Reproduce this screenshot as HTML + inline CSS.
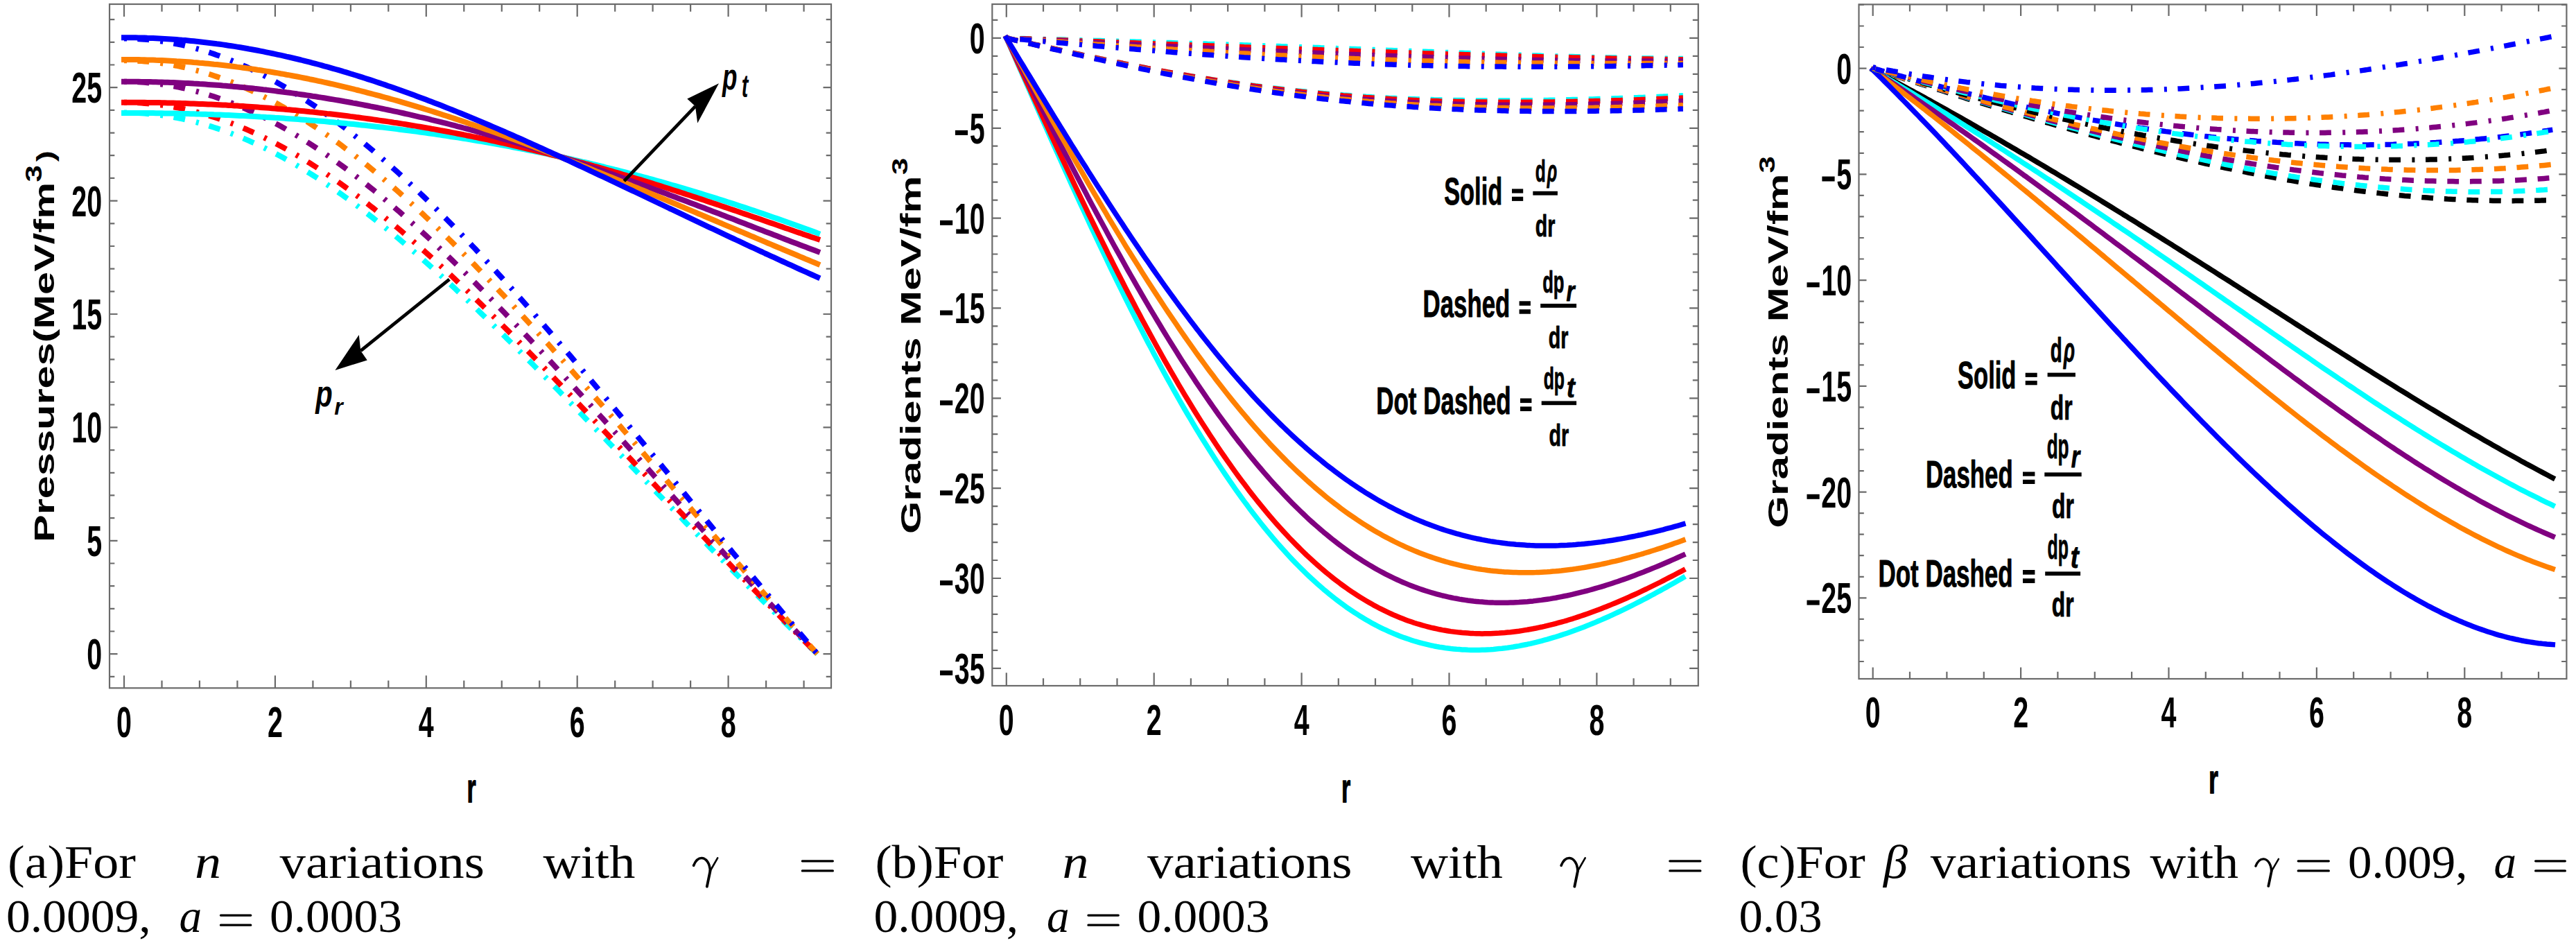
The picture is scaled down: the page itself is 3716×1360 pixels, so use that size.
<!DOCTYPE html>
<html><head><meta charset="utf-8"><style>
html,body{margin:0;padding:0;background:#fff;overflow:hidden}
svg{display:block}
</style></head><body>
<svg width="3716" height="1360" viewBox="0 0 3716 1360">
<rect width="3716" height="1360" fill="#fff"/>
<rect x="158.0" y="6.0" width="1041.0" height="986.3" fill="none" stroke="#6b6b6b" stroke-width="2.2"/>
<path d="M179.0,992.3V974.3M179.0,6.0V24.0M396.9,992.3V974.3M396.9,6.0V24.0M614.8,992.3V974.3M614.8,6.0V24.0M832.7,992.3V974.3M832.7,6.0V24.0M1050.6,992.3V974.3M1050.6,6.0V24.0M233.5,992.3V981.5M233.5,6.0V16.8M287.9,992.3V981.5M287.9,6.0V16.8M342.4,992.3V981.5M342.4,6.0V16.8M451.4,992.3V981.5M451.4,6.0V16.8M505.9,992.3V981.5M505.9,6.0V16.8M560.3,992.3V981.5M560.3,6.0V16.8M669.3,992.3V981.5M669.3,6.0V16.8M723.8,992.3V981.5M723.8,6.0V16.8M778.2,992.3V981.5M778.2,6.0V16.8M887.2,992.3V981.5M887.2,6.0V16.8M941.6,992.3V981.5M941.6,6.0V16.8M996.1,992.3V981.5M996.1,6.0V16.8M1105.1,992.3V981.5M1105.1,6.0V16.8M1159.6,992.3V981.5M1159.6,6.0V16.8M158.0,943.2H169.5M1199.0,943.2H1187.5M158.0,779.8H169.5M1199.0,779.8H1187.5M158.0,616.4H169.5M1199.0,616.4H1187.5M158.0,453.0H169.5M1199.0,453.0H1187.5M158.0,289.6H169.5M1199.0,289.6H1187.5M158.0,126.2H169.5M1199.0,126.2H1187.5M158.0,975.9H165.3M1199.0,975.9H1191.7M158.0,910.5H165.3M1199.0,910.5H1191.7M158.0,877.8H165.3M1199.0,877.8H1191.7M158.0,845.2H165.3M1199.0,845.2H1191.7M158.0,812.5H165.3M1199.0,812.5H1191.7M158.0,747.1H165.3M1199.0,747.1H1191.7M158.0,714.4H165.3M1199.0,714.4H1191.7M158.0,681.8H165.3M1199.0,681.8H1191.7M158.0,649.1H165.3M1199.0,649.1H1191.7M158.0,583.7H165.3M1199.0,583.7H1191.7M158.0,551.0H165.3M1199.0,551.0H1191.7M158.0,518.4H165.3M1199.0,518.4H1191.7M158.0,485.7H165.3M1199.0,485.7H1191.7M158.0,420.3H165.3M1199.0,420.3H1191.7M158.0,387.6H165.3M1199.0,387.6H1191.7M158.0,355.0H165.3M1199.0,355.0H1191.7M158.0,322.3H165.3M1199.0,322.3H1191.7M158.0,256.9H165.3M1199.0,256.9H1191.7M158.0,224.2H165.3M1199.0,224.2H1191.7M158.0,191.6H165.3M1199.0,191.6H1191.7M158.0,158.9H165.3M1199.0,158.9H1191.7M158.0,93.5H165.3M1199.0,93.5H1191.7M158.0,60.8H165.3M1199.0,60.8H1191.7M158.0,28.2H165.3M1199.0,28.2H1191.7" stroke="#6b6b6b" stroke-width="2.2" fill="none"/>
<path d="M179.0,162.5 183.2,162.5 187.4,162.6 191.6,162.7 195.7,162.8 199.9,163.0 204.1,163.3 208.3,163.6 212.5,163.9 216.7,164.3 220.8,164.7 225.0,165.2 229.2,165.7 233.4,166.2 237.6,166.8 241.8,167.5 246.0,168.2 250.1,168.9 254.3,169.7 258.5,170.5 262.7,171.4 266.9,172.3 271.1,173.2 275.2,174.2 279.4,175.2 283.6,176.3 287.8,177.4 292.0,178.6 296.2,179.8 300.4,181.1 304.5,182.4 308.7,183.7 312.9,185.1 317.1,186.5 321.3,187.9 325.5,189.4 329.7,191.0 333.8,192.6 338.0,194.2 342.2,195.8 346.4,197.5 350.6,199.3 354.8,201.1 358.9,202.9 363.1,204.8 367.3,206.7 371.5,208.6 375.7,210.6 379.9,212.6 384.1,214.6 388.2,216.7 392.4,218.9 396.6,221.0 400.8,223.2 405.0,225.5 409.2,227.8 413.3,230.1 417.5,232.4 421.7,234.8 425.9,237.2 430.1,239.7 434.3,242.2 438.5,244.7 442.6,247.3 446.8,249.9 451.0,252.5 455.2,255.2 459.4,257.9 463.6,260.6 467.7,263.4 471.9,266.2 476.1,269.0 480.3,271.8 484.5,274.7 488.7,277.6 492.9,280.6 497.0,283.6 501.2,286.6 505.4,289.6 509.6,292.7 513.8,295.8 518.0,298.9 522.2,302.1 526.3,305.3 530.5,308.5 534.7,311.7 538.9,315.0 543.1,318.3 547.3,321.6 551.4,324.9 555.6,328.3 559.8,331.7 564.0,335.1 568.2,338.6 572.4,342.0 576.6,345.5 580.7,349.0 584.9,352.6 589.1,356.1 593.3,359.7 597.5,363.3 601.7,366.9 605.8,370.6 610.0,374.3 614.2,378.0 618.4,381.7 622.6,385.4 626.8,389.1 631.0,392.9 635.1,396.7 639.3,400.5 643.5,404.3 647.7,408.2 651.9,412.0 656.1,415.9 660.2,419.8 664.4,423.7 668.6,427.7 672.8,431.6 677.0,435.6 681.2,439.5 685.4,443.5 689.5,447.5 693.7,451.6 697.9,455.6 702.1,459.6 706.3,463.7 710.5,467.8 714.7,471.9 718.8,476.0 723.0,480.1 727.2,484.2 731.4,488.3 735.6,492.5 739.8,496.6 743.9,500.8 748.1,505.0 752.3,509.2 756.5,513.3 760.7,517.6 764.9,521.8 769.1,526.0 773.2,530.2 777.4,534.5 781.6,538.7 785.8,543.0 790.0,547.2 794.2,551.5 798.3,555.8 802.5,560.0 806.7,564.3 810.9,568.6 815.1,572.9 819.3,577.2 823.5,581.5 827.6,585.8 831.8,590.2 836.0,594.5 840.2,598.8 844.4,603.1 848.6,607.5 852.7,611.8 856.9,616.1 861.1,620.5 865.3,624.8 869.5,629.2 873.7,633.5 877.9,637.9 882.0,642.2 886.2,646.6 890.4,650.9 894.6,655.3 898.8,659.6 903.0,664.0 907.2,668.4 911.3,672.7 915.5,677.1 919.7,681.4 923.9,685.8 928.1,690.1 932.3,694.5 936.4,698.8 940.6,703.2 944.8,707.5 949.0,711.9 953.2,716.2 957.4,720.6 961.6,724.9 965.7,729.2 969.9,733.6 974.1,737.9 978.3,742.2 982.5,746.5 986.7,750.9 990.8,755.2 995.0,759.5 999.2,763.8 1003.4,768.1 1007.6,772.4 1011.8,776.7 1016.0,781.0 1020.1,785.3 1024.3,789.6 1028.5,793.8 1032.7,798.1 1036.9,802.4 1041.1,806.6 1045.2,810.9 1049.4,815.1 1053.6,819.4 1057.8,823.6 1062.0,827.8 1066.2,832.0 1070.4,836.3 1074.5,840.5 1078.7,844.7 1082.9,848.9 1087.1,853.1 1091.3,857.2 1095.5,861.4 1099.7,865.6 1103.8,869.7 1108.0,873.9 1112.2,878.0 1116.4,882.2 1120.6,886.3 1124.8,890.4 1128.9,894.5 1133.1,898.6 1137.3,902.7 1141.5,906.8 1145.7,910.9 1149.9,915.0 1154.1,919.0 1158.2,923.1 1162.4,927.1 1166.6,931.1 1170.8,935.2 1175.0,939.2 1179.2,943.2" fill="none" stroke="#00ffff" stroke-width="8" stroke-linecap="butt" stroke-linejoin="round" stroke-dasharray="4 15.4 16.8 16.3" stroke-dashoffset="0"/>
<path d="M179.0,147.8 183.2,147.8 187.4,147.9 191.6,148.0 195.7,148.1 199.9,148.3 204.1,148.6 208.3,148.9 212.5,149.2 216.7,149.6 220.8,150.0 225.0,150.5 229.2,151.0 233.4,151.5 237.6,152.1 241.8,152.8 246.0,153.5 250.1,154.2 254.3,155.0 258.5,155.8 262.7,156.6 266.9,157.5 271.1,158.5 275.2,159.5 279.4,160.5 283.6,161.6 287.8,162.7 292.0,163.9 296.2,165.1 300.4,166.3 304.5,167.6 308.7,168.9 312.9,170.3 317.1,171.7 321.3,173.2 325.5,174.7 329.7,176.2 333.8,177.8 338.0,179.4 342.2,181.1 346.4,182.8 350.6,184.5 354.8,186.3 358.9,188.1 363.1,190.0 367.3,191.9 371.5,193.8 375.7,195.8 379.9,197.8 384.1,199.9 388.2,202.0 392.4,204.1 396.6,206.3 400.8,208.5 405.0,210.7 409.2,213.0 413.3,215.3 417.5,217.7 421.7,220.1 425.9,222.5 430.1,225.0 434.3,227.5 438.5,230.0 442.6,232.6 446.8,235.2 451.0,237.8 455.2,240.5 459.4,243.2 463.6,245.9 467.7,248.7 471.9,251.5 476.1,254.3 480.3,257.2 484.5,260.1 488.7,263.0 492.9,266.0 497.0,269.0 501.2,272.0 505.4,275.1 509.6,278.2 513.8,281.3 518.0,284.4 522.2,287.6 526.3,290.8 530.5,294.0 534.7,297.3 538.9,300.5 543.1,303.9 547.3,307.2 551.4,310.6 555.6,314.0 559.8,317.4 564.0,320.8 568.2,324.3 572.4,327.8 576.6,331.3 580.7,334.8 584.9,338.4 589.1,342.0 593.3,345.6 597.5,349.2 601.7,352.9 605.8,356.6 610.0,360.3 614.2,364.0 618.4,367.8 622.6,371.5 626.8,375.3 631.0,379.1 635.1,382.9 639.3,386.8 643.5,390.7 647.7,394.5 651.9,398.4 656.1,402.4 660.2,406.3 664.4,410.3 668.6,414.2 672.8,418.2 677.0,422.2 681.2,426.3 685.4,430.3 689.5,434.4 693.7,438.4 697.9,442.5 702.1,446.6 706.3,450.7 710.5,454.9 714.7,459.0 718.8,463.2 723.0,467.3 727.2,471.5 731.4,475.7 735.6,479.9 739.8,484.2 743.9,488.4 748.1,492.6 752.3,496.9 756.5,501.1 760.7,505.4 764.9,509.7 769.1,514.0 773.2,518.3 777.4,522.6 781.6,526.9 785.8,531.3 790.0,535.6 794.2,540.0 798.3,544.3 802.5,548.7 806.7,553.0 810.9,557.4 815.1,561.8 819.3,566.2 823.5,570.6 827.6,575.0 831.8,579.4 836.0,583.8 840.2,588.2 844.4,592.6 848.6,597.1 852.7,601.5 856.9,605.9 861.1,610.4 865.3,614.8 869.5,619.3 873.7,623.7 877.9,628.2 882.0,632.6 886.2,637.1 890.4,641.5 894.6,646.0 898.8,650.5 903.0,654.9 907.2,659.4 911.3,663.8 915.5,668.3 919.7,672.8 923.9,677.2 928.1,681.7 932.3,686.2 936.4,690.6 940.6,695.1 944.8,699.6 949.0,704.0 953.2,708.5 957.4,713.0 961.6,717.4 965.7,721.9 969.9,726.3 974.1,730.8 978.3,735.2 982.5,739.7 986.7,744.1 990.8,748.6 995.0,753.0 999.2,757.5 1003.4,761.9 1007.6,766.3 1011.8,770.8 1016.0,775.2 1020.1,779.6 1024.3,784.0 1028.5,788.4 1032.7,792.8 1036.9,797.2 1041.1,801.6 1045.2,806.0 1049.4,810.4 1053.6,814.8 1057.8,819.2 1062.0,823.5 1066.2,827.9 1070.4,832.3 1074.5,836.6 1078.7,841.0 1082.9,845.3 1087.1,849.6 1091.3,854.0 1095.5,858.3 1099.7,862.6 1103.8,866.9 1108.0,871.2 1112.2,875.5 1116.4,879.8 1120.6,884.1 1124.8,888.4 1128.9,892.6 1133.1,896.9 1137.3,901.1 1141.5,905.4 1145.7,909.6 1149.9,913.8 1154.1,918.1 1158.2,922.3 1162.4,926.5 1166.6,930.7 1170.8,934.9 1175.0,939.0 1179.2,943.2" fill="none" stroke="#ff0000" stroke-width="8" stroke-linecap="butt" stroke-linejoin="round" stroke-dasharray="4 15.4 16.8 16.3" stroke-dashoffset="0"/>
<path d="M179.0,117.7 183.2,117.7 187.4,117.8 191.6,117.9 195.7,118.1 199.9,118.3 204.1,118.5 208.3,118.8 212.5,119.2 216.7,119.5 220.8,120.0 225.0,120.5 229.2,121.0 233.4,121.5 237.6,122.2 241.8,122.8 246.0,123.5 250.1,124.3 254.3,125.0 258.5,125.9 262.7,126.8 266.9,127.7 271.1,128.7 275.2,129.7 279.4,130.7 283.6,131.8 287.8,133.0 292.0,134.2 296.2,135.4 300.4,136.7 304.5,138.0 308.7,139.3 312.9,140.7 317.1,142.2 321.3,143.7 325.5,145.2 329.7,146.8 333.8,148.4 338.0,150.1 342.2,151.8 346.4,153.5 350.6,155.3 354.8,157.1 358.9,159.0 363.1,160.9 367.3,162.8 371.5,164.8 375.7,166.8 379.9,168.9 384.1,171.0 388.2,173.1 392.4,175.3 396.6,177.6 400.8,179.8 405.0,182.1 409.2,184.4 413.3,186.8 417.5,189.2 421.7,191.7 425.9,194.2 430.1,196.7 434.3,199.2 438.5,201.8 442.6,204.5 446.8,207.1 451.0,209.8 455.2,212.6 459.4,215.4 463.6,218.2 467.7,221.0 471.9,223.9 476.1,226.8 480.3,229.7 484.5,232.7 488.7,235.7 492.9,238.7 497.0,241.8 501.2,244.9 505.4,248.1 509.6,251.2 513.8,254.4 518.0,257.6 522.2,260.9 526.3,264.2 530.5,267.5 534.7,270.9 538.9,274.2 543.1,277.6 547.3,281.1 551.4,284.5 555.6,288.0 559.8,291.5 564.0,295.1 568.2,298.6 572.4,302.2 576.6,305.8 580.7,309.5 584.9,313.2 589.1,316.8 593.3,320.6 597.5,324.3 601.7,328.1 605.8,331.9 610.0,335.7 614.2,339.5 618.4,343.4 622.6,347.3 626.8,351.2 631.0,355.1 635.1,359.0 639.3,363.0 643.5,367.0 647.7,371.0 651.9,375.0 656.1,379.1 660.2,383.1 664.4,387.2 668.6,391.3 672.8,395.4 677.0,399.6 681.2,403.7 685.4,407.9 689.5,412.1 693.7,416.3 697.9,420.5 702.1,424.8 706.3,429.0 710.5,433.3 714.7,437.6 718.8,441.9 723.0,446.2 727.2,450.5 731.4,454.9 735.6,459.2 739.8,463.6 743.9,468.0 748.1,472.4 752.3,476.8 756.5,481.2 760.7,485.6 764.9,490.1 769.1,494.5 773.2,499.0 777.4,503.4 781.6,507.9 785.8,512.4 790.0,516.9 794.2,521.4 798.3,525.9 802.5,530.5 806.7,535.0 810.9,539.5 815.1,544.1 819.3,548.7 823.5,553.2 827.6,557.8 831.8,562.4 836.0,567.0 840.2,571.6 844.4,576.2 848.6,580.8 852.7,585.4 856.9,590.0 861.1,594.6 865.3,599.2 869.5,603.8 873.7,608.5 877.9,613.1 882.0,617.7 886.2,622.4 890.4,627.0 894.6,631.7 898.8,636.3 903.0,641.0 907.2,645.6 911.3,650.3 915.5,654.9 919.7,659.6 923.9,664.3 928.1,668.9 932.3,673.6 936.4,678.2 940.6,682.9 944.8,687.6 949.0,692.2 953.2,696.9 957.4,701.5 961.6,706.2 965.7,710.9 969.9,715.5 974.1,720.2 978.3,724.8 982.5,729.5 986.7,734.1 990.8,738.8 995.0,743.4 999.2,748.1 1003.4,752.7 1007.6,757.4 1011.8,762.0 1016.0,766.6 1020.1,771.3 1024.3,775.9 1028.5,780.5 1032.7,785.1 1036.9,789.7 1041.1,794.3 1045.2,799.0 1049.4,803.6 1053.6,808.2 1057.8,812.7 1062.0,817.3 1066.2,821.9 1070.4,826.5 1074.5,831.1 1078.7,835.6 1082.9,840.2 1087.1,844.7 1091.3,849.3 1095.5,853.8 1099.7,858.4 1103.8,862.9 1108.0,867.4 1112.2,871.9 1116.4,876.4 1120.6,880.9 1124.8,885.4 1128.9,889.9 1133.1,894.4 1137.3,898.9 1141.5,903.3 1145.7,907.8 1149.9,912.3 1154.1,916.7 1158.2,921.1 1162.4,925.6 1166.6,930.0 1170.8,934.4 1175.0,938.8 1179.2,943.2" fill="none" stroke="#800080" stroke-width="8" stroke-linecap="butt" stroke-linejoin="round" stroke-dasharray="4 15.4 16.8 16.3" stroke-dashoffset="0"/>
<path d="M179.0,87.3 183.2,87.3 187.4,87.4 191.6,87.5 195.7,87.7 199.9,87.9 204.1,88.1 208.3,88.4 212.5,88.8 216.7,89.2 220.8,89.6 225.0,90.1 229.2,90.6 233.4,91.2 237.6,91.8 241.8,92.5 246.0,93.2 250.1,93.9 254.3,94.7 258.5,95.6 262.7,96.5 266.9,97.4 271.1,98.4 275.2,99.4 279.4,100.5 283.6,101.6 287.8,102.7 292.0,103.9 296.2,105.2 300.4,106.5 304.5,107.8 308.7,109.2 312.9,110.6 317.1,112.0 321.3,113.5 325.5,115.1 329.7,116.7 333.8,118.3 338.0,120.0 342.2,121.7 346.4,123.5 350.6,125.3 354.8,127.1 358.9,129.0 363.1,130.9 367.3,132.9 371.5,134.9 375.7,137.0 379.9,139.1 384.1,141.2 388.2,143.4 392.4,145.6 396.6,147.8 400.8,150.1 405.0,152.4 409.2,154.8 413.3,157.2 417.5,159.7 421.7,162.1 425.9,164.7 430.1,167.2 434.3,169.8 438.5,172.4 442.6,175.1 446.8,177.8 451.0,180.6 455.2,183.3 459.4,186.2 463.6,189.0 467.7,191.9 471.9,194.8 476.1,197.8 480.3,200.8 484.5,203.8 488.7,206.8 492.9,209.9 497.0,213.1 501.2,216.2 505.4,219.4 509.6,222.6 513.8,225.9 518.0,229.2 522.2,232.5 526.3,235.8 530.5,239.2 534.7,242.6 538.9,246.1 543.1,249.5 547.3,253.0 551.4,256.6 555.6,260.1 559.8,263.7 564.0,267.3 568.2,270.9 572.4,274.6 576.6,278.3 580.7,282.0 584.9,285.8 589.1,289.6 593.3,293.4 597.5,297.2 601.7,301.0 605.8,304.9 610.0,308.8 614.2,312.8 618.4,316.7 622.6,320.7 626.8,324.7 631.0,328.7 635.1,332.7 639.3,336.8 643.5,340.9 647.7,345.0 651.9,349.1 656.1,353.3 660.2,357.5 664.4,361.7 668.6,365.9 672.8,370.1 677.0,374.4 681.2,378.6 685.4,382.9 689.5,387.2 693.7,391.6 697.9,395.9 702.1,400.3 706.3,404.7 710.5,409.1 714.7,413.5 718.8,417.9 723.0,422.4 727.2,426.8 731.4,431.3 735.6,435.8 739.8,440.3 743.9,444.8 748.1,449.4 752.3,453.9 756.5,458.5 760.7,463.0 764.9,467.6 769.1,472.2 773.2,476.8 777.4,481.5 781.6,486.1 785.8,490.8 790.0,495.4 794.2,500.1 798.3,504.8 802.5,509.5 806.7,514.2 810.9,518.9 815.1,523.6 819.3,528.3 823.5,533.1 827.6,537.8 831.8,542.6 836.0,547.3 840.2,552.1 844.4,556.9 848.6,561.7 852.7,566.5 856.9,571.3 861.1,576.1 865.3,580.9 869.5,585.7 873.7,590.5 877.9,595.4 882.0,600.2 886.2,605.0 890.4,609.9 894.6,614.7 898.8,619.6 903.0,624.4 907.2,629.3 911.3,634.2 915.5,639.0 919.7,643.9 923.9,648.8 928.1,653.6 932.3,658.5 936.4,663.4 940.6,668.3 944.8,673.2 949.0,678.0 953.2,682.9 957.4,687.8 961.6,692.7 965.7,697.6 969.9,702.5 974.1,707.4 978.3,712.2 982.5,717.1 986.7,722.0 990.8,726.9 995.0,731.8 999.2,736.7 1003.4,741.6 1007.6,746.4 1011.8,751.3 1016.0,756.2 1020.1,761.1 1024.3,765.9 1028.5,770.8 1032.7,775.7 1036.9,780.5 1041.1,785.4 1045.2,790.3 1049.4,795.1 1053.6,800.0 1057.8,804.8 1062.0,809.7 1066.2,814.5 1070.4,819.3 1074.5,824.2 1078.7,829.0 1082.9,833.8 1087.1,838.6 1091.3,843.5 1095.5,848.3 1099.7,853.1 1103.8,857.9 1108.0,862.7 1112.2,867.5 1116.4,872.2 1120.6,877.0 1124.8,881.8 1128.9,886.5 1133.1,891.3 1137.3,896.1 1141.5,900.8 1145.7,905.5 1149.9,910.3 1154.1,915.0 1158.2,919.7 1162.4,924.4 1166.6,929.1 1170.8,933.8 1175.0,938.5 1179.2,943.2" fill="none" stroke="#ff8000" stroke-width="8" stroke-linecap="butt" stroke-linejoin="round" stroke-dasharray="4 15.4 16.8 16.3" stroke-dashoffset="0"/>
<path d="M179.0,55.6 183.2,55.6 187.4,55.7 191.6,55.8 195.7,56.0 199.9,56.2 204.1,56.5 208.3,56.8 212.5,57.1 216.7,57.5 220.8,57.9 225.0,58.4 229.2,59.0 233.4,59.6 237.6,60.2 241.8,60.9 246.0,61.6 250.1,62.4 254.3,63.2 258.5,64.0 262.7,64.9 266.9,65.9 271.1,66.9 275.2,67.9 279.4,69.0 283.6,70.2 287.8,71.3 292.0,72.6 296.2,73.8 300.4,75.1 304.5,76.5 308.7,77.9 312.9,79.4 317.1,80.8 321.3,82.4 325.5,84.0 329.7,85.6 333.8,87.3 338.0,89.0 342.2,90.7 346.4,92.5 350.6,94.4 354.8,96.2 358.9,98.2 363.1,100.1 367.3,102.2 371.5,104.2 375.7,106.3 379.9,108.4 384.1,110.6 388.2,112.8 392.4,115.1 396.6,117.4 400.8,119.7 405.0,122.1 409.2,124.5 413.3,127.0 417.5,129.5 421.7,132.0 425.9,134.6 430.1,137.2 434.3,139.9 438.5,142.6 442.6,145.3 446.8,148.1 451.0,150.9 455.2,153.7 459.4,156.6 463.6,159.5 467.7,162.5 471.9,165.5 476.1,168.5 480.3,171.6 484.5,174.7 488.7,177.8 492.9,181.0 497.0,184.2 501.2,187.4 505.4,190.7 509.6,194.0 513.8,197.3 518.0,200.7 522.2,204.1 526.3,207.5 530.5,211.0 534.7,214.5 538.9,218.0 543.1,221.6 547.3,225.2 551.4,228.8 555.6,232.4 559.8,236.1 564.0,239.8 568.2,243.6 572.4,247.3 576.6,251.1 580.7,255.0 584.9,258.8 589.1,262.7 593.3,266.6 597.5,270.5 601.7,274.5 605.8,278.5 610.0,282.5 614.2,286.5 618.4,290.6 622.6,294.7 626.8,298.8 631.0,303.0 635.1,307.1 639.3,311.3 643.5,315.5 647.7,319.8 651.9,324.0 656.1,328.3 660.2,332.6 664.4,336.9 668.6,341.3 672.8,345.6 677.0,350.0 681.2,354.4 685.4,358.8 689.5,363.3 693.7,367.8 697.9,372.2 702.1,376.8 706.3,381.3 710.5,385.8 714.7,390.4 718.8,395.0 723.0,399.5 727.2,404.2 731.4,408.8 735.6,413.4 739.8,418.1 743.9,422.8 748.1,427.5 752.3,432.2 756.5,436.9 760.7,441.6 764.9,446.4 769.1,451.1 773.2,455.9 777.4,460.7 781.6,465.5 785.8,470.3 790.0,475.2 794.2,480.0 798.3,484.8 802.5,489.7 806.7,494.6 810.9,499.5 815.1,504.4 819.3,509.3 823.5,514.2 827.6,519.1 831.8,524.1 836.0,529.0 840.2,534.0 844.4,538.9 848.6,543.9 852.7,548.9 856.9,553.9 861.1,558.9 865.3,563.9 869.5,568.9 873.7,573.9 877.9,578.9 882.0,583.9 886.2,589.0 890.4,594.0 894.6,599.1 898.8,604.1 903.0,609.2 907.2,614.2 911.3,619.3 915.5,624.4 919.7,629.4 923.9,634.5 928.1,639.6 932.3,644.7 936.4,649.8 940.6,654.9 944.8,660.0 949.0,665.1 953.2,670.1 957.4,675.2 961.6,680.3 965.7,685.5 969.9,690.6 974.1,695.7 978.3,700.8 982.5,705.9 986.7,711.0 990.8,716.1 995.0,721.2 999.2,726.3 1003.4,731.4 1007.6,736.5 1011.8,741.6 1016.0,746.7 1020.1,751.8 1024.3,756.9 1028.5,762.0 1032.7,767.1 1036.9,772.2 1041.1,777.3 1045.2,782.4 1049.4,787.5 1053.6,792.6 1057.8,797.7 1062.0,802.8 1066.2,807.8 1070.4,812.9 1074.5,818.0 1078.7,823.1 1082.9,828.1 1087.1,833.2 1091.3,838.2 1095.5,843.3 1099.7,848.3 1103.8,853.4 1108.0,858.4 1112.2,863.4 1116.4,868.5 1120.6,873.5 1124.8,878.5 1128.9,883.5 1133.1,888.5 1137.3,893.5 1141.5,898.5 1145.7,903.5 1149.9,908.5 1154.1,913.5 1158.2,918.4 1162.4,923.4 1166.6,928.4 1170.8,933.3 1175.0,938.3 1179.2,943.2" fill="none" stroke="#0000ff" stroke-width="8" stroke-linecap="butt" stroke-linejoin="round" stroke-dasharray="4 15.4 16.8 16.3" stroke-dashoffset="0"/>
<path d="M179.0,162.9 183.2,162.9 187.4,162.9 191.6,162.9 195.7,162.9 199.9,162.9 204.1,163.0 208.3,163.0 212.5,163.0 216.7,163.1 220.8,163.1 225.0,163.2 229.2,163.2 233.4,163.3 237.6,163.4 241.8,163.4 246.0,163.5 250.1,163.6 254.3,163.7 258.5,163.8 262.7,163.9 266.9,164.0 271.1,164.1 275.2,164.2 279.4,164.3 283.6,164.4 287.8,164.6 292.0,164.7 296.2,164.8 300.4,165.0 304.5,165.1 308.7,165.3 312.9,165.4 317.1,165.6 321.3,165.8 325.5,166.0 329.7,166.1 333.8,166.3 338.0,166.5 342.2,166.7 346.4,166.9 350.6,167.1 354.8,167.3 358.9,167.6 363.1,167.8 367.3,168.0 371.5,168.2 375.7,168.5 379.9,168.7 384.1,169.0 388.2,169.2 392.4,169.5 396.6,169.8 400.8,170.0 405.0,170.3 409.2,170.6 413.3,170.9 417.5,171.2 421.7,171.5 425.9,171.8 430.1,172.1 434.3,172.4 438.5,172.7 442.6,173.1 446.8,173.4 451.0,173.7 455.2,174.1 459.4,174.4 463.6,174.8 467.7,175.1 471.9,175.5 476.1,175.9 480.3,176.3 484.5,176.7 488.7,177.0 492.9,177.4 497.0,177.8 501.2,178.3 505.4,178.7 509.6,179.1 513.8,179.5 518.0,180.0 522.2,180.4 526.3,180.8 530.5,181.3 534.7,181.7 538.9,182.2 543.1,182.7 547.3,183.2 551.4,183.6 555.6,184.1 559.8,184.6 564.0,185.1 568.2,185.6 572.4,186.1 576.6,186.7 580.7,187.2 584.9,187.7 589.1,188.3 593.3,188.8 597.5,189.4 601.7,189.9 605.8,190.5 610.0,191.1 614.2,191.6 618.4,192.2 622.6,192.8 626.8,193.4 631.0,194.0 635.1,194.6 639.3,195.3 643.5,195.9 647.7,196.5 651.9,197.2 656.1,197.8 660.2,198.4 664.4,199.1 668.6,199.8 672.8,200.4 677.0,201.1 681.2,201.8 685.4,202.5 689.5,203.2 693.7,203.9 697.9,204.6 702.1,205.4 706.3,206.1 710.5,206.8 714.7,207.6 718.8,208.3 723.0,209.1 727.2,209.8 731.4,210.6 735.6,211.4 739.8,212.2 743.9,213.0 748.1,213.8 752.3,214.6 756.5,215.4 760.7,216.2 764.9,217.0 769.1,217.9 773.2,218.7 777.4,219.6 781.6,220.4 785.8,221.3 790.0,222.2 794.2,223.1 798.3,224.0 802.5,224.9 806.7,225.8 810.9,226.7 815.1,227.6 819.3,228.5 823.5,229.5 827.6,230.4 831.8,231.3 836.0,232.3 840.2,233.3 844.4,234.2 848.6,235.2 852.7,236.2 856.9,237.2 861.1,238.2 865.3,239.2 869.5,240.2 873.7,241.3 877.9,242.3 882.0,243.3 886.2,244.4 890.4,245.4 894.6,246.5 898.8,247.6 903.0,248.7 907.2,249.8 911.3,250.8 915.5,251.9 919.7,253.1 923.9,254.2 928.1,255.3 932.3,256.4 936.4,257.6 940.6,258.7 944.8,259.9 949.0,261.0 953.2,262.2 957.4,263.4 961.6,264.6 965.7,265.8 969.9,267.0 974.1,268.2 978.3,269.4 982.5,270.6 986.7,271.9 990.8,273.1 995.0,274.4 999.2,275.6 1003.4,276.9 1007.6,278.1 1011.8,279.4 1016.0,280.7 1020.1,282.0 1024.3,283.3 1028.5,284.6 1032.7,285.9 1036.9,287.2 1041.1,288.6 1045.2,289.9 1049.4,291.2 1053.6,292.6 1057.8,293.9 1062.0,295.3 1066.2,296.7 1070.4,298.1 1074.5,299.4 1078.7,300.8 1082.9,302.2 1087.1,303.6 1091.3,305.0 1095.5,306.5 1099.7,307.9 1103.8,309.3 1108.0,310.8 1112.2,312.2 1116.4,313.7 1120.6,315.1 1124.8,316.6 1128.9,318.0 1133.1,319.5 1137.3,321.0 1141.5,322.5 1145.7,324.0 1149.9,325.5 1154.1,327.0 1158.2,328.5 1162.4,330.0 1166.6,331.6 1170.8,333.1 1175.0,334.6 1179.2,336.2" fill="none" stroke="#00ffff" stroke-width="8" stroke-linecap="square" stroke-linejoin="round"/>
<path d="M179.0,147.7 183.2,147.7 187.4,147.7 191.6,147.7 195.7,147.7 199.9,147.7 204.1,147.8 208.3,147.8 212.5,147.9 216.7,147.9 220.8,148.0 225.0,148.1 229.2,148.1 233.4,148.2 237.6,148.3 241.8,148.4 246.0,148.5 250.1,148.6 254.3,148.7 258.5,148.8 262.7,149.0 266.9,149.1 271.1,149.2 275.2,149.4 279.4,149.5 283.6,149.7 287.8,149.9 292.0,150.0 296.2,150.2 300.4,150.4 304.5,150.6 308.7,150.8 312.9,151.0 317.1,151.2 321.3,151.4 325.5,151.6 329.7,151.9 333.8,152.1 338.0,152.4 342.2,152.6 346.4,152.9 350.6,153.1 354.8,153.4 358.9,153.7 363.1,154.0 367.3,154.3 371.5,154.6 375.7,154.9 379.9,155.2 384.1,155.5 388.2,155.8 392.4,156.2 396.6,156.5 400.8,156.9 405.0,157.2 409.2,157.6 413.3,158.0 417.5,158.3 421.7,158.7 425.9,159.1 430.1,159.5 434.3,159.9 438.5,160.3 442.6,160.7 446.8,161.2 451.0,161.6 455.2,162.0 459.4,162.5 463.6,162.9 467.7,163.4 471.9,163.9 476.1,164.3 480.3,164.8 484.5,165.3 488.7,165.8 492.9,166.3 497.0,166.8 501.2,167.3 505.4,167.9 509.6,168.4 513.8,169.0 518.0,169.5 522.2,170.1 526.3,170.6 530.5,171.2 534.7,171.8 538.9,172.4 543.1,173.0 547.3,173.6 551.4,174.2 555.6,174.8 559.8,175.4 564.0,176.0 568.2,176.7 572.4,177.3 576.6,178.0 580.7,178.6 584.9,179.3 589.1,180.0 593.3,180.7 597.5,181.4 601.7,182.1 605.8,182.8 610.0,183.5 614.2,184.2 618.4,184.9 622.6,185.7 626.8,186.4 631.0,187.2 635.1,188.0 639.3,188.7 643.5,189.5 647.7,190.3 651.9,191.1 656.1,191.9 660.2,192.7 664.4,193.5 668.6,194.3 672.8,195.2 677.0,196.0 681.2,196.9 685.4,197.7 689.5,198.6 693.7,199.5 697.9,200.3 702.1,201.2 706.3,202.1 710.5,203.0 714.7,203.9 718.8,204.9 723.0,205.8 727.2,206.7 731.4,207.7 735.6,208.6 739.8,209.6 743.9,210.6 748.1,211.5 752.3,212.5 756.5,213.5 760.7,214.5 764.9,215.5 769.1,216.5 773.2,217.5 777.4,218.6 781.6,219.6 785.8,220.7 790.0,221.7 794.2,222.8 798.3,223.8 802.5,224.9 806.7,226.0 810.9,227.1 815.1,228.2 819.3,229.3 823.5,230.4 827.6,231.5 831.8,232.6 836.0,233.8 840.2,234.9 844.4,236.1 848.6,237.2 852.7,238.4 856.9,239.6 861.1,240.7 865.3,241.9 869.5,243.1 873.7,244.3 877.9,245.5 882.0,246.7 886.2,248.0 890.4,249.2 894.6,250.4 898.8,251.7 903.0,252.9 907.2,254.2 911.3,255.4 915.5,256.7 919.7,258.0 923.9,259.2 928.1,260.5 932.3,261.8 936.4,263.1 940.6,264.4 944.8,265.7 949.0,267.0 953.2,268.4 957.4,269.7 961.6,271.0 965.7,272.3 969.9,273.7 974.1,275.0 978.3,276.4 982.5,277.7 986.7,279.1 990.8,280.5 995.0,281.8 999.2,283.2 1003.4,284.6 1007.6,286.0 1011.8,287.4 1016.0,288.8 1020.1,290.2 1024.3,291.6 1028.5,293.0 1032.7,294.4 1036.9,295.8 1041.1,297.2 1045.2,298.6 1049.4,300.0 1053.6,301.5 1057.8,302.9 1062.0,304.3 1066.2,305.8 1070.4,307.2 1074.5,308.6 1078.7,310.1 1082.9,311.5 1087.1,313.0 1091.3,314.4 1095.5,315.8 1099.7,317.3 1103.8,318.7 1108.0,320.2 1112.2,321.6 1116.4,323.1 1120.6,324.5 1124.8,326.0 1128.9,327.4 1133.1,328.9 1137.3,330.3 1141.5,331.8 1145.7,333.2 1149.9,334.7 1154.1,336.1 1158.2,337.6 1162.4,339.0 1166.6,340.4 1170.8,341.9 1175.0,343.3 1179.2,344.7" fill="none" stroke="#ff0000" stroke-width="8" stroke-linecap="square" stroke-linejoin="round"/>
<path d="M179.0,117.7 183.2,117.7 187.4,117.7 191.6,117.7 195.7,117.8 199.9,117.8 204.1,117.9 208.3,117.9 212.5,118.0 216.7,118.1 220.8,118.2 225.0,118.3 229.2,118.4 233.4,118.5 237.6,118.7 241.8,118.8 246.0,119.0 250.1,119.1 254.3,119.3 258.5,119.5 262.7,119.7 266.9,119.9 271.1,120.1 275.2,120.3 279.4,120.6 283.6,120.8 287.8,121.1 292.0,121.3 296.2,121.6 300.4,121.9 304.5,122.2 308.7,122.5 312.9,122.8 317.1,123.1 321.3,123.5 325.5,123.8 329.7,124.2 333.8,124.5 338.0,124.9 342.2,125.3 346.4,125.7 350.6,126.1 354.8,126.5 358.9,126.9 363.1,127.3 367.3,127.8 371.5,128.2 375.7,128.7 379.9,129.2 384.1,129.6 388.2,130.1 392.4,130.6 396.6,131.1 400.8,131.7 405.0,132.2 409.2,132.7 413.3,133.3 417.5,133.8 421.7,134.4 425.9,135.0 430.1,135.6 434.3,136.2 438.5,136.8 442.6,137.4 446.8,138.0 451.0,138.7 455.2,139.3 459.4,140.0 463.6,140.6 467.7,141.3 471.9,142.0 476.1,142.7 480.3,143.4 484.5,144.1 488.7,144.8 492.9,145.5 497.0,146.3 501.2,147.0 505.4,147.8 509.6,148.6 513.8,149.3 518.0,150.1 522.2,150.9 526.3,151.7 530.5,152.5 534.7,153.4 538.9,154.2 543.1,155.0 547.3,155.9 551.4,156.7 555.6,157.6 559.8,158.5 564.0,159.4 568.2,160.3 572.4,161.2 576.6,162.1 580.7,163.0 584.9,164.0 589.1,164.9 593.3,165.8 597.5,166.8 601.7,167.8 605.8,168.8 610.0,169.7 614.2,170.7 618.4,171.7 622.6,172.8 626.8,173.8 631.0,174.8 635.1,175.8 639.3,176.9 643.5,177.9 647.7,179.0 651.9,180.1 656.1,181.2 660.2,182.3 664.4,183.3 668.6,184.5 672.8,185.6 677.0,186.7 681.2,187.8 685.4,189.0 689.5,190.1 693.7,191.3 697.9,192.4 702.1,193.6 706.3,194.8 710.5,196.0 714.7,197.2 718.8,198.4 723.0,199.6 727.2,200.8 731.4,202.0 735.6,203.2 739.8,204.5 743.9,205.7 748.1,207.0 752.3,208.3 756.5,209.5 760.7,210.8 764.9,212.1 769.1,213.4 773.2,214.7 777.4,216.0 781.6,217.3 785.8,218.6 790.0,220.0 794.2,221.3 798.3,222.6 802.5,224.0 806.7,225.3 810.9,226.7 815.1,228.1 819.3,229.5 823.5,230.8 827.6,232.2 831.8,233.6 836.0,235.0 840.2,236.4 844.4,237.8 848.6,239.3 852.7,240.7 856.9,242.1 861.1,243.6 865.3,245.0 869.5,246.4 873.7,247.9 877.9,249.4 882.0,250.8 886.2,252.3 890.4,253.8 894.6,255.3 898.8,256.7 903.0,258.2 907.2,259.7 911.3,261.2 915.5,262.7 919.7,264.3 923.9,265.8 928.1,267.3 932.3,268.8 936.4,270.3 940.6,271.9 944.8,273.4 949.0,275.0 953.2,276.5 957.4,278.1 961.6,279.6 965.7,281.2 969.9,282.7 974.1,284.3 978.3,285.9 982.5,287.4 986.7,289.0 990.8,290.6 995.0,292.2 999.2,293.7 1003.4,295.3 1007.6,296.9 1011.8,298.5 1016.0,300.1 1020.1,301.7 1024.3,303.3 1028.5,304.9 1032.7,306.5 1036.9,308.1 1041.1,309.7 1045.2,311.3 1049.4,312.9 1053.6,314.5 1057.8,316.1 1062.0,317.8 1066.2,319.4 1070.4,321.0 1074.5,322.6 1078.7,324.2 1082.9,325.8 1087.1,327.4 1091.3,329.1 1095.5,330.7 1099.7,332.3 1103.8,333.9 1108.0,335.5 1112.2,337.1 1116.4,338.7 1120.6,340.3 1124.8,341.9 1128.9,343.6 1133.1,345.2 1137.3,346.8 1141.5,348.4 1145.7,350.0 1149.9,351.6 1154.1,353.2 1158.2,354.8 1162.4,356.3 1166.6,357.9 1170.8,359.5 1175.0,361.1 1179.2,362.7" fill="none" stroke="#800080" stroke-width="8" stroke-linecap="square" stroke-linejoin="round"/>
<path d="M179.0,85.9 183.2,85.9 187.4,85.9 191.6,86.0 195.7,86.0 199.9,86.1 204.1,86.2 208.3,86.3 212.5,86.4 216.7,86.5 220.8,86.6 225.0,86.8 229.2,86.9 233.4,87.1 237.6,87.3 241.8,87.5 246.0,87.7 250.1,87.9 254.3,88.2 258.5,88.4 262.7,88.7 266.9,89.0 271.1,89.3 275.2,89.6 279.4,90.0 283.6,90.3 287.8,90.7 292.0,91.0 296.2,91.4 300.4,91.8 304.5,92.2 308.7,92.7 312.9,93.1 317.1,93.5 321.3,94.0 325.5,94.5 329.7,95.0 333.8,95.5 338.0,96.0 342.2,96.6 346.4,97.1 350.6,97.7 354.8,98.2 358.9,98.8 363.1,99.4 367.3,100.0 371.5,100.7 375.7,101.3 379.9,102.0 384.1,102.6 388.2,103.3 392.4,104.0 396.6,104.7 400.8,105.4 405.0,106.2 409.2,106.9 413.3,107.7 417.5,108.4 421.7,109.2 425.9,110.0 430.1,110.8 434.3,111.6 438.5,112.5 442.6,113.3 446.8,114.2 451.0,115.0 455.2,115.9 459.4,116.8 463.6,117.7 467.7,118.6 471.9,119.5 476.1,120.5 480.3,121.4 484.5,122.4 488.7,123.4 492.9,124.4 497.0,125.4 501.2,126.4 505.4,127.4 509.6,128.4 513.8,129.5 518.0,130.5 522.2,131.6 526.3,132.7 530.5,133.8 534.7,134.9 538.9,136.0 543.1,137.1 547.3,138.2 551.4,139.4 555.6,140.5 559.8,141.7 564.0,142.9 568.2,144.0 572.4,145.2 576.6,146.4 580.7,147.6 584.9,148.9 589.1,150.1 593.3,151.3 597.5,152.6 601.7,153.9 605.8,155.1 610.0,156.4 614.2,157.7 618.4,159.0 622.6,160.3 626.8,161.6 631.0,163.0 635.1,164.3 639.3,165.7 643.5,167.0 647.7,168.4 651.9,169.7 656.1,171.1 660.2,172.5 664.4,173.9 668.6,175.3 672.8,176.7 677.0,178.2 681.2,179.6 685.4,181.0 689.5,182.5 693.7,183.9 697.9,185.4 702.1,186.9 706.3,188.3 710.5,189.8 714.7,191.3 718.8,192.8 723.0,194.3 727.2,195.8 731.4,197.3 735.6,198.9 739.8,200.4 743.9,201.9 748.1,203.5 752.3,205.0 756.5,206.6 760.7,208.2 764.9,209.7 769.1,211.3 773.2,212.9 777.4,214.5 781.6,216.1 785.8,217.7 790.0,219.3 794.2,220.9 798.3,222.5 802.5,224.1 806.7,225.8 810.9,227.4 815.1,229.0 819.3,230.7 823.5,232.3 827.6,234.0 831.8,235.6 836.0,237.3 840.2,239.0 844.4,240.6 848.6,242.3 852.7,244.0 856.9,245.7 861.1,247.4 865.3,249.0 869.5,250.7 873.7,252.4 877.9,254.1 882.0,255.8 886.2,257.5 890.4,259.3 894.6,261.0 898.8,262.7 903.0,264.4 907.2,266.1 911.3,267.9 915.5,269.6 919.7,271.3 923.9,273.1 928.1,274.8 932.3,276.5 936.4,278.3 940.6,280.0 944.8,281.8 949.0,283.5 953.2,285.3 957.4,287.0 961.6,288.8 965.7,290.5 969.9,292.3 974.1,294.0 978.3,295.8 982.5,297.6 986.7,299.3 990.8,301.1 995.0,302.9 999.2,304.6 1003.4,306.4 1007.6,308.2 1011.8,309.9 1016.0,311.7 1020.1,313.5 1024.3,315.2 1028.5,317.0 1032.7,318.8 1036.9,320.6 1041.1,322.3 1045.2,324.1 1049.4,325.9 1053.6,327.6 1057.8,329.4 1062.0,331.2 1066.2,333.0 1070.4,334.7 1074.5,336.5 1078.7,338.3 1082.9,340.1 1087.1,341.8 1091.3,343.6 1095.5,345.4 1099.7,347.1 1103.8,348.9 1108.0,350.7 1112.2,352.4 1116.4,354.2 1120.6,356.0 1124.8,357.7 1128.9,359.5 1133.1,361.3 1137.3,363.0 1141.5,364.8 1145.7,366.5 1149.9,368.3 1154.1,370.1 1158.2,371.8 1162.4,373.6 1166.6,375.3 1170.8,377.1 1175.0,378.8 1179.2,380.6" fill="none" stroke="#ff8000" stroke-width="8" stroke-linecap="square" stroke-linejoin="round"/>
<path d="M179.0,54.2 183.2,54.2 187.4,54.2 191.6,54.3 195.7,54.3 199.9,54.4 204.1,54.5 208.3,54.6 212.5,54.8 216.7,54.9 220.8,55.1 225.0,55.3 229.2,55.5 233.4,55.7 237.6,55.9 241.8,56.2 246.0,56.5 250.1,56.8 254.3,57.1 258.5,57.4 262.7,57.8 266.9,58.1 271.1,58.5 275.2,58.9 279.4,59.3 283.6,59.7 287.8,60.2 292.0,60.7 296.2,61.2 300.4,61.7 304.5,62.2 308.7,62.7 312.9,63.3 317.1,63.8 321.3,64.4 325.5,65.0 329.7,65.7 333.8,66.3 338.0,66.9 342.2,67.6 346.4,68.3 350.6,69.0 354.8,69.7 358.9,70.5 363.1,71.2 367.3,72.0 371.5,72.8 375.7,73.6 379.9,74.4 384.1,75.3 388.2,76.1 392.4,77.0 396.6,77.9 400.8,78.8 405.0,79.7 409.2,80.6 413.3,81.6 417.5,82.5 421.7,83.5 425.9,84.5 430.1,85.5 434.3,86.5 438.5,87.6 442.6,88.6 446.8,89.7 451.0,90.8 455.2,91.9 459.4,93.0 463.6,94.1 467.7,95.3 471.9,96.4 476.1,97.6 480.3,98.8 484.5,100.0 488.7,101.2 492.9,102.4 497.0,103.7 501.2,104.9 505.4,106.2 509.6,107.5 513.8,108.8 518.0,110.1 522.2,111.4 526.3,112.7 530.5,114.1 534.7,115.4 538.9,116.8 543.1,118.2 547.3,119.6 551.4,121.0 555.6,122.4 559.8,123.9 564.0,125.3 568.2,126.8 572.4,128.2 576.6,129.7 580.7,131.2 584.9,132.7 589.1,134.2 593.3,135.8 597.5,137.3 601.7,138.9 605.8,140.4 610.0,142.0 614.2,143.6 618.4,145.2 622.6,146.8 626.8,148.4 631.0,150.0 635.1,151.6 639.3,153.3 643.5,154.9 647.7,156.6 651.9,158.3 656.1,159.9 660.2,161.6 664.4,163.3 668.6,165.0 672.8,166.8 677.0,168.5 681.2,170.2 685.4,172.0 689.5,173.7 693.7,175.5 697.9,177.2 702.1,179.0 706.3,180.8 710.5,182.6 714.7,184.4 718.8,186.2 723.0,188.0 727.2,189.8 731.4,191.6 735.6,193.5 739.8,195.3 743.9,197.1 748.1,199.0 752.3,200.8 756.5,202.7 760.7,204.6 764.9,206.4 769.1,208.3 773.2,210.2 777.4,212.1 781.6,214.0 785.8,215.9 790.0,217.8 794.2,219.7 798.3,221.6 802.5,223.5 806.7,225.5 810.9,227.4 815.1,229.3 819.3,231.2 823.5,233.2 827.6,235.1 831.8,237.1 836.0,239.0 840.2,241.0 844.4,242.9 848.6,244.9 852.7,246.9 856.9,248.8 861.1,250.8 865.3,252.8 869.5,254.7 873.7,256.7 877.9,258.7 882.0,260.7 886.2,262.6 890.4,264.6 894.6,266.6 898.8,268.6 903.0,270.6 907.2,272.6 911.3,274.5 915.5,276.5 919.7,278.5 923.9,280.5 928.1,282.5 932.3,284.5 936.4,286.5 940.6,288.5 944.8,290.5 949.0,292.5 953.2,294.5 957.4,296.5 961.6,298.5 965.7,300.5 969.9,302.4 974.1,304.4 978.3,306.4 982.5,308.4 986.7,310.4 990.8,312.4 995.0,314.4 999.2,316.4 1003.4,318.4 1007.6,320.3 1011.8,322.3 1016.0,324.3 1020.1,326.3 1024.3,328.3 1028.5,330.2 1032.7,332.2 1036.9,334.2 1041.1,336.2 1045.2,338.1 1049.4,340.1 1053.6,342.1 1057.8,344.0 1062.0,346.0 1066.2,347.9 1070.4,349.9 1074.5,351.9 1078.7,353.8 1082.9,355.8 1087.1,357.7 1091.3,359.6 1095.5,361.6 1099.7,363.5 1103.8,365.5 1108.0,367.4 1112.2,369.3 1116.4,371.2 1120.6,373.2 1124.8,375.1 1128.9,377.0 1133.1,378.9 1137.3,380.8 1141.5,382.7 1145.7,384.6 1149.9,386.6 1154.1,388.5 1158.2,390.3 1162.4,392.2 1166.6,394.1 1170.8,396.0 1175.0,397.9 1179.2,399.8" fill="none" stroke="#0000ff" stroke-width="8" stroke-linecap="square" stroke-linejoin="round"/>
<path d="M900.3,261.1 L1003,153.4" stroke="#000" stroke-width="4.8" fill="none"/>
<path d="M1037,120.3 L991.3,142.6 L1003,153.2 L1006.2,177.6 Z" fill="#000"/>
<path d="M648.3,402.9 L520.3,505.9" stroke="#000" stroke-width="4.8" fill="none"/>
<path d="M483.4,533.9 L517.8,483 L520.3,505.9 L529.7,519.4 Z" fill="#000"/>
<text transform="translate(1042.08,128.50) scale(0.6753,1)" font-family='"Liberation Sans", sans-serif' font-weight="bold" font-style="italic" font-size="52" fill="#000">p</text>
<text transform="translate(1069.80,140.40) scale(0.6228,1)" font-family='"Liberation Sans", sans-serif' font-weight="bold" font-style="italic" font-size="46" fill="#000">t</text>
<text transform="translate(455.20,586.20) scale(0.7407,1)" font-family='"Liberation Sans", sans-serif' font-weight="bold" font-style="italic" font-size="54" fill="#000">p</text>
<text transform="translate(482.20,597.50) scale(0.9398,1)" font-family='"Liberation Sans", sans-serif' font-weight="bold" font-style="italic" font-size="34" fill="#000">r</text>
<text transform="translate(168.07,1062.50) scale(0.6250,1)" font-family='"Liberation Sans", sans-serif' font-weight="bold" font-style="normal" font-size="63" fill="#000">0</text>
<text transform="translate(385.97,1062.50) scale(0.6250,1)" font-family='"Liberation Sans", sans-serif' font-weight="bold" font-style="normal" font-size="63" fill="#000">2</text>
<text transform="translate(603.87,1062.50) scale(0.6250,1)" font-family='"Liberation Sans", sans-serif' font-weight="bold" font-style="normal" font-size="63" fill="#000">4</text>
<text transform="translate(821.77,1062.50) scale(0.6250,1)" font-family='"Liberation Sans", sans-serif' font-weight="bold" font-style="normal" font-size="63" fill="#000">6</text>
<text transform="translate(1039.67,1062.50) scale(0.6250,1)" font-family='"Liberation Sans", sans-serif' font-weight="bold" font-style="normal" font-size="63" fill="#000">8</text>
<text transform="translate(125.15,965.20) scale(0.6250,1)" font-family='"Liberation Sans", sans-serif' font-weight="bold" font-style="normal" font-size="63" fill="#000">0</text>
<text transform="translate(125.15,801.80) scale(0.6250,1)" font-family='"Liberation Sans", sans-serif' font-weight="bold" font-style="normal" font-size="63" fill="#000">5</text>
<text transform="translate(103.29,638.40) scale(0.6250,1)" font-family='"Liberation Sans", sans-serif' font-weight="bold" font-style="normal" font-size="63" fill="#000">10</text>
<text transform="translate(103.29,475.00) scale(0.6250,1)" font-family='"Liberation Sans", sans-serif' font-weight="bold" font-style="normal" font-size="63" fill="#000">15</text>
<text transform="translate(103.29,311.60) scale(0.6250,1)" font-family='"Liberation Sans", sans-serif' font-weight="bold" font-style="normal" font-size="63" fill="#000">20</text>
<text transform="translate(103.29,148.20) scale(0.6250,1)" font-family='"Liberation Sans", sans-serif' font-weight="bold" font-style="normal" font-size="63" fill="#000">25</text>
<text transform="translate(673.50,1157.40) scale(0.5641,1)" font-family='"Liberation Sans", sans-serif' font-weight="bold" font-style="normal" font-size="60" fill="#000" stroke="#000" stroke-width="1.3" stroke-linejoin="round">r</text>
<text transform="translate(78.20,782.00) rotate(-90) scale(1.4654,1)" font-family='"Liberation Sans", sans-serif' font-weight="bold" font-style="normal" font-size="40.6" fill="#000">Pressures(MeV/fm</text>
<text transform="translate(60.30,262.50) rotate(-90) scale(1.3213,1)" font-family='"Liberation Sans", sans-serif' font-weight="bold" font-style="normal" font-size="33" fill="#000">3</text>
<text transform="translate(78.20,233.20) rotate(-90) scale(1.3902,1)" font-family='"Liberation Sans", sans-serif' font-weight="bold" font-style="normal" font-size="35" fill="#000">)</text>
<rect x="1431.3" y="6.0" width="1018.5" height="983.0" fill="none" stroke="#6b6b6b" stroke-width="2.2"/>
<path d="M1451.8,989.0V970.2M1451.8,6.0V24.8M1664.7,989.0V970.2M1664.7,6.0V24.8M1877.6,989.0V970.2M1877.6,6.0V24.8M2090.5,989.0V970.2M2090.5,6.0V24.8M2303.4,989.0V970.2M2303.4,6.0V24.8M1505.0,989.0V978.2M1505.0,6.0V16.8M1558.2,989.0V978.2M1558.2,6.0V16.8M1611.5,989.0V978.2M1611.5,6.0V16.8M1717.9,989.0V978.2M1717.9,6.0V16.8M1771.2,989.0V978.2M1771.2,6.0V16.8M1824.4,989.0V978.2M1824.4,6.0V16.8M1930.8,989.0V978.2M1930.8,6.0V16.8M1984.0,989.0V978.2M1984.0,6.0V16.8M2037.3,989.0V978.2M2037.3,6.0V16.8M2143.7,989.0V978.2M2143.7,6.0V16.8M2196.9,989.0V978.2M2196.9,6.0V16.8M2250.2,989.0V978.2M2250.2,6.0V16.8M2356.6,989.0V978.2M2356.6,6.0V16.8M2409.8,989.0V978.2M2409.8,6.0V16.8M1431.3,54.9H1444.0M2449.8,54.9H2437.1M1431.3,184.8H1444.0M2449.8,184.8H2437.1M1431.3,314.6H1444.0M2449.8,314.6H2437.1M1431.3,444.4H1444.0M2449.8,444.4H2437.1M1431.3,574.3H1444.0M2449.8,574.3H2437.1M1431.3,704.1H1444.0M2449.8,704.1H2437.1M1431.3,834.0H1444.0M2449.8,834.0H2437.1M1431.3,963.8H1444.0M2449.8,963.8H2437.1M1431.3,937.9H1439.3M2449.8,937.9H2441.8M1431.3,911.9H1439.3M2449.8,911.9H2441.8M1431.3,885.9H1439.3M2449.8,885.9H2441.8M1431.3,860.0H1439.3M2449.8,860.0H2441.8M1431.3,808.0H1439.3M2449.8,808.0H2441.8M1431.3,782.1H1439.3M2449.8,782.1H2441.8M1431.3,756.1H1439.3M2449.8,756.1H2441.8M1431.3,730.1H1439.3M2449.8,730.1H2441.8M1431.3,678.2H1439.3M2449.8,678.2H2441.8M1431.3,652.2H1439.3M2449.8,652.2H2441.8M1431.3,626.2H1439.3M2449.8,626.2H2441.8M1431.3,600.3H1439.3M2449.8,600.3H2441.8M1431.3,548.3H1439.3M2449.8,548.3H2441.8M1431.3,522.4H1439.3M2449.8,522.4H2441.8M1431.3,496.4H1439.3M2449.8,496.4H2441.8M1431.3,470.4H1439.3M2449.8,470.4H2441.8M1431.3,418.5H1439.3M2449.8,418.5H2441.8M1431.3,392.5H1439.3M2449.8,392.5H2441.8M1431.3,366.5H1439.3M2449.8,366.5H2441.8M1431.3,340.6H1439.3M2449.8,340.6H2441.8M1431.3,288.6H1439.3M2449.8,288.6H2441.8M1431.3,262.7H1439.3M2449.8,262.7H2441.8M1431.3,236.7H1439.3M2449.8,236.7H2441.8M1431.3,210.7H1439.3M2449.8,210.7H2441.8M1431.3,158.8H1439.3M2449.8,158.8H2441.8M1431.3,132.8H1439.3M2449.8,132.8H2441.8M1431.3,106.8H1439.3M2449.8,106.8H2441.8M1431.3,80.9H1439.3M2449.8,80.9H2441.8M1431.3,28.9H1439.3M2449.8,28.9H2441.8" stroke="#6b6b6b" stroke-width="2.2" fill="none"/>
<path d="M1451.8,54.9 1455.9,55.8 1460.0,56.7 1464.1,57.7 1468.1,58.6 1472.2,59.5 1476.3,60.4 1480.4,61.3 1484.5,62.3 1488.6,63.2 1492.6,64.1 1496.7,65.0 1500.8,65.9 1504.9,66.8 1509.0,67.8 1513.1,68.7 1517.1,69.6 1521.2,70.5 1525.3,71.4 1529.4,72.3 1533.5,73.2 1537.6,74.1 1541.7,75.0 1545.7,75.9 1549.8,76.7 1553.9,77.6 1558.0,78.5 1562.1,79.4 1566.2,80.3 1570.2,81.1 1574.3,82.0 1578.4,82.9 1582.5,83.7 1586.6,84.6 1590.7,85.5 1594.8,86.3 1598.8,87.2 1602.9,88.0 1607.0,88.8 1611.1,89.7 1615.2,90.5 1619.3,91.3 1623.3,92.2 1627.4,93.0 1631.5,93.8 1635.6,94.6 1639.7,95.4 1643.8,96.2 1647.8,97.0 1651.9,97.8 1656.0,98.6 1660.1,99.3 1664.2,100.1 1668.3,100.9 1672.4,101.6 1676.4,102.4 1680.5,103.1 1684.6,103.9 1688.7,104.6 1692.8,105.3 1696.9,106.1 1700.9,106.8 1705.0,107.5 1709.1,108.2 1713.2,108.9 1717.3,109.6 1721.4,110.3 1725.4,111.0 1729.5,111.7 1733.6,112.3 1737.7,113.0 1741.8,113.6 1745.9,114.3 1750.0,114.9 1754.0,115.6 1758.1,116.2 1762.2,116.8 1766.3,117.4 1770.4,118.0 1774.5,118.7 1778.5,119.2 1782.6,119.8 1786.7,120.4 1790.8,121.0 1794.9,121.6 1799.0,122.1 1803.0,122.7 1807.1,123.2 1811.2,123.8 1815.3,124.3 1819.4,124.8 1823.5,125.3 1827.6,125.8 1831.6,126.3 1835.7,126.8 1839.8,127.3 1843.9,127.8 1848.0,128.3 1852.1,128.8 1856.1,129.2 1860.2,129.7 1864.3,130.1 1868.4,130.6 1872.5,131.0 1876.6,131.4 1880.7,131.8 1884.7,132.3 1888.8,132.7 1892.9,133.1 1897.0,133.4 1901.1,133.8 1905.2,134.2 1909.2,134.6 1913.3,134.9 1917.4,135.3 1921.5,135.6 1925.6,136.0 1929.7,136.3 1933.7,136.6 1937.8,137.0 1941.9,137.3 1946.0,137.6 1950.1,137.9 1954.2,138.2 1958.3,138.5 1962.3,138.7 1966.4,139.0 1970.5,139.3 1974.6,139.5 1978.7,139.8 1982.8,140.0 1986.8,140.3 1990.9,140.5 1995.0,140.7 1999.1,140.9 2003.2,141.2 2007.3,141.4 2011.3,141.6 2015.4,141.8 2019.5,142.0 2023.6,142.1 2027.7,142.3 2031.8,142.5 2035.9,142.7 2039.9,142.8 2044.0,143.0 2048.1,143.1 2052.2,143.2 2056.3,143.4 2060.4,143.5 2064.4,143.6 2068.5,143.8 2072.6,143.9 2076.7,144.0 2080.8,144.1 2084.9,144.2 2089.0,144.3 2093.0,144.3 2097.1,144.4 2101.2,144.5 2105.3,144.6 2109.4,144.6 2113.5,144.7 2117.5,144.7 2121.6,144.8 2125.7,144.8 2129.8,144.9 2133.9,144.9 2138.0,144.9 2142.0,145.0 2146.1,145.0 2150.2,145.0 2154.3,145.0 2158.4,145.0 2162.5,145.0 2166.6,145.0 2170.6,145.0 2174.7,145.0 2178.8,145.0 2182.9,145.0 2187.0,144.9 2191.1,144.9 2195.1,144.9 2199.2,144.8 2203.3,144.8 2207.4,144.7 2211.5,144.7 2215.6,144.6 2219.6,144.6 2223.7,144.5 2227.8,144.5 2231.9,144.4 2236.0,144.3 2240.1,144.2 2244.2,144.2 2248.2,144.1 2252.3,144.0 2256.4,143.9 2260.5,143.8 2264.6,143.7 2268.7,143.6 2272.7,143.5 2276.8,143.4 2280.9,143.3 2285.0,143.2 2289.1,143.1 2293.2,143.0 2297.2,142.9 2301.3,142.7 2305.4,142.6 2309.5,142.5 2313.6,142.3 2317.7,142.2 2321.8,142.1 2325.8,141.9 2329.9,141.8 2334.0,141.7 2338.1,141.5 2342.2,141.4 2346.3,141.2 2350.3,141.1 2354.4,140.9 2358.5,140.7 2362.6,140.6 2366.7,140.4 2370.8,140.3 2374.9,140.1 2378.9,139.9 2383.0,139.8 2387.1,139.6 2391.2,139.4 2395.3,139.2 2399.4,139.1 2403.4,138.9 2407.5,138.7 2411.6,138.5 2415.7,138.3 2419.8,138.1 2423.9,138.0 2427.9,137.8" fill="none" stroke="#00ffff" stroke-width="7.5" stroke-linecap="butt" stroke-linejoin="round" stroke-dasharray="16.8 15.8" stroke-dashoffset="0"/>
<path d="M1451.8,54.9 1455.9,55.8 1460.0,56.7 1464.1,57.7 1468.1,58.6 1472.2,59.5 1476.3,60.4 1480.4,61.3 1484.5,62.2 1488.6,63.2 1492.6,64.1 1496.7,65.0 1500.8,65.9 1504.9,66.8 1509.0,67.7 1513.1,68.6 1517.1,69.5 1521.2,70.4 1525.3,71.3 1529.4,72.2 1533.5,73.1 1537.6,74.0 1541.7,74.9 1545.7,75.8 1549.8,76.7 1553.9,77.6 1558.0,78.5 1562.1,79.4 1566.2,80.2 1570.2,81.1 1574.3,82.0 1578.4,82.9 1582.5,83.7 1586.6,84.6 1590.7,85.4 1594.8,86.3 1598.8,87.1 1602.9,88.0 1607.0,88.8 1611.1,89.7 1615.2,90.5 1619.3,91.3 1623.3,92.2 1627.4,93.0 1631.5,93.8 1635.6,94.6 1639.7,95.4 1643.8,96.2 1647.8,97.0 1651.9,97.8 1656.0,98.6 1660.1,99.4 1664.2,100.1 1668.3,100.9 1672.4,101.7 1676.4,102.4 1680.5,103.2 1684.6,104.0 1688.7,104.7 1692.8,105.4 1696.9,106.2 1700.9,106.9 1705.0,107.6 1709.1,108.3 1713.2,109.0 1717.3,109.7 1721.4,110.4 1725.4,111.1 1729.5,111.8 1733.6,112.5 1737.7,113.2 1741.8,113.8 1745.9,114.5 1750.0,115.2 1754.0,115.8 1758.1,116.4 1762.2,117.1 1766.3,117.7 1770.4,118.3 1774.5,118.9 1778.5,119.6 1782.6,120.2 1786.7,120.8 1790.8,121.3 1794.9,121.9 1799.0,122.5 1803.0,123.1 1807.1,123.6 1811.2,124.2 1815.3,124.7 1819.4,125.3 1823.5,125.8 1827.6,126.3 1831.6,126.9 1835.7,127.4 1839.8,127.9 1843.9,128.4 1848.0,128.9 1852.1,129.4 1856.1,129.8 1860.2,130.3 1864.3,130.8 1868.4,131.2 1872.5,131.7 1876.6,132.1 1880.7,132.6 1884.7,133.0 1888.8,133.4 1892.9,133.8 1897.0,134.2 1901.1,134.6 1905.2,135.0 1909.2,135.4 1913.3,135.8 1917.4,136.2 1921.5,136.6 1925.6,136.9 1929.7,137.3 1933.7,137.6 1937.8,138.0 1941.9,138.3 1946.0,138.6 1950.1,139.0 1954.2,139.3 1958.3,139.6 1962.3,139.9 1966.4,140.2 1970.5,140.5 1974.6,140.7 1978.7,141.0 1982.8,141.3 1986.8,141.5 1990.9,141.8 1995.0,142.1 1999.1,142.3 2003.2,142.5 2007.3,142.8 2011.3,143.0 2015.4,143.2 2019.5,143.4 2023.6,143.6 2027.7,143.8 2031.8,144.0 2035.9,144.2 2039.9,144.4 2044.0,144.6 2048.1,144.7 2052.2,144.9 2056.3,145.1 2060.4,145.2 2064.4,145.4 2068.5,145.5 2072.6,145.6 2076.7,145.8 2080.8,145.9 2084.9,146.0 2089.0,146.1 2093.0,146.2 2097.1,146.3 2101.2,146.4 2105.3,146.5 2109.4,146.6 2113.5,146.7 2117.5,146.8 2121.6,146.8 2125.7,146.9 2129.8,147.0 2133.9,147.0 2138.0,147.1 2142.0,147.1 2146.1,147.1 2150.2,147.2 2154.3,147.2 2158.4,147.2 2162.5,147.3 2166.6,147.3 2170.6,147.3 2174.7,147.3 2178.8,147.3 2182.9,147.3 2187.0,147.3 2191.1,147.3 2195.1,147.3 2199.2,147.3 2203.3,147.3 2207.4,147.2 2211.5,147.2 2215.6,147.2 2219.6,147.1 2223.7,147.1 2227.8,147.0 2231.9,147.0 2236.0,146.9 2240.1,146.9 2244.2,146.8 2248.2,146.8 2252.3,146.7 2256.4,146.6 2260.5,146.6 2264.6,146.5 2268.7,146.4 2272.7,146.3 2276.8,146.2 2280.9,146.1 2285.0,146.0 2289.1,145.9 2293.2,145.8 2297.2,145.7 2301.3,145.6 2305.4,145.5 2309.5,145.4 2313.6,145.3 2317.7,145.2 2321.8,145.1 2325.8,144.9 2329.9,144.8 2334.0,144.7 2338.1,144.6 2342.2,144.4 2346.3,144.3 2350.3,144.2 2354.4,144.0 2358.5,143.9 2362.6,143.7 2366.7,143.6 2370.8,143.4 2374.9,143.3 2378.9,143.1 2383.0,143.0 2387.1,142.8 2391.2,142.6 2395.3,142.5 2399.4,142.3 2403.4,142.1 2407.5,142.0 2411.6,141.8 2415.7,141.6 2419.8,141.5 2423.9,141.3 2427.9,141.1" fill="none" stroke="#ff0000" stroke-width="7.5" stroke-linecap="butt" stroke-linejoin="round" stroke-dasharray="16.8 15.8" stroke-dashoffset="0"/>
<path d="M1451.8,54.9 1455.9,55.8 1460.0,56.8 1464.1,57.7 1468.1,58.7 1472.2,59.6 1476.3,60.5 1480.4,61.5 1484.5,62.4 1488.6,63.3 1492.6,64.3 1496.7,65.2 1500.8,66.1 1504.9,67.1 1509.0,68.0 1513.1,68.9 1517.1,69.9 1521.2,70.8 1525.3,71.7 1529.4,72.6 1533.5,73.5 1537.6,74.5 1541.7,75.4 1545.7,76.3 1549.8,77.2 1553.9,78.1 1558.0,79.0 1562.1,79.9 1566.2,80.8 1570.2,81.7 1574.3,82.6 1578.4,83.5 1582.5,84.4 1586.6,85.2 1590.7,86.1 1594.8,87.0 1598.8,87.9 1602.9,88.7 1607.0,89.6 1611.1,90.5 1615.2,91.3 1619.3,92.2 1623.3,93.0 1627.4,93.8 1631.5,94.7 1635.6,95.5 1639.7,96.3 1643.8,97.2 1647.8,98.0 1651.9,98.8 1656.0,99.6 1660.1,100.4 1664.2,101.2 1668.3,102.0 1672.4,102.8 1676.4,103.6 1680.5,104.4 1684.6,105.1 1688.7,105.9 1692.8,106.7 1696.9,107.4 1700.9,108.2 1705.0,108.9 1709.1,109.7 1713.2,110.4 1717.3,111.1 1721.4,111.8 1725.4,112.6 1729.5,113.3 1733.6,114.0 1737.7,114.7 1741.8,115.4 1745.9,116.0 1750.0,116.7 1754.0,117.4 1758.1,118.1 1762.2,118.7 1766.3,119.4 1770.4,120.0 1774.5,120.7 1778.5,121.3 1782.6,121.9 1786.7,122.5 1790.8,123.2 1794.9,123.8 1799.0,124.4 1803.0,125.0 1807.1,125.5 1811.2,126.1 1815.3,126.7 1819.4,127.3 1823.5,127.8 1827.6,128.4 1831.6,128.9 1835.7,129.5 1839.8,130.0 1843.9,130.5 1848.0,131.0 1852.1,131.5 1856.1,132.0 1860.2,132.5 1864.3,133.0 1868.4,133.5 1872.5,134.0 1876.6,134.5 1880.7,134.9 1884.7,135.4 1888.8,135.8 1892.9,136.3 1897.0,136.7 1901.1,137.1 1905.2,137.6 1909.2,138.0 1913.3,138.4 1917.4,138.8 1921.5,139.2 1925.6,139.6 1929.7,139.9 1933.7,140.3 1937.8,140.7 1941.9,141.0 1946.0,141.4 1950.1,141.7 1954.2,142.1 1958.3,142.4 1962.3,142.7 1966.4,143.1 1970.5,143.4 1974.6,143.7 1978.7,144.0 1982.8,144.3 1986.8,144.5 1990.9,144.8 1995.0,145.1 1999.1,145.4 2003.2,145.6 2007.3,145.9 2011.3,146.1 2015.4,146.4 2019.5,146.6 2023.6,146.8 2027.7,147.1 2031.8,147.3 2035.9,147.5 2039.9,147.7 2044.0,147.9 2048.1,148.1 2052.2,148.3 2056.3,148.4 2060.4,148.6 2064.4,148.8 2068.5,149.0 2072.6,149.1 2076.7,149.3 2080.8,149.4 2084.9,149.5 2089.0,149.7 2093.0,149.8 2097.1,149.9 2101.2,150.1 2105.3,150.2 2109.4,150.3 2113.5,150.4 2117.5,150.5 2121.6,150.6 2125.7,150.6 2129.8,150.7 2133.9,150.8 2138.0,150.9 2142.0,150.9 2146.1,151.0 2150.2,151.1 2154.3,151.1 2158.4,151.1 2162.5,151.2 2166.6,151.2 2170.6,151.3 2174.7,151.3 2178.8,151.3 2182.9,151.3 2187.0,151.3 2191.1,151.3 2195.1,151.3 2199.2,151.3 2203.3,151.3 2207.4,151.3 2211.5,151.3 2215.6,151.3 2219.6,151.3 2223.7,151.3 2227.8,151.2 2231.9,151.2 2236.0,151.2 2240.1,151.1 2244.2,151.1 2248.2,151.0 2252.3,151.0 2256.4,150.9 2260.5,150.9 2264.6,150.8 2268.7,150.7 2272.7,150.7 2276.8,150.6 2280.9,150.5 2285.0,150.4 2289.1,150.3 2293.2,150.3 2297.2,150.2 2301.3,150.1 2305.4,150.0 2309.5,149.9 2313.6,149.8 2317.7,149.7 2321.8,149.5 2325.8,149.4 2329.9,149.3 2334.0,149.2 2338.1,149.1 2342.2,149.0 2346.3,148.8 2350.3,148.7 2354.4,148.6 2358.5,148.4 2362.6,148.3 2366.7,148.2 2370.8,148.0 2374.9,147.9 2378.9,147.7 2383.0,147.6 2387.1,147.4 2391.2,147.3 2395.3,147.1 2399.4,147.0 2403.4,146.8 2407.5,146.6 2411.6,146.5 2415.7,146.3 2419.8,146.1 2423.9,146.0 2427.9,145.8" fill="none" stroke="#800080" stroke-width="7.5" stroke-linecap="butt" stroke-linejoin="round" stroke-dasharray="16.8 15.8" stroke-dashoffset="0"/>
<path d="M1451.8,54.9 1455.9,55.8 1460.0,56.8 1464.1,57.7 1468.1,58.7 1472.2,59.6 1476.3,60.6 1480.4,61.5 1484.5,62.5 1488.6,63.4 1492.6,64.4 1496.7,65.3 1500.8,66.2 1504.9,67.2 1509.0,68.1 1513.1,69.1 1517.1,70.0 1521.2,70.9 1525.3,71.9 1529.4,72.8 1533.5,73.7 1537.6,74.6 1541.7,75.6 1545.7,76.5 1549.8,77.4 1553.9,78.3 1558.0,79.2 1562.1,80.2 1566.2,81.1 1570.2,82.0 1574.3,82.9 1578.4,83.8 1582.5,84.7 1586.6,85.6 1590.7,86.5 1594.8,87.3 1598.8,88.2 1602.9,89.1 1607.0,90.0 1611.1,90.9 1615.2,91.7 1619.3,92.6 1623.3,93.5 1627.4,94.3 1631.5,95.2 1635.6,96.0 1639.7,96.9 1643.8,97.7 1647.8,98.5 1651.9,99.4 1656.0,100.2 1660.1,101.0 1664.2,101.8 1668.3,102.6 1672.4,103.4 1676.4,104.2 1680.5,105.0 1684.6,105.8 1688.7,106.6 1692.8,107.4 1696.9,108.2 1700.9,108.9 1705.0,109.7 1709.1,110.5 1713.2,111.2 1717.3,112.0 1721.4,112.7 1725.4,113.4 1729.5,114.2 1733.6,114.9 1737.7,115.6 1741.8,116.3 1745.9,117.0 1750.0,117.7 1754.0,118.4 1758.1,119.1 1762.2,119.8 1766.3,120.5 1770.4,121.2 1774.5,121.8 1778.5,122.5 1782.6,123.1 1786.7,123.8 1790.8,124.4 1794.9,125.1 1799.0,125.7 1803.0,126.3 1807.1,126.9 1811.2,127.5 1815.3,128.1 1819.4,128.7 1823.5,129.3 1827.6,129.9 1831.6,130.5 1835.7,131.0 1839.8,131.6 1843.9,132.2 1848.0,132.7 1852.1,133.2 1856.1,133.8 1860.2,134.3 1864.3,134.8 1868.4,135.3 1872.5,135.8 1876.6,136.3 1880.7,136.8 1884.7,137.3 1888.8,137.8 1892.9,138.3 1897.0,138.8 1901.1,139.2 1905.2,139.7 1909.2,140.1 1913.3,140.6 1917.4,141.0 1921.5,141.4 1925.6,141.8 1929.7,142.2 1933.7,142.7 1937.8,143.1 1941.9,143.4 1946.0,143.8 1950.1,144.2 1954.2,144.6 1958.3,145.0 1962.3,145.3 1966.4,145.7 1970.5,146.0 1974.6,146.4 1978.7,146.7 1982.8,147.0 1986.8,147.3 1990.9,147.7 1995.0,148.0 1999.1,148.3 2003.2,148.6 2007.3,148.9 2011.3,149.1 2015.4,149.4 2019.5,149.7 2023.6,149.9 2027.7,150.2 2031.8,150.5 2035.9,150.7 2039.9,150.9 2044.0,151.2 2048.1,151.4 2052.2,151.6 2056.3,151.8 2060.4,152.0 2064.4,152.3 2068.5,152.5 2072.6,152.6 2076.7,152.8 2080.8,153.0 2084.9,153.2 2089.0,153.4 2093.0,153.5 2097.1,153.7 2101.2,153.8 2105.3,154.0 2109.4,154.1 2113.5,154.3 2117.5,154.4 2121.6,154.5 2125.7,154.6 2129.8,154.7 2133.9,154.8 2138.0,155.0 2142.0,155.1 2146.1,155.1 2150.2,155.2 2154.3,155.3 2158.4,155.4 2162.5,155.5 2166.6,155.5 2170.6,155.6 2174.7,155.7 2178.8,155.7 2182.9,155.8 2187.0,155.8 2191.1,155.9 2195.1,155.9 2199.2,155.9 2203.3,155.9 2207.4,156.0 2211.5,156.0 2215.6,156.0 2219.6,156.0 2223.7,156.0 2227.8,156.0 2231.9,156.0 2236.0,156.0 2240.1,156.0 2244.2,156.0 2248.2,155.9 2252.3,155.9 2256.4,155.9 2260.5,155.9 2264.6,155.8 2268.7,155.8 2272.7,155.7 2276.8,155.7 2280.9,155.6 2285.0,155.6 2289.1,155.5 2293.2,155.5 2297.2,155.4 2301.3,155.3 2305.4,155.3 2309.5,155.2 2313.6,155.1 2317.7,155.0 2321.8,154.9 2325.8,154.9 2329.9,154.8 2334.0,154.7 2338.1,154.6 2342.2,154.5 2346.3,154.4 2350.3,154.3 2354.4,154.2 2358.5,154.0 2362.6,153.9 2366.7,153.8 2370.8,153.7 2374.9,153.6 2378.9,153.4 2383.0,153.3 2387.1,153.2 2391.2,153.0 2395.3,152.9 2399.4,152.8 2403.4,152.6 2407.5,152.5 2411.6,152.3 2415.7,152.2 2419.8,152.0 2423.9,151.9 2427.9,151.7" fill="none" stroke="#ff8000" stroke-width="7.5" stroke-linecap="butt" stroke-linejoin="round" stroke-dasharray="16.8 15.8" stroke-dashoffset="0"/>
<path d="M1451.8,54.9 1455.9,55.9 1460.0,56.8 1464.1,57.8 1468.1,58.8 1472.2,59.7 1476.3,60.7 1480.4,61.7 1484.5,62.6 1488.6,63.6 1492.6,64.6 1496.7,65.5 1500.8,66.5 1504.9,67.4 1509.0,68.4 1513.1,69.3 1517.1,70.3 1521.2,71.3 1525.3,72.2 1529.4,73.2 1533.5,74.1 1537.6,75.1 1541.7,76.0 1545.7,76.9 1549.8,77.9 1553.9,78.8 1558.0,79.7 1562.1,80.7 1566.2,81.6 1570.2,82.5 1574.3,83.5 1578.4,84.4 1582.5,85.3 1586.6,86.2 1590.7,87.1 1594.8,88.0 1598.8,88.9 1602.9,89.8 1607.0,90.7 1611.1,91.6 1615.2,92.5 1619.3,93.4 1623.3,94.3 1627.4,95.2 1631.5,96.0 1635.6,96.9 1639.7,97.8 1643.8,98.6 1647.8,99.5 1651.9,100.3 1656.0,101.2 1660.1,102.0 1664.2,102.9 1668.3,103.7 1672.4,104.5 1676.4,105.4 1680.5,106.2 1684.6,107.0 1688.7,107.8 1692.8,108.6 1696.9,109.4 1700.9,110.2 1705.0,111.0 1709.1,111.8 1713.2,112.5 1717.3,113.3 1721.4,114.1 1725.4,114.8 1729.5,115.6 1733.6,116.3 1737.7,117.1 1741.8,117.8 1745.9,118.6 1750.0,119.3 1754.0,120.0 1758.1,120.7 1762.2,121.4 1766.3,122.1 1770.4,122.8 1774.5,123.5 1778.5,124.2 1782.6,124.9 1786.7,125.6 1790.8,126.2 1794.9,126.9 1799.0,127.5 1803.0,128.2 1807.1,128.8 1811.2,129.5 1815.3,130.1 1819.4,130.7 1823.5,131.3 1827.6,131.9 1831.6,132.5 1835.7,133.1 1839.8,133.7 1843.9,134.3 1848.0,134.9 1852.1,135.4 1856.1,136.0 1860.2,136.5 1864.3,137.1 1868.4,137.6 1872.5,138.2 1876.6,138.7 1880.7,139.2 1884.7,139.7 1888.8,140.2 1892.9,140.7 1897.0,141.2 1901.1,141.7 1905.2,142.2 1909.2,142.7 1913.3,143.1 1917.4,143.6 1921.5,144.1 1925.6,144.5 1929.7,144.9 1933.7,145.4 1937.8,145.8 1941.9,146.2 1946.0,146.6 1950.1,147.1 1954.2,147.5 1958.3,147.8 1962.3,148.2 1966.4,148.6 1970.5,149.0 1974.6,149.4 1978.7,149.7 1982.8,150.1 1986.8,150.4 1990.9,150.8 1995.0,151.1 1999.1,151.4 2003.2,151.8 2007.3,152.1 2011.3,152.4 2015.4,152.7 2019.5,153.0 2023.6,153.3 2027.7,153.6 2031.8,153.8 2035.9,154.1 2039.9,154.4 2044.0,154.6 2048.1,154.9 2052.2,155.1 2056.3,155.4 2060.4,155.6 2064.4,155.8 2068.5,156.1 2072.6,156.3 2076.7,156.5 2080.8,156.7 2084.9,156.9 2089.0,157.1 2093.0,157.3 2097.1,157.5 2101.2,157.6 2105.3,157.8 2109.4,158.0 2113.5,158.1 2117.5,158.3 2121.6,158.4 2125.7,158.6 2129.8,158.7 2133.9,158.9 2138.0,159.0 2142.0,159.1 2146.1,159.2 2150.2,159.3 2154.3,159.5 2158.4,159.6 2162.5,159.6 2166.6,159.7 2170.6,159.8 2174.7,159.9 2178.8,160.0 2182.9,160.1 2187.0,160.1 2191.1,160.2 2195.1,160.2 2199.2,160.3 2203.3,160.3 2207.4,160.4 2211.5,160.4 2215.6,160.5 2219.6,160.5 2223.7,160.5 2227.8,160.5 2231.9,160.5 2236.0,160.6 2240.1,160.6 2244.2,160.6 2248.2,160.6 2252.3,160.6 2256.4,160.6 2260.5,160.5 2264.6,160.5 2268.7,160.5 2272.7,160.5 2276.8,160.4 2280.9,160.4 2285.0,160.4 2289.1,160.3 2293.2,160.3 2297.2,160.2 2301.3,160.2 2305.4,160.1 2309.5,160.1 2313.6,160.0 2317.7,159.9 2321.8,159.9 2325.8,159.8 2329.9,159.7 2334.0,159.7 2338.1,159.6 2342.2,159.5 2346.3,159.4 2350.3,159.3 2354.4,159.2 2358.5,159.1 2362.6,159.0 2366.7,158.9 2370.8,158.8 2374.9,158.7 2378.9,158.6 2383.0,158.5 2387.1,158.3 2391.2,158.2 2395.3,158.1 2399.4,158.0 2403.4,157.8 2407.5,157.7 2411.6,157.6 2415.7,157.4 2419.8,157.3 2423.9,157.1 2427.9,157.0" fill="none" stroke="#0000ff" stroke-width="7.5" stroke-linecap="butt" stroke-linejoin="round" stroke-dasharray="16.8 15.8" stroke-dashoffset="0"/>
<path d="M1451.8,54.9 1455.9,55.0 1460.0,55.1 1464.1,55.2 1468.1,55.3 1472.2,55.5 1476.3,55.6 1480.4,55.7 1484.5,55.8 1488.6,55.9 1492.6,56.0 1496.7,56.1 1500.8,56.2 1504.9,56.4 1509.0,56.5 1513.1,56.6 1517.1,56.7 1521.2,56.8 1525.3,56.9 1529.4,57.0 1533.5,57.1 1537.6,57.3 1541.7,57.4 1545.7,57.5 1549.8,57.6 1553.9,57.7 1558.0,57.8 1562.1,57.9 1566.2,58.1 1570.2,58.2 1574.3,58.3 1578.4,58.4 1582.5,58.5 1586.6,58.6 1590.7,58.7 1594.8,58.9 1598.8,59.0 1602.9,59.1 1607.0,59.2 1611.1,59.3 1615.2,59.4 1619.3,59.6 1623.3,59.7 1627.4,59.8 1631.5,59.9 1635.6,60.0 1639.7,60.2 1643.8,60.3 1647.8,60.4 1651.9,60.5 1656.0,60.6 1660.1,60.8 1664.2,60.9 1668.3,61.0 1672.4,61.1 1676.4,61.2 1680.5,61.4 1684.6,61.5 1688.7,61.6 1692.8,61.7 1696.9,61.9 1700.9,62.0 1705.0,62.1 1709.1,62.2 1713.2,62.4 1717.3,62.5 1721.4,62.6 1725.4,62.7 1729.5,62.9 1733.6,63.0 1737.7,63.1 1741.8,63.3 1745.9,63.4 1750.0,63.5 1754.0,63.7 1758.1,63.8 1762.2,63.9 1766.3,64.0 1770.4,64.2 1774.5,64.3 1778.5,64.4 1782.6,64.6 1786.7,64.7 1790.8,64.8 1794.9,65.0 1799.0,65.1 1803.0,65.2 1807.1,65.4 1811.2,65.5 1815.3,65.7 1819.4,65.8 1823.5,65.9 1827.6,66.1 1831.6,66.2 1835.7,66.3 1839.8,66.5 1843.9,66.6 1848.0,66.8 1852.1,66.9 1856.1,67.1 1860.2,67.2 1864.3,67.3 1868.4,67.5 1872.5,67.6 1876.6,67.8 1880.7,67.9 1884.7,68.0 1888.8,68.2 1892.9,68.3 1897.0,68.5 1901.1,68.6 1905.2,68.8 1909.2,68.9 1913.3,69.1 1917.4,69.2 1921.5,69.4 1925.6,69.5 1929.7,69.7 1933.7,69.8 1937.8,70.0 1941.9,70.1 1946.0,70.3 1950.1,70.4 1954.2,70.5 1958.3,70.7 1962.3,70.8 1966.4,71.0 1970.5,71.2 1974.6,71.3 1978.7,71.5 1982.8,71.6 1986.8,71.8 1990.9,71.9 1995.0,72.1 1999.1,72.2 2003.2,72.4 2007.3,72.5 2011.3,72.7 2015.4,72.8 2019.5,73.0 2023.6,73.1 2027.7,73.3 2031.8,73.4 2035.9,73.6 2039.9,73.7 2044.0,73.9 2048.1,74.0 2052.2,74.2 2056.3,74.3 2060.4,74.5 2064.4,74.6 2068.5,74.8 2072.6,74.9 2076.7,75.1 2080.8,75.3 2084.9,75.4 2089.0,75.6 2093.0,75.7 2097.1,75.9 2101.2,76.0 2105.3,76.2 2109.4,76.3 2113.5,76.5 2117.5,76.6 2121.6,76.8 2125.7,76.9 2129.8,77.0 2133.9,77.2 2138.0,77.3 2142.0,77.5 2146.1,77.6 2150.2,77.8 2154.3,77.9 2158.4,78.1 2162.5,78.2 2166.6,78.4 2170.6,78.5 2174.7,78.6 2178.8,78.8 2182.9,78.9 2187.0,79.1 2191.1,79.2 2195.1,79.3 2199.2,79.5 2203.3,79.6 2207.4,79.7 2211.5,79.9 2215.6,80.0 2219.6,80.1 2223.7,80.3 2227.8,80.4 2231.9,80.5 2236.0,80.6 2240.1,80.8 2244.2,80.9 2248.2,81.0 2252.3,81.1 2256.4,81.3 2260.5,81.4 2264.6,81.5 2268.7,81.6 2272.7,81.7 2276.8,81.8 2280.9,81.9 2285.0,82.1 2289.1,82.2 2293.2,82.3 2297.2,82.4 2301.3,82.5 2305.4,82.6 2309.5,82.7 2313.6,82.8 2317.7,82.9 2321.8,83.0 2325.8,83.1 2329.9,83.1 2334.0,83.2 2338.1,83.3 2342.2,83.4 2346.3,83.5 2350.3,83.6 2354.4,83.6 2358.5,83.7 2362.6,83.8 2366.7,83.8 2370.8,83.9 2374.9,84.0 2378.9,84.0 2383.0,84.1 2387.1,84.1 2391.2,84.2 2395.3,84.2 2399.4,84.3 2403.4,84.3 2407.5,84.4 2411.6,84.4 2415.7,84.4 2419.8,84.5 2423.9,84.5 2427.9,84.5" fill="none" stroke="#00ffff" stroke-width="7.5" stroke-linecap="butt" stroke-linejoin="round" stroke-dasharray="4 15.6 16.8 16.4" stroke-dashoffset="0"/>
<path d="M1451.8,54.9 1455.9,55.1 1460.0,55.2 1464.1,55.4 1468.1,55.5 1472.2,55.7 1476.3,55.8 1480.4,56.0 1484.5,56.1 1488.6,56.3 1492.6,56.4 1496.7,56.6 1500.8,56.8 1504.9,56.9 1509.0,57.1 1513.1,57.2 1517.1,57.4 1521.2,57.5 1525.3,57.7 1529.4,57.8 1533.5,58.0 1537.6,58.1 1541.7,58.3 1545.7,58.5 1549.8,58.6 1553.9,58.8 1558.0,58.9 1562.1,59.1 1566.2,59.2 1570.2,59.4 1574.3,59.5 1578.4,59.7 1582.5,59.8 1586.6,60.0 1590.7,60.2 1594.8,60.3 1598.8,60.5 1602.9,60.6 1607.0,60.8 1611.1,60.9 1615.2,61.1 1619.3,61.2 1623.3,61.4 1627.4,61.5 1631.5,61.7 1635.6,61.8 1639.7,62.0 1643.8,62.2 1647.8,62.3 1651.9,62.5 1656.0,62.6 1660.1,62.8 1664.2,62.9 1668.3,63.1 1672.4,63.2 1676.4,63.4 1680.5,63.5 1684.6,63.7 1688.7,63.8 1692.8,64.0 1696.9,64.1 1700.9,64.3 1705.0,64.4 1709.1,64.6 1713.2,64.7 1717.3,64.9 1721.4,65.1 1725.4,65.2 1729.5,65.4 1733.6,65.5 1737.7,65.7 1741.8,65.8 1745.9,66.0 1750.0,66.1 1754.0,66.3 1758.1,66.4 1762.2,66.6 1766.3,66.7 1770.4,66.9 1774.5,67.0 1778.5,67.2 1782.6,67.3 1786.7,67.5 1790.8,67.6 1794.9,67.8 1799.0,67.9 1803.0,68.1 1807.1,68.2 1811.2,68.4 1815.3,68.5 1819.4,68.7 1823.5,68.8 1827.6,69.0 1831.6,69.1 1835.7,69.3 1839.8,69.4 1843.9,69.5 1848.0,69.7 1852.1,69.8 1856.1,70.0 1860.2,70.1 1864.3,70.3 1868.4,70.4 1872.5,70.6 1876.6,70.7 1880.7,70.9 1884.7,71.0 1888.8,71.2 1892.9,71.3 1897.0,71.4 1901.1,71.6 1905.2,71.7 1909.2,71.9 1913.3,72.0 1917.4,72.2 1921.5,72.3 1925.6,72.5 1929.7,72.6 1933.7,72.7 1937.8,72.9 1941.9,73.0 1946.0,73.2 1950.1,73.3 1954.2,73.4 1958.3,73.6 1962.3,73.7 1966.4,73.9 1970.5,74.0 1974.6,74.1 1978.7,74.3 1982.8,74.4 1986.8,74.6 1990.9,74.7 1995.0,74.8 1999.1,75.0 2003.2,75.1 2007.3,75.3 2011.3,75.4 2015.4,75.5 2019.5,75.7 2023.6,75.8 2027.7,75.9 2031.8,76.1 2035.9,76.2 2039.9,76.3 2044.0,76.5 2048.1,76.6 2052.2,76.7 2056.3,76.9 2060.4,77.0 2064.4,77.1 2068.5,77.3 2072.6,77.4 2076.7,77.5 2080.8,77.6 2084.9,77.8 2089.0,77.9 2093.0,78.0 2097.1,78.2 2101.2,78.3 2105.3,78.4 2109.4,78.5 2113.5,78.7 2117.5,78.8 2121.6,78.9 2125.7,79.0 2129.8,79.1 2133.9,79.3 2138.0,79.4 2142.0,79.5 2146.1,79.6 2150.2,79.8 2154.3,79.9 2158.4,80.0 2162.5,80.1 2166.6,80.2 2170.6,80.3 2174.7,80.5 2178.8,80.6 2182.9,80.7 2187.0,80.8 2191.1,80.9 2195.1,81.0 2199.2,81.1 2203.3,81.2 2207.4,81.4 2211.5,81.5 2215.6,81.6 2219.6,81.7 2223.7,81.8 2227.8,81.9 2231.9,82.0 2236.0,82.1 2240.1,82.2 2244.2,82.3 2248.2,82.4 2252.3,82.5 2256.4,82.6 2260.5,82.7 2264.6,82.8 2268.7,82.9 2272.7,83.0 2276.8,83.1 2280.9,83.2 2285.0,83.3 2289.1,83.4 2293.2,83.5 2297.2,83.5 2301.3,83.6 2305.4,83.7 2309.5,83.8 2313.6,83.9 2317.7,84.0 2321.8,84.1 2325.8,84.2 2329.9,84.2 2334.0,84.3 2338.1,84.4 2342.2,84.5 2346.3,84.5 2350.3,84.6 2354.4,84.7 2358.5,84.8 2362.6,84.8 2366.7,84.9 2370.8,85.0 2374.9,85.1 2378.9,85.1 2383.0,85.2 2387.1,85.2 2391.2,85.3 2395.3,85.4 2399.4,85.4 2403.4,85.5 2407.5,85.6 2411.6,85.6 2415.7,85.7 2419.8,85.7 2423.9,85.8 2427.9,85.8" fill="none" stroke="#ff0000" stroke-width="7.5" stroke-linecap="butt" stroke-linejoin="round" stroke-dasharray="4 15.6 16.8 16.4" stroke-dashoffset="0"/>
<path d="M1451.8,54.9 1455.9,55.1 1460.0,55.3 1464.1,55.5 1468.1,55.7 1472.2,55.9 1476.3,56.1 1480.4,56.3 1484.5,56.6 1488.6,56.8 1492.6,57.0 1496.7,57.2 1500.8,57.4 1504.9,57.6 1509.0,57.8 1513.1,58.0 1517.1,58.2 1521.2,58.4 1525.3,58.6 1529.4,58.8 1533.5,59.0 1537.6,59.2 1541.7,59.4 1545.7,59.7 1549.8,59.9 1553.9,60.1 1558.0,60.3 1562.1,60.5 1566.2,60.7 1570.2,60.9 1574.3,61.1 1578.4,61.3 1582.5,61.5 1586.6,61.7 1590.7,61.9 1594.8,62.1 1598.8,62.3 1602.9,62.5 1607.0,62.7 1611.1,62.9 1615.2,63.1 1619.3,63.3 1623.3,63.5 1627.4,63.7 1631.5,63.9 1635.6,64.1 1639.7,64.3 1643.8,64.5 1647.8,64.7 1651.9,64.9 1656.0,65.1 1660.1,65.3 1664.2,65.5 1668.3,65.7 1672.4,65.9 1676.4,66.1 1680.5,66.3 1684.6,66.5 1688.7,66.7 1692.8,66.9 1696.9,67.1 1700.9,67.3 1705.0,67.5 1709.1,67.7 1713.2,67.9 1717.3,68.1 1721.4,68.3 1725.4,68.5 1729.5,68.7 1733.6,68.9 1737.7,69.1 1741.8,69.3 1745.9,69.5 1750.0,69.7 1754.0,69.8 1758.1,70.0 1762.2,70.2 1766.3,70.4 1770.4,70.6 1774.5,70.8 1778.5,71.0 1782.6,71.2 1786.7,71.4 1790.8,71.6 1794.9,71.7 1799.0,71.9 1803.0,72.1 1807.1,72.3 1811.2,72.5 1815.3,72.7 1819.4,72.8 1823.5,73.0 1827.6,73.2 1831.6,73.4 1835.7,73.6 1839.8,73.8 1843.9,73.9 1848.0,74.1 1852.1,74.3 1856.1,74.5 1860.2,74.6 1864.3,74.8 1868.4,75.0 1872.5,75.2 1876.6,75.4 1880.7,75.5 1884.7,75.7 1888.8,75.9 1892.9,76.0 1897.0,76.2 1901.1,76.4 1905.2,76.6 1909.2,76.7 1913.3,76.9 1917.4,77.1 1921.5,77.2 1925.6,77.4 1929.7,77.6 1933.7,77.7 1937.8,77.9 1941.9,78.1 1946.0,78.2 1950.1,78.4 1954.2,78.5 1958.3,78.7 1962.3,78.9 1966.4,79.0 1970.5,79.2 1974.6,79.3 1978.7,79.5 1982.8,79.6 1986.8,79.8 1990.9,79.9 1995.0,80.1 1999.1,80.2 2003.2,80.4 2007.3,80.5 2011.3,80.7 2015.4,80.8 2019.5,81.0 2023.6,81.1 2027.7,81.3 2031.8,81.4 2035.9,81.5 2039.9,81.7 2044.0,81.8 2048.1,82.0 2052.2,82.1 2056.3,82.2 2060.4,82.4 2064.4,82.5 2068.5,82.6 2072.6,82.8 2076.7,82.9 2080.8,83.0 2084.9,83.1 2089.0,83.3 2093.0,83.4 2097.1,83.5 2101.2,83.6 2105.3,83.8 2109.4,83.9 2113.5,84.0 2117.5,84.1 2121.6,84.2 2125.7,84.3 2129.8,84.5 2133.9,84.6 2138.0,84.7 2142.0,84.8 2146.1,84.9 2150.2,85.0 2154.3,85.1 2158.4,85.2 2162.5,85.3 2166.6,85.4 2170.6,85.5 2174.7,85.6 2178.8,85.7 2182.9,85.8 2187.0,85.9 2191.1,86.0 2195.1,86.1 2199.2,86.1 2203.3,86.2 2207.4,86.3 2211.5,86.4 2215.6,86.5 2219.6,86.6 2223.7,86.6 2227.8,86.7 2231.9,86.8 2236.0,86.8 2240.1,86.9 2244.2,87.0 2248.2,87.1 2252.3,87.1 2256.4,87.2 2260.5,87.2 2264.6,87.3 2268.7,87.4 2272.7,87.4 2276.8,87.5 2280.9,87.5 2285.0,87.6 2289.1,87.6 2293.2,87.7 2297.2,87.7 2301.3,87.7 2305.4,87.8 2309.5,87.8 2313.6,87.8 2317.7,87.9 2321.8,87.9 2325.8,87.9 2329.9,88.0 2334.0,88.0 2338.1,88.0 2342.2,88.0 2346.3,88.0 2350.3,88.1 2354.4,88.1 2358.5,88.1 2362.6,88.1 2366.7,88.1 2370.8,88.1 2374.9,88.1 2378.9,88.1 2383.0,88.1 2387.1,88.1 2391.2,88.1 2395.3,88.1 2399.4,88.0 2403.4,88.0 2407.5,88.0 2411.6,88.0 2415.7,88.0 2419.8,87.9 2423.9,87.9 2427.9,87.9" fill="none" stroke="#800080" stroke-width="7.5" stroke-linecap="butt" stroke-linejoin="round" stroke-dasharray="4 15.6 16.8 16.4" stroke-dashoffset="0"/>
<path d="M1451.8,54.9 1455.9,55.2 1460.0,55.5 1464.1,55.8 1468.1,56.0 1472.2,56.3 1476.3,56.6 1480.4,56.9 1484.5,57.2 1488.6,57.5 1492.6,57.8 1496.7,58.0 1500.8,58.3 1504.9,58.6 1509.0,58.9 1513.1,59.2 1517.1,59.5 1521.2,59.8 1525.3,60.0 1529.4,60.3 1533.5,60.6 1537.6,60.9 1541.7,61.2 1545.7,61.5 1549.8,61.7 1553.9,62.0 1558.0,62.3 1562.1,62.6 1566.2,62.9 1570.2,63.1 1574.3,63.4 1578.4,63.7 1582.5,64.0 1586.6,64.2 1590.7,64.5 1594.8,64.8 1598.8,65.1 1602.9,65.3 1607.0,65.6 1611.1,65.9 1615.2,66.2 1619.3,66.4 1623.3,66.7 1627.4,67.0 1631.5,67.2 1635.6,67.5 1639.7,67.8 1643.8,68.0 1647.8,68.3 1651.9,68.6 1656.0,68.8 1660.1,69.1 1664.2,69.4 1668.3,69.6 1672.4,69.9 1676.4,70.1 1680.5,70.4 1684.6,70.7 1688.7,70.9 1692.8,71.2 1696.9,71.4 1700.9,71.7 1705.0,71.9 1709.1,72.2 1713.2,72.4 1717.3,72.7 1721.4,72.9 1725.4,73.2 1729.5,73.4 1733.6,73.6 1737.7,73.9 1741.8,74.1 1745.9,74.4 1750.0,74.6 1754.0,74.8 1758.1,75.1 1762.2,75.3 1766.3,75.5 1770.4,75.8 1774.5,76.0 1778.5,76.2 1782.6,76.5 1786.7,76.7 1790.8,76.9 1794.9,77.1 1799.0,77.3 1803.0,77.6 1807.1,77.8 1811.2,78.0 1815.3,78.2 1819.4,78.4 1823.5,78.6 1827.6,78.9 1831.6,79.1 1835.7,79.3 1839.8,79.5 1843.9,79.7 1848.0,79.9 1852.1,80.1 1856.1,80.3 1860.2,80.5 1864.3,80.7 1868.4,80.9 1872.5,81.1 1876.6,81.3 1880.7,81.4 1884.7,81.6 1888.8,81.8 1892.9,82.0 1897.0,82.2 1901.1,82.4 1905.2,82.5 1909.2,82.7 1913.3,82.9 1917.4,83.1 1921.5,83.2 1925.6,83.4 1929.7,83.6 1933.7,83.8 1937.8,83.9 1941.9,84.1 1946.0,84.2 1950.1,84.4 1954.2,84.6 1958.3,84.7 1962.3,84.9 1966.4,85.0 1970.5,85.2 1974.6,85.3 1978.7,85.5 1982.8,85.6 1986.8,85.8 1990.9,85.9 1995.0,86.0 1999.1,86.2 2003.2,86.3 2007.3,86.5 2011.3,86.6 2015.4,86.7 2019.5,86.8 2023.6,87.0 2027.7,87.1 2031.8,87.2 2035.9,87.3 2039.9,87.5 2044.0,87.6 2048.1,87.7 2052.2,87.8 2056.3,87.9 2060.4,88.0 2064.4,88.1 2068.5,88.2 2072.6,88.4 2076.7,88.5 2080.8,88.6 2084.9,88.7 2089.0,88.8 2093.0,88.9 2097.1,88.9 2101.2,89.0 2105.3,89.1 2109.4,89.2 2113.5,89.3 2117.5,89.4 2121.6,89.5 2125.7,89.6 2129.8,89.6 2133.9,89.7 2138.0,89.8 2142.0,89.9 2146.1,89.9 2150.2,90.0 2154.3,90.1 2158.4,90.1 2162.5,90.2 2166.6,90.3 2170.6,90.3 2174.7,90.4 2178.8,90.4 2182.9,90.5 2187.0,90.6 2191.1,90.6 2195.1,90.7 2199.2,90.7 2203.3,90.8 2207.4,90.8 2211.5,90.9 2215.6,90.9 2219.6,90.9 2223.7,91.0 2227.8,91.0 2231.9,91.1 2236.0,91.1 2240.1,91.1 2244.2,91.2 2248.2,91.2 2252.3,91.2 2256.4,91.3 2260.5,91.3 2264.6,91.3 2268.7,91.3 2272.7,91.4 2276.8,91.4 2280.9,91.4 2285.0,91.4 2289.1,91.5 2293.2,91.5 2297.2,91.5 2301.3,91.5 2305.4,91.5 2309.5,91.5 2313.6,91.5 2317.7,91.6 2321.8,91.6 2325.8,91.6 2329.9,91.6 2334.0,91.6 2338.1,91.6 2342.2,91.6 2346.3,91.6 2350.3,91.6 2354.4,91.6 2358.5,91.6 2362.6,91.6 2366.7,91.6 2370.8,91.6 2374.9,91.6 2378.9,91.6 2383.0,91.6 2387.1,91.6 2391.2,91.6 2395.3,91.6 2399.4,91.6 2403.4,91.6 2407.5,91.6 2411.6,91.6 2415.7,91.5 2419.8,91.5 2423.9,91.5 2427.9,91.5" fill="none" stroke="#ff8000" stroke-width="7.5" stroke-linecap="butt" stroke-linejoin="round" stroke-dasharray="4 15.6 16.8 16.4" stroke-dashoffset="0"/>
<path d="M1451.8,54.9 1455.9,55.3 1460.0,55.6 1464.1,56.0 1468.1,56.4 1472.2,56.7 1476.3,57.1 1480.4,57.4 1484.5,57.8 1488.6,58.2 1492.6,58.5 1496.7,58.9 1500.8,59.3 1504.9,59.6 1509.0,60.0 1513.1,60.3 1517.1,60.7 1521.2,61.1 1525.3,61.4 1529.4,61.8 1533.5,62.1 1537.6,62.5 1541.7,62.9 1545.7,63.2 1549.8,63.6 1553.9,63.9 1558.0,64.3 1562.1,64.6 1566.2,65.0 1570.2,65.3 1574.3,65.7 1578.4,66.0 1582.5,66.4 1586.6,66.7 1590.7,67.1 1594.8,67.4 1598.8,67.8 1602.9,68.1 1607.0,68.5 1611.1,68.8 1615.2,69.1 1619.3,69.5 1623.3,69.8 1627.4,70.2 1631.5,70.5 1635.6,70.8 1639.7,71.2 1643.8,71.5 1647.8,71.8 1651.9,72.2 1656.0,72.5 1660.1,72.8 1664.2,73.1 1668.3,73.5 1672.4,73.8 1676.4,74.1 1680.5,74.4 1684.6,74.8 1688.7,75.1 1692.8,75.4 1696.9,75.7 1700.9,76.0 1705.0,76.3 1709.1,76.6 1713.2,76.9 1717.3,77.2 1721.4,77.5 1725.4,77.8 1729.5,78.1 1733.6,78.4 1737.7,78.7 1741.8,79.0 1745.9,79.3 1750.0,79.6 1754.0,79.9 1758.1,80.2 1762.2,80.5 1766.3,80.7 1770.4,81.0 1774.5,81.3 1778.5,81.6 1782.6,81.8 1786.7,82.1 1790.8,82.4 1794.9,82.7 1799.0,82.9 1803.0,83.2 1807.1,83.4 1811.2,83.7 1815.3,84.0 1819.4,84.2 1823.5,84.5 1827.6,84.7 1831.6,85.0 1835.7,85.2 1839.8,85.4 1843.9,85.7 1848.0,85.9 1852.1,86.1 1856.1,86.4 1860.2,86.6 1864.3,86.8 1868.4,87.1 1872.5,87.3 1876.6,87.5 1880.7,87.7 1884.7,87.9 1888.8,88.1 1892.9,88.4 1897.0,88.6 1901.1,88.8 1905.2,89.0 1909.2,89.2 1913.3,89.4 1917.4,89.6 1921.5,89.7 1925.6,89.9 1929.7,90.1 1933.7,90.3 1937.8,90.5 1941.9,90.7 1946.0,90.8 1950.1,91.0 1954.2,91.2 1958.3,91.3 1962.3,91.5 1966.4,91.7 1970.5,91.8 1974.6,92.0 1978.7,92.1 1982.8,92.3 1986.8,92.4 1990.9,92.6 1995.0,92.7 1999.1,92.8 2003.2,93.0 2007.3,93.1 2011.3,93.2 2015.4,93.4 2019.5,93.5 2023.6,93.6 2027.7,93.7 2031.8,93.9 2035.9,94.0 2039.9,94.1 2044.0,94.2 2048.1,94.3 2052.2,94.4 2056.3,94.5 2060.4,94.6 2064.4,94.7 2068.5,94.8 2072.6,94.9 2076.7,95.0 2080.8,95.0 2084.9,95.1 2089.0,95.2 2093.0,95.3 2097.1,95.3 2101.2,95.4 2105.3,95.5 2109.4,95.5 2113.5,95.6 2117.5,95.7 2121.6,95.7 2125.7,95.8 2129.8,95.8 2133.9,95.9 2138.0,95.9 2142.0,96.0 2146.1,96.0 2150.2,96.0 2154.3,96.1 2158.4,96.1 2162.5,96.1 2166.6,96.1 2170.6,96.2 2174.7,96.2 2178.8,96.2 2182.9,96.2 2187.0,96.2 2191.1,96.3 2195.1,96.3 2199.2,96.3 2203.3,96.3 2207.4,96.3 2211.5,96.3 2215.6,96.3 2219.6,96.3 2223.7,96.3 2227.8,96.2 2231.9,96.2 2236.0,96.2 2240.1,96.2 2244.2,96.2 2248.2,96.2 2252.3,96.1 2256.4,96.1 2260.5,96.1 2264.6,96.1 2268.7,96.0 2272.7,96.0 2276.8,96.0 2280.9,95.9 2285.0,95.9 2289.1,95.8 2293.2,95.8 2297.2,95.8 2301.3,95.7 2305.4,95.7 2309.5,95.6 2313.6,95.6 2317.7,95.5 2321.8,95.5 2325.8,95.4 2329.9,95.3 2334.0,95.3 2338.1,95.2 2342.2,95.2 2346.3,95.1 2350.3,95.0 2354.4,95.0 2358.5,94.9 2362.6,94.8 2366.7,94.8 2370.8,94.7 2374.9,94.6 2378.9,94.5 2383.0,94.5 2387.1,94.4 2391.2,94.3 2395.3,94.2 2399.4,94.2 2403.4,94.1 2407.5,94.0 2411.6,93.9 2415.7,93.8 2419.8,93.8 2423.9,93.7 2427.9,93.6" fill="none" stroke="#0000ff" stroke-width="7.5" stroke-linecap="butt" stroke-linejoin="round" stroke-dasharray="4 15.6 16.8 16.4" stroke-dashoffset="0"/>
<path d="M1451.8,54.9 1455.9,64.2 1460.0,73.5 1464.1,82.7 1468.1,92.0 1472.2,101.3 1476.3,110.5 1480.4,119.8 1484.5,129.0 1488.6,138.3 1492.6,147.5 1496.7,156.7 1500.8,165.9 1504.9,175.1 1509.0,184.3 1513.1,193.4 1517.1,202.6 1521.2,211.7 1525.3,220.8 1529.4,229.8 1533.5,238.9 1537.6,247.9 1541.7,256.9 1545.7,265.9 1549.8,274.8 1553.9,283.7 1558.0,292.6 1562.1,301.4 1566.2,310.3 1570.2,319.0 1574.3,327.8 1578.4,336.5 1582.5,345.2 1586.6,353.8 1590.7,362.4 1594.8,371.0 1598.8,379.5 1602.9,388.0 1607.0,396.4 1611.1,404.8 1615.2,413.1 1619.3,421.4 1623.3,429.7 1627.4,437.9 1631.5,446.0 1635.6,454.1 1639.7,462.2 1643.8,470.2 1647.8,478.1 1651.9,486.0 1656.0,493.9 1660.1,501.6 1664.2,509.4 1668.3,517.0 1672.4,524.6 1676.4,532.2 1680.5,539.7 1684.6,547.1 1688.7,554.5 1692.8,561.8 1696.9,569.1 1700.9,576.3 1705.0,583.4 1709.1,590.5 1713.2,597.5 1717.3,604.4 1721.4,611.3 1725.4,618.1 1729.5,624.8 1733.6,631.5 1737.7,638.1 1741.8,644.6 1745.9,651.1 1750.0,657.5 1754.0,663.8 1758.1,670.0 1762.2,676.2 1766.3,682.3 1770.4,688.4 1774.5,694.3 1778.5,700.2 1782.6,706.1 1786.7,711.8 1790.8,717.5 1794.9,723.1 1799.0,728.6 1803.0,734.1 1807.1,739.5 1811.2,744.8 1815.3,750.0 1819.4,755.2 1823.5,760.3 1827.6,765.3 1831.6,770.2 1835.7,775.1 1839.8,779.9 1843.9,784.6 1848.0,789.3 1852.1,793.8 1856.1,798.3 1860.2,802.7 1864.3,807.1 1868.4,811.3 1872.5,815.5 1876.6,819.6 1880.7,823.7 1884.7,827.6 1888.8,831.5 1892.9,835.3 1897.0,839.0 1901.1,842.7 1905.2,846.3 1909.2,849.8 1913.3,853.2 1917.4,856.6 1921.5,859.9 1925.6,863.1 1929.7,866.3 1933.7,869.3 1937.8,872.3 1941.9,875.3 1946.0,878.1 1950.1,880.9 1954.2,883.6 1958.3,886.2 1962.3,888.8 1966.4,891.3 1970.5,893.7 1974.6,896.1 1978.7,898.4 1982.8,900.6 1986.8,902.7 1990.9,904.8 1995.0,906.8 1999.1,908.7 2003.2,910.6 2007.3,912.4 2011.3,914.1 2015.4,915.8 2019.5,917.4 2023.6,919.0 2027.7,920.4 2031.8,921.8 2035.9,923.2 2039.9,924.5 2044.0,925.7 2048.1,926.8 2052.2,927.9 2056.3,928.9 2060.4,929.9 2064.4,930.8 2068.5,931.7 2072.6,932.5 2076.7,933.2 2080.8,933.8 2084.9,934.5 2089.0,935.0 2093.0,935.5 2097.1,935.9 2101.2,936.3 2105.3,936.6 2109.4,936.9 2113.5,937.1 2117.5,937.3 2121.6,937.4 2125.7,937.5 2129.8,937.5 2133.9,937.4 2138.0,937.3 2142.0,937.2 2146.1,936.9 2150.2,936.7 2154.3,936.4 2158.4,936.0 2162.5,935.6 2166.6,935.2 2170.6,934.7 2174.7,934.2 2178.8,933.6 2182.9,933.0 2187.0,932.3 2191.1,931.6 2195.1,930.8 2199.2,930.0 2203.3,929.2 2207.4,928.3 2211.5,927.3 2215.6,926.4 2219.6,925.4 2223.7,924.3 2227.8,923.2 2231.9,922.1 2236.0,920.9 2240.1,919.7 2244.2,918.5 2248.2,917.2 2252.3,915.9 2256.4,914.5 2260.5,913.2 2264.6,911.8 2268.7,910.3 2272.7,908.8 2276.8,907.3 2280.9,905.8 2285.0,904.2 2289.1,902.6 2293.2,900.9 2297.2,899.3 2301.3,897.6 2305.4,895.8 2309.5,894.1 2313.6,892.3 2317.7,890.5 2321.8,888.7 2325.8,886.8 2329.9,884.9 2334.0,883.0 2338.1,881.1 2342.2,879.1 2346.3,877.1 2350.3,875.1 2354.4,873.1 2358.5,871.0 2362.6,868.9 2366.7,866.8 2370.8,864.7 2374.9,862.6 2378.9,860.4 2383.0,858.2 2387.1,856.1 2391.2,853.8 2395.3,851.6 2399.4,849.3 2403.4,847.1 2407.5,844.8 2411.6,842.5 2415.7,840.2 2419.8,837.8 2423.9,835.5 2427.9,833.1" fill="none" stroke="#00ffff" stroke-width="7.5" stroke-linecap="square" stroke-linejoin="round"/>
<path d="M1451.8,54.9 1455.9,63.8 1460.0,72.7 1464.1,81.6 1468.1,90.5 1472.2,99.4 1476.3,108.3 1480.4,117.1 1484.5,126.0 1488.6,134.9 1492.6,143.7 1496.7,152.5 1500.8,161.4 1504.9,170.2 1509.0,179.0 1513.1,187.7 1517.1,196.5 1521.2,205.2 1525.3,214.0 1529.4,222.7 1533.5,231.3 1537.6,240.0 1541.7,248.6 1545.7,257.2 1549.8,265.8 1553.9,274.4 1558.0,282.9 1562.1,291.4 1566.2,299.8 1570.2,308.3 1574.3,316.7 1578.4,325.0 1582.5,333.4 1586.6,341.7 1590.7,349.9 1594.8,358.2 1598.8,366.3 1602.9,374.5 1607.0,382.6 1611.1,390.7 1615.2,398.7 1619.3,406.7 1623.3,414.6 1627.4,422.5 1631.5,430.3 1635.6,438.1 1639.7,445.9 1643.8,453.6 1647.8,461.2 1651.9,468.8 1656.0,476.4 1660.1,483.9 1664.2,491.3 1668.3,498.7 1672.4,506.0 1676.4,513.3 1680.5,520.6 1684.6,527.7 1688.7,534.8 1692.8,541.9 1696.9,548.9 1700.9,555.8 1705.0,562.7 1709.1,569.6 1713.2,576.3 1717.3,583.0 1721.4,589.7 1725.4,596.2 1729.5,602.8 1733.6,609.2 1737.7,615.6 1741.8,621.9 1745.9,628.2 1750.0,634.4 1754.0,640.5 1758.1,646.6 1762.2,652.6 1766.3,658.5 1770.4,664.4 1774.5,670.2 1778.5,675.9 1782.6,681.6 1786.7,687.2 1790.8,692.7 1794.9,698.1 1799.0,703.5 1803.0,708.9 1807.1,714.1 1811.2,719.3 1815.3,724.4 1819.4,729.4 1823.5,734.4 1827.6,739.3 1831.6,744.1 1835.7,748.9 1839.8,753.6 1843.9,758.2 1848.0,762.7 1852.1,767.2 1856.1,771.6 1860.2,776.0 1864.3,780.2 1868.4,784.4 1872.5,788.5 1876.6,792.6 1880.7,796.6 1884.7,800.5 1888.8,804.3 1892.9,808.1 1897.0,811.8 1901.1,815.4 1905.2,819.0 1909.2,822.4 1913.3,825.9 1917.4,829.2 1921.5,832.5 1925.6,835.7 1929.7,838.8 1933.7,841.9 1937.8,844.9 1941.9,847.8 1946.0,850.7 1950.1,853.5 1954.2,856.2 1958.3,858.8 1962.3,861.4 1966.4,863.9 1970.5,866.4 1974.6,868.8 1978.7,871.1 1982.8,873.4 1986.8,875.5 1990.9,877.7 1995.0,879.7 1999.1,881.7 2003.2,883.6 2007.3,885.5 2011.3,887.3 2015.4,889.0 2019.5,890.7 2023.6,892.3 2027.7,893.9 2031.8,895.4 2035.9,896.8 2039.9,898.2 2044.0,899.5 2048.1,900.7 2052.2,901.9 2056.3,903.0 2060.4,904.1 2064.4,905.1 2068.5,906.0 2072.6,906.9 2076.7,907.8 2080.8,908.6 2084.9,909.3 2089.0,910.0 2093.0,910.6 2097.1,911.1 2101.2,911.6 2105.3,912.1 2109.4,912.5 2113.5,912.8 2117.5,913.1 2121.6,913.4 2125.7,913.6 2129.8,913.7 2133.9,913.8 2138.0,913.9 2142.0,913.8 2146.1,913.8 2150.2,913.7 2154.3,913.5 2158.4,913.3 2162.5,913.1 2166.6,912.8 2170.6,912.5 2174.7,912.1 2178.8,911.7 2182.9,911.2 2187.0,910.7 2191.1,910.2 2195.1,909.6 2199.2,908.9 2203.3,908.3 2207.4,907.5 2211.5,906.8 2215.6,906.0 2219.6,905.1 2223.7,904.3 2227.8,903.4 2231.9,902.4 2236.0,901.4 2240.1,900.4 2244.2,899.3 2248.2,898.2 2252.3,897.1 2256.4,896.0 2260.5,894.8 2264.6,893.5 2268.7,892.3 2272.7,891.0 2276.8,889.6 2280.9,888.3 2285.0,886.9 2289.1,885.5 2293.2,884.0 2297.2,882.5 2301.3,881.0 2305.4,879.5 2309.5,877.9 2313.6,876.3 2317.7,874.7 2321.8,873.1 2325.8,871.4 2329.9,869.7 2334.0,868.0 2338.1,866.2 2342.2,864.5 2346.3,862.7 2350.3,860.9 2354.4,859.0 2358.5,857.2 2362.6,855.3 2366.7,853.4 2370.8,851.4 2374.9,849.5 2378.9,847.5 2383.0,845.5 2387.1,843.5 2391.2,841.5 2395.3,839.5 2399.4,837.4 2403.4,835.3 2407.5,833.2 2411.6,831.1 2415.7,829.0 2419.8,826.8 2423.9,824.7 2427.9,822.5" fill="none" stroke="#ff0000" stroke-width="7.5" stroke-linecap="square" stroke-linejoin="round"/>
<path d="M1451.8,54.9 1455.9,63.0 1460.0,71.1 1464.1,79.2 1468.1,87.3 1472.2,95.3 1476.3,103.4 1480.4,111.5 1484.5,119.6 1488.6,127.6 1492.6,135.7 1496.7,143.7 1500.8,151.7 1504.9,159.8 1509.0,167.8 1513.1,175.7 1517.1,183.7 1521.2,191.7 1525.3,199.6 1529.4,207.6 1533.5,215.5 1537.6,223.4 1541.7,231.2 1545.7,239.1 1549.8,246.9 1553.9,254.7 1558.0,262.5 1562.1,270.2 1566.2,278.0 1570.2,285.7 1574.3,293.4 1578.4,301.0 1582.5,308.6 1586.6,316.2 1590.7,323.8 1594.8,331.3 1598.8,338.8 1602.9,346.3 1607.0,353.7 1611.1,361.1 1615.2,368.4 1619.3,375.8 1623.3,383.0 1627.4,390.3 1631.5,397.5 1635.6,404.7 1639.7,411.8 1643.8,418.9 1647.8,425.9 1651.9,432.9 1656.0,439.9 1660.1,446.8 1664.2,453.7 1668.3,460.5 1672.4,467.3 1676.4,474.0 1680.5,480.7 1684.6,487.4 1688.7,494.0 1692.8,500.5 1696.9,507.0 1700.9,513.5 1705.0,519.9 1709.1,526.2 1713.2,532.5 1717.3,538.8 1721.4,544.9 1725.4,551.1 1729.5,557.2 1733.6,563.2 1737.7,569.2 1741.8,575.1 1745.9,581.0 1750.0,586.8 1754.0,592.5 1758.1,598.3 1762.2,603.9 1766.3,609.5 1770.4,615.0 1774.5,620.5 1778.5,625.9 1782.6,631.3 1786.7,636.6 1790.8,641.8 1794.9,647.0 1799.0,652.1 1803.0,657.2 1807.1,662.2 1811.2,667.1 1815.3,672.0 1819.4,676.8 1823.5,681.6 1827.6,686.3 1831.6,690.9 1835.7,695.5 1839.8,700.0 1843.9,704.4 1848.0,708.8 1852.1,713.2 1856.1,717.4 1860.2,721.6 1864.3,725.8 1868.4,729.9 1872.5,733.9 1876.6,737.9 1880.7,741.8 1884.7,745.6 1888.8,749.4 1892.9,753.1 1897.0,756.7 1901.1,760.3 1905.2,763.8 1909.2,767.3 1913.3,770.7 1917.4,774.0 1921.5,777.3 1925.6,780.5 1929.7,783.7 1933.7,786.8 1937.8,789.8 1941.9,792.8 1946.0,795.7 1950.1,798.5 1954.2,801.3 1958.3,804.1 1962.3,806.7 1966.4,809.3 1970.5,811.9 1974.6,814.4 1978.7,816.8 1982.8,819.2 1986.8,821.5 1990.9,823.7 1995.0,825.9 1999.1,828.1 2003.2,830.1 2007.3,832.2 2011.3,834.1 2015.4,836.0 2019.5,837.9 2023.6,839.7 2027.7,841.4 2031.8,843.1 2035.9,844.7 2039.9,846.3 2044.0,847.8 2048.1,849.2 2052.2,850.6 2056.3,852.0 2060.4,853.3 2064.4,854.5 2068.5,855.7 2072.6,856.8 2076.7,857.9 2080.8,859.0 2084.9,859.9 2089.0,860.9 2093.0,861.7 2097.1,862.6 2101.2,863.3 2105.3,864.1 2109.4,864.8 2113.5,865.4 2117.5,866.0 2121.6,866.5 2125.7,867.0 2129.8,867.4 2133.9,867.8 2138.0,868.1 2142.0,868.4 2146.1,868.7 2150.2,868.9 2154.3,869.1 2158.4,869.2 2162.5,869.3 2166.6,869.3 2170.6,869.3 2174.7,869.2 2178.8,869.1 2182.9,869.0 2187.0,868.8 2191.1,868.6 2195.1,868.3 2199.2,868.0 2203.3,867.7 2207.4,867.3 2211.5,866.9 2215.6,866.4 2219.6,865.9 2223.7,865.4 2227.8,864.8 2231.9,864.2 2236.0,863.6 2240.1,862.9 2244.2,862.2 2248.2,861.4 2252.3,860.6 2256.4,859.8 2260.5,859.0 2264.6,858.1 2268.7,857.2 2272.7,856.2 2276.8,855.2 2280.9,854.2 2285.0,853.2 2289.1,852.1 2293.2,851.0 2297.2,849.9 2301.3,848.7 2305.4,847.5 2309.5,846.3 2313.6,845.1 2317.7,843.8 2321.8,842.5 2325.8,841.2 2329.9,839.8 2334.0,838.5 2338.1,837.0 2342.2,835.6 2346.3,834.2 2350.3,832.7 2354.4,831.2 2358.5,829.7 2362.6,828.1 2366.7,826.5 2370.8,825.0 2374.9,823.3 2378.9,821.7 2383.0,820.1 2387.1,818.4 2391.2,816.7 2395.3,815.0 2399.4,813.2 2403.4,811.5 2407.5,809.7 2411.6,807.9 2415.7,806.1 2419.8,804.3 2423.9,802.4 2427.9,800.6" fill="none" stroke="#800080" stroke-width="7.5" stroke-linecap="square" stroke-linejoin="round"/>
<path d="M1451.8,54.9 1455.9,62.3 1460.0,69.6 1464.1,77.0 1468.1,84.3 1472.2,91.6 1476.3,99.0 1480.4,106.3 1484.5,113.6 1488.6,121.0 1492.6,128.3 1496.7,135.6 1500.8,142.9 1504.9,150.2 1509.0,157.4 1513.1,164.7 1517.1,172.0 1521.2,179.2 1525.3,186.4 1529.4,193.6 1533.5,200.8 1537.6,208.0 1541.7,215.2 1545.7,222.3 1549.8,229.5 1553.9,236.6 1558.0,243.7 1562.1,250.7 1566.2,257.8 1570.2,264.8 1574.3,271.8 1578.4,278.8 1582.5,285.7 1586.6,292.7 1590.7,299.6 1594.8,306.4 1598.8,313.3 1602.9,320.1 1607.0,326.9 1611.1,333.6 1615.2,340.4 1619.3,347.1 1623.3,353.8 1627.4,360.4 1631.5,367.0 1635.6,373.6 1639.7,380.1 1643.8,386.6 1647.8,393.1 1651.9,399.5 1656.0,405.9 1660.1,412.3 1664.2,418.6 1668.3,424.9 1672.4,431.1 1676.4,437.3 1680.5,443.5 1684.6,449.6 1688.7,455.7 1692.8,461.7 1696.9,467.7 1700.9,473.7 1705.0,479.6 1709.1,485.5 1713.2,491.3 1717.3,497.1 1721.4,502.9 1725.4,508.6 1729.5,514.2 1733.6,519.8 1737.7,525.4 1741.8,530.9 1745.9,536.4 1750.0,541.8 1754.0,547.2 1758.1,552.5 1762.2,557.8 1766.3,563.0 1770.4,568.2 1774.5,573.3 1778.5,578.4 1782.6,583.4 1786.7,588.4 1790.8,593.3 1794.9,598.2 1799.0,603.0 1803.0,607.8 1807.1,612.5 1811.2,617.2 1815.3,621.8 1819.4,626.4 1823.5,630.9 1827.6,635.4 1831.6,639.8 1835.7,644.1 1839.8,648.4 1843.9,652.7 1848.0,656.9 1852.1,661.0 1856.1,665.1 1860.2,669.2 1864.3,673.1 1868.4,677.1 1872.5,681.0 1876.6,684.8 1880.7,688.6 1884.7,692.3 1888.8,695.9 1892.9,699.5 1897.0,703.1 1901.1,706.6 1905.2,710.0 1909.2,713.4 1913.3,716.8 1917.4,720.1 1921.5,723.3 1925.6,726.5 1929.7,729.6 1933.7,732.7 1937.8,735.7 1941.9,738.7 1946.0,741.6 1950.1,744.4 1954.2,747.2 1958.3,750.0 1962.3,752.7 1966.4,755.3 1970.5,757.9 1974.6,760.5 1978.7,763.0 1982.8,765.4 1986.8,767.8 1990.9,770.1 1995.0,772.4 1999.1,774.6 2003.2,776.8 2007.3,778.9 2011.3,781.0 2015.4,783.0 2019.5,785.0 2023.6,786.9 2027.7,788.8 2031.8,790.6 2035.9,792.4 2039.9,794.1 2044.0,795.8 2048.1,797.4 2052.2,799.0 2056.3,800.5 2060.4,802.0 2064.4,803.4 2068.5,804.8 2072.6,806.1 2076.7,807.4 2080.8,808.7 2084.9,809.9 2089.0,811.0 2093.0,812.1 2097.1,813.2 2101.2,814.2 2105.3,815.2 2109.4,816.1 2113.5,817.0 2117.5,817.8 2121.6,818.6 2125.7,819.4 2129.8,820.1 2133.9,820.7 2138.0,821.4 2142.0,821.9 2146.1,822.5 2150.2,823.0 2154.3,823.4 2158.4,823.8 2162.5,824.2 2166.6,824.6 2170.6,824.9 2174.7,825.1 2178.8,825.3 2182.9,825.5 2187.0,825.6 2191.1,825.7 2195.1,825.8 2199.2,825.8 2203.3,825.8 2207.4,825.8 2211.5,825.7 2215.6,825.6 2219.6,825.4 2223.7,825.2 2227.8,825.0 2231.9,824.8 2236.0,824.5 2240.1,824.1 2244.2,823.8 2248.2,823.4 2252.3,823.0 2256.4,822.5 2260.5,822.0 2264.6,821.5 2268.7,821.0 2272.7,820.4 2276.8,819.8 2280.9,819.1 2285.0,818.5 2289.1,817.8 2293.2,817.0 2297.2,816.3 2301.3,815.5 2305.4,814.7 2309.5,813.9 2313.6,813.0 2317.7,812.1 2321.8,811.2 2325.8,810.2 2329.9,809.3 2334.0,808.3 2338.1,807.3 2342.2,806.2 2346.3,805.1 2350.3,804.1 2354.4,802.9 2358.5,801.8 2362.6,800.6 2366.7,799.5 2370.8,798.3 2374.9,797.0 2378.9,795.8 2383.0,794.5 2387.1,793.2 2391.2,791.9 2395.3,790.6 2399.4,789.2 2403.4,787.9 2407.5,786.5 2411.6,785.1 2415.7,783.6 2419.8,782.2 2423.9,780.7 2427.9,779.2" fill="none" stroke="#ff8000" stroke-width="7.5" stroke-linecap="square" stroke-linejoin="round"/>
<path d="M1451.8,54.9 1455.9,61.6 1460.0,68.4 1464.1,75.1 1468.1,81.9 1472.2,88.6 1476.3,95.3 1480.4,102.1 1484.5,108.8 1488.6,115.5 1492.6,122.2 1496.7,128.9 1500.8,135.6 1504.9,142.3 1509.0,149.0 1513.1,155.7 1517.1,162.3 1521.2,169.0 1525.3,175.6 1529.4,182.2 1533.5,188.8 1537.6,195.4 1541.7,202.0 1545.7,208.6 1549.8,215.1 1553.9,221.7 1558.0,228.2 1562.1,234.7 1566.2,241.1 1570.2,247.6 1574.3,254.0 1578.4,260.5 1582.5,266.9 1586.6,273.2 1590.7,279.6 1594.8,285.9 1598.8,292.2 1602.9,298.5 1607.0,304.8 1611.1,311.0 1615.2,317.2 1619.3,323.4 1623.3,329.6 1627.4,335.7 1631.5,341.8 1635.6,347.8 1639.7,353.9 1643.8,359.9 1647.8,365.9 1651.9,371.8 1656.0,377.7 1660.1,383.6 1664.2,389.5 1668.3,395.3 1672.4,401.1 1676.4,406.8 1680.5,412.6 1684.6,418.2 1688.7,423.9 1692.8,429.5 1696.9,435.1 1700.9,440.6 1705.0,446.1 1709.1,451.6 1713.2,457.0 1717.3,462.4 1721.4,467.7 1725.4,473.1 1729.5,478.3 1733.6,483.6 1737.7,488.8 1741.8,493.9 1745.9,499.0 1750.0,504.1 1754.0,509.1 1758.1,514.1 1762.2,519.0 1766.3,523.9 1770.4,528.8 1774.5,533.6 1778.5,538.4 1782.6,543.1 1786.7,547.8 1790.8,552.4 1794.9,557.0 1799.0,561.6 1803.0,566.1 1807.1,570.6 1811.2,575.0 1815.3,579.3 1819.4,583.7 1823.5,587.9 1827.6,592.2 1831.6,596.4 1835.7,600.5 1839.8,604.6 1843.9,608.7 1848.0,612.7 1852.1,616.6 1856.1,620.5 1860.2,624.4 1864.3,628.2 1868.4,632.0 1872.5,635.7 1876.6,639.4 1880.7,643.0 1884.7,646.6 1888.8,650.1 1892.9,653.6 1897.0,657.0 1901.1,660.4 1905.2,663.7 1909.2,667.0 1913.3,670.3 1917.4,673.5 1921.5,676.6 1925.6,679.7 1929.7,682.8 1933.7,685.8 1937.8,688.8 1941.9,691.7 1946.0,694.5 1950.1,697.4 1954.2,700.1 1958.3,702.9 1962.3,705.5 1966.4,708.2 1970.5,710.8 1974.6,713.3 1978.7,715.8 1982.8,718.2 1986.8,720.6 1990.9,723.0 1995.0,725.3 1999.1,727.5 2003.2,729.8 2007.3,731.9 2011.3,734.0 2015.4,736.1 2019.5,738.2 2023.6,740.1 2027.7,742.1 2031.8,744.0 2035.9,745.8 2039.9,747.7 2044.0,749.4 2048.1,751.1 2052.2,752.8 2056.3,754.4 2060.4,756.0 2064.4,757.6 2068.5,759.1 2072.6,760.6 2076.7,762.0 2080.8,763.4 2084.9,764.7 2089.0,766.0 2093.0,767.2 2097.1,768.4 2101.2,769.6 2105.3,770.7 2109.4,771.8 2113.5,772.9 2117.5,773.9 2121.6,774.9 2125.7,775.8 2129.8,776.7 2133.9,777.5 2138.0,778.4 2142.0,779.1 2146.1,779.9 2150.2,780.6 2154.3,781.2 2158.4,781.9 2162.5,782.4 2166.6,783.0 2170.6,783.5 2174.7,784.0 2178.8,784.4 2182.9,784.8 2187.0,785.2 2191.1,785.5 2195.1,785.8 2199.2,786.1 2203.3,786.4 2207.4,786.6 2211.5,786.7 2215.6,786.9 2219.6,787.0 2223.7,787.0 2227.8,787.1 2231.9,787.1 2236.0,787.1 2240.1,787.0 2244.2,786.9 2248.2,786.8 2252.3,786.6 2256.4,786.5 2260.5,786.3 2264.6,786.0 2268.7,785.8 2272.7,785.5 2276.8,785.1 2280.9,784.8 2285.0,784.4 2289.1,784.0 2293.2,783.6 2297.2,783.1 2301.3,782.6 2305.4,782.1 2309.5,781.6 2313.6,781.0 2317.7,780.4 2321.8,779.8 2325.8,779.2 2329.9,778.5 2334.0,777.8 2338.1,777.1 2342.2,776.4 2346.3,775.6 2350.3,774.8 2354.4,774.0 2358.5,773.2 2362.6,772.3 2366.7,771.5 2370.8,770.6 2374.9,769.7 2378.9,768.7 2383.0,767.8 2387.1,766.8 2391.2,765.8 2395.3,764.8 2399.4,763.8 2403.4,762.7 2407.5,761.6 2411.6,760.6 2415.7,759.4 2419.8,758.3 2423.9,757.2 2427.9,756.0" fill="none" stroke="#0000ff" stroke-width="7.5" stroke-linecap="square" stroke-linejoin="round"/>
<text transform="translate(1440.87,1059.50) scale(0.6250,1)" font-family='"Liberation Sans", sans-serif' font-weight="bold" font-style="normal" font-size="63" fill="#000">0</text>
<text transform="translate(1653.77,1059.50) scale(0.6250,1)" font-family='"Liberation Sans", sans-serif' font-weight="bold" font-style="normal" font-size="63" fill="#000">2</text>
<text transform="translate(1866.67,1059.50) scale(0.6250,1)" font-family='"Liberation Sans", sans-serif' font-weight="bold" font-style="normal" font-size="63" fill="#000">4</text>
<text transform="translate(2079.57,1059.50) scale(0.6250,1)" font-family='"Liberation Sans", sans-serif' font-weight="bold" font-style="normal" font-size="63" fill="#000">6</text>
<text transform="translate(2292.47,1059.50) scale(0.6250,1)" font-family='"Liberation Sans", sans-serif' font-weight="bold" font-style="normal" font-size="63" fill="#000">8</text>
<text transform="translate(1398.65,76.90) scale(0.6250,1)" font-family='"Liberation Sans", sans-serif' font-weight="bold" font-style="normal" font-size="63" fill="#000">0</text>
<text transform="translate(1398.65,206.75) scale(0.6250,1)" font-family='"Liberation Sans", sans-serif' font-weight="bold" font-style="normal" font-size="63" fill="#000">5</text>
<rect x="1377.9" y="187.9" width="18.2" height="7" fill="#000"/>
<text transform="translate(1376.79,336.60) scale(0.6250,1)" font-family='"Liberation Sans", sans-serif' font-weight="bold" font-style="normal" font-size="63" fill="#000">10</text>
<rect x="1356.0" y="317.8" width="18.2" height="7" fill="#000"/>
<text transform="translate(1376.79,466.45) scale(0.6250,1)" font-family='"Liberation Sans", sans-serif' font-weight="bold" font-style="normal" font-size="63" fill="#000">15</text>
<rect x="1356.0" y="447.6" width="18.2" height="7" fill="#000"/>
<text transform="translate(1376.79,596.30) scale(0.6250,1)" font-family='"Liberation Sans", sans-serif' font-weight="bold" font-style="normal" font-size="63" fill="#000">20</text>
<rect x="1356.0" y="577.5" width="18.2" height="7" fill="#000"/>
<text transform="translate(1376.79,726.15) scale(0.6250,1)" font-family='"Liberation Sans", sans-serif' font-weight="bold" font-style="normal" font-size="63" fill="#000">25</text>
<rect x="1356.0" y="707.4" width="18.2" height="7" fill="#000"/>
<text transform="translate(1376.79,856.00) scale(0.6250,1)" font-family='"Liberation Sans", sans-serif' font-weight="bold" font-style="normal" font-size="63" fill="#000">30</text>
<rect x="1356.0" y="837.2" width="18.2" height="7" fill="#000"/>
<text transform="translate(1376.79,985.85) scale(0.6250,1)" font-family='"Liberation Sans", sans-serif' font-weight="bold" font-style="normal" font-size="63" fill="#000">35</text>
<rect x="1356.0" y="967.0" width="18.2" height="7" fill="#000"/>
<text transform="translate(1935.00,1157.20) scale(0.5684,1)" font-family='"Liberation Sans", sans-serif' font-weight="bold" font-style="normal" font-size="60" fill="#000" stroke="#000" stroke-width="1.3" stroke-linejoin="round">r</text>
<text transform="translate(1327.80,770.00) rotate(-90) scale(1.4964,1)" font-family='"Liberation Sans", sans-serif' font-weight="bold" font-style="normal" font-size="40.6" fill="#000">Gradients MeV/fm</text>
<text transform="translate(1309.30,252.00) rotate(-90) scale(1.4066,1)" font-family='"Liberation Sans", sans-serif' font-weight="bold" font-style="normal" font-size="31" fill="#000">3</text>
<rect x="2681.5" y="6.4" width="1020.9" height="972.6" fill="none" stroke="#6b6b6b" stroke-width="2.2"/>
<path d="M2701.7,979.0V962.5M2701.7,6.4V22.9M2915.1,979.0V962.5M2915.1,6.4V22.9M3128.5,979.0V962.5M3128.5,6.4V22.9M3341.9,979.0V962.5M3341.9,6.4V22.9M3555.3,979.0V962.5M3555.3,6.4V22.9M2755.0,979.0V968.8M2755.0,6.4V16.6M2808.4,979.0V968.8M2808.4,6.4V16.6M2861.8,979.0V968.8M2861.8,6.4V16.6M2968.4,979.0V968.8M2968.4,6.4V16.6M3021.8,979.0V968.8M3021.8,6.4V16.6M3075.1,979.0V968.8M3075.1,6.4V16.6M3181.8,979.0V968.8M3181.8,6.4V16.6M3235.2,979.0V968.8M3235.2,6.4V16.6M3288.5,979.0V968.8M3288.5,6.4V16.6M3395.2,979.0V968.8M3395.2,6.4V16.6M3448.6,979.0V968.8M3448.6,6.4V16.6M3501.9,979.0V968.8M3501.9,6.4V16.6M3608.6,979.0V968.8M3608.6,6.4V16.6M3662.0,979.0V968.8M3662.0,6.4V16.6M2681.5,98.6H2692.5M3702.4,98.6H3691.4M2681.5,251.3H2692.5M3702.4,251.3H3691.4M2681.5,404.1H2692.5M3702.4,404.1H3691.4M2681.5,556.9H2692.5M3702.4,556.9H3691.4M2681.5,709.6H2692.5M3702.4,709.6H3691.4M2681.5,862.4H2692.5M3702.4,862.4H3691.4M2681.5,954.0H2688.8M3702.4,954.0H3695.1M2681.5,923.5H2688.8M3702.4,923.5H3695.1M2681.5,892.9H2688.8M3702.4,892.9H3695.1M2681.5,831.8H2688.8M3702.4,831.8H3695.1M2681.5,801.2H2688.8M3702.4,801.2H3695.1M2681.5,770.7H2688.8M3702.4,770.7H3695.1M2681.5,740.2H2688.8M3702.4,740.2H3695.1M2681.5,679.1H2688.8M3702.4,679.1H3695.1M2681.5,648.5H2688.8M3702.4,648.5H3695.1M2681.5,618.0H2688.8M3702.4,618.0H3695.1M2681.5,587.4H2688.8M3702.4,587.4H3695.1M2681.5,526.3H2688.8M3702.4,526.3H3695.1M2681.5,495.8H2688.8M3702.4,495.8H3695.1M2681.5,465.2H2688.8M3702.4,465.2H3695.1M2681.5,434.6H2688.8M3702.4,434.6H3695.1M2681.5,373.5H2688.8M3702.4,373.5H3695.1M2681.5,343.0H2688.8M3702.4,343.0H3695.1M2681.5,312.4H2688.8M3702.4,312.4H3695.1M2681.5,281.9H2688.8M3702.4,281.9H3695.1M2681.5,220.8H2688.8M3702.4,220.8H3695.1M2681.5,190.2H2688.8M3702.4,190.2H3695.1M2681.5,159.7H2688.8M3702.4,159.7H3695.1M2681.5,129.2H2688.8M3702.4,129.2H3695.1M2681.5,68.0H2688.8M3702.4,68.0H3695.1M2681.5,37.5H2688.8M3702.4,37.5H3695.1M2681.5,6.9H2688.8M3702.4,6.9H3695.1" stroke="#6b6b6b" stroke-width="2.2" fill="none"/>
<path d="M2701.7,100.7 2705.8,102.8 2709.9,105.0 2714.0,107.2 2718.1,109.4 2722.2,111.5 2726.3,113.7 2730.4,115.9 2734.5,118.1 2738.6,120.3 2742.7,122.5 2746.8,124.7 2750.9,127.0 2755.0,129.2 2759.1,131.4 2763.2,133.7 2767.3,135.9 2771.4,138.1 2775.6,140.4 2779.7,142.7 2783.8,144.9 2787.9,147.2 2792.0,149.5 2796.1,151.7 2800.2,154.0 2804.3,156.3 2808.4,158.6 2812.5,160.9 2816.6,163.2 2820.7,165.5 2824.8,167.8 2828.9,170.1 2833.0,172.5 2837.1,174.8 2841.2,177.1 2845.3,179.5 2849.4,181.8 2853.5,184.2 2857.6,186.5 2861.7,188.9 2865.8,191.2 2869.9,193.6 2874.0,196.0 2878.1,198.3 2882.2,200.7 2886.3,203.1 2890.4,205.5 2894.5,207.9 2898.6,210.3 2902.7,212.7 2906.8,215.1 2910.9,217.5 2915.0,219.9 2919.1,222.3 2923.3,224.7 2927.4,227.1 2931.5,229.6 2935.6,232.0 2939.7,234.4 2943.8,236.9 2947.9,239.3 2952.0,241.8 2956.1,244.2 2960.2,246.7 2964.3,249.1 2968.4,251.6 2972.5,254.1 2976.6,256.5 2980.7,259.0 2984.8,261.5 2988.9,264.0 2993.0,266.4 2997.1,268.9 3001.2,271.4 3005.3,273.9 3009.4,276.4 3013.5,278.9 3017.6,281.4 3021.7,283.9 3025.8,286.4 3029.9,288.9 3034.0,291.5 3038.1,294.0 3042.2,296.5 3046.3,299.0 3050.4,301.6 3054.5,304.1 3058.6,306.6 3062.7,309.2 3066.9,311.7 3071.0,314.3 3075.1,316.8 3079.2,319.3 3083.3,321.9 3087.4,324.5 3091.5,327.0 3095.6,329.6 3099.7,332.1 3103.8,334.7 3107.9,337.3 3112.0,339.8 3116.1,342.4 3120.2,345.0 3124.3,347.6 3128.4,350.1 3132.5,352.7 3136.6,355.3 3140.7,357.9 3144.8,360.5 3148.9,363.1 3153.0,365.7 3157.1,368.3 3161.2,370.9 3165.3,373.5 3169.4,376.1 3173.5,378.7 3177.6,381.3 3181.7,383.9 3185.8,386.5 3189.9,389.1 3194.0,391.7 3198.1,394.3 3202.2,397.0 3206.3,399.6 3210.4,402.2 3214.6,404.8 3218.7,407.4 3222.8,410.1 3226.9,412.7 3231.0,415.3 3235.1,417.9 3239.2,420.6 3243.3,423.2 3247.4,425.8 3251.5,428.5 3255.6,431.1 3259.7,433.7 3263.8,436.4 3267.9,439.0 3272.0,441.6 3276.1,444.3 3280.2,446.9 3284.3,449.5 3288.4,452.2 3292.5,454.8 3296.6,457.4 3300.7,460.1 3304.8,462.7 3308.9,465.3 3313.0,468.0 3317.1,470.6 3321.2,473.2 3325.3,475.8 3329.4,478.5 3333.5,481.1 3337.6,483.7 3341.7,486.3 3345.8,489.0 3349.9,491.6 3354.0,494.2 3358.2,496.8 3362.3,499.4 3366.4,502.0 3370.5,504.6 3374.6,507.2 3378.7,509.8 3382.8,512.4 3386.9,515.0 3391.0,517.6 3395.1,520.2 3399.2,522.8 3403.3,525.4 3407.4,528.0 3411.5,530.6 3415.6,533.1 3419.7,535.7 3423.8,538.3 3427.9,540.9 3432.0,543.4 3436.1,546.0 3440.2,548.5 3444.3,551.1 3448.4,553.6 3452.5,556.2 3456.6,558.7 3460.7,561.3 3464.8,563.8 3468.9,566.3 3473.0,568.8 3477.1,571.4 3481.2,573.9 3485.3,576.4 3489.4,578.9 3493.5,581.4 3497.6,583.9 3501.7,586.4 3505.9,588.9 3510.0,591.3 3514.1,593.8 3518.2,596.3 3522.3,598.7 3526.4,601.2 3530.5,603.6 3534.6,606.1 3538.7,608.5 3542.8,610.9 3546.9,613.4 3551.0,615.8 3555.1,618.2 3559.2,620.6 3563.3,623.0 3567.4,625.4 3571.5,627.8 3575.6,630.1 3579.7,632.5 3583.8,634.9 3587.9,637.2 3592.0,639.6 3596.1,641.9 3600.2,644.2 3604.3,646.6 3608.4,648.9 3612.5,651.2 3616.6,653.5 3620.7,655.8 3624.8,658.1 3628.9,660.3 3633.0,662.6 3637.1,664.9 3641.2,667.1 3645.3,669.4 3649.5,671.6 3653.6,673.8 3657.7,676.0 3661.8,678.2 3665.9,680.4 3670.0,682.6 3674.1,684.8 3678.2,687.0 3682.3,689.1" fill="none" stroke="#000000" stroke-width="7.5" stroke-linecap="square" stroke-linejoin="round"/>
<path d="M2701.7,100.8 2705.8,103.1 2709.9,105.5 2714.0,107.9 2718.1,110.3 2722.2,112.8 2726.3,115.2 2730.4,117.6 2734.5,120.0 2738.6,122.5 2742.7,124.9 2746.8,127.4 2750.9,129.8 2755.0,132.3 2759.1,134.8 2763.2,137.2 2767.3,139.7 2771.4,142.2 2775.6,144.7 2779.7,147.2 2783.8,149.7 2787.9,152.2 2792.0,154.7 2796.1,157.2 2800.2,159.8 2804.3,162.3 2808.4,164.8 2812.5,167.4 2816.6,169.9 2820.7,172.5 2824.8,175.0 2828.9,177.6 2833.0,180.2 2837.1,182.8 2841.2,185.3 2845.3,187.9 2849.4,190.5 2853.5,193.1 2857.6,195.7 2861.7,198.3 2865.8,200.9 2869.9,203.5 2874.0,206.2 2878.1,208.8 2882.2,211.4 2886.3,214.1 2890.4,216.7 2894.5,219.3 2898.6,222.0 2902.7,224.6 2906.8,227.3 2910.9,230.0 2915.0,232.6 2919.1,235.3 2923.3,238.0 2927.4,240.7 2931.5,243.3 2935.6,246.0 2939.7,248.7 2943.8,251.4 2947.9,254.1 2952.0,256.8 2956.1,259.5 2960.2,262.2 2964.3,264.9 2968.4,267.7 2972.5,270.4 2976.6,273.1 2980.7,275.8 2984.8,278.6 2988.9,281.3 2993.0,284.1 2997.1,286.8 3001.2,289.5 3005.3,292.3 3009.4,295.1 3013.5,297.8 3017.6,300.6 3021.7,303.3 3025.8,306.1 3029.9,308.9 3034.0,311.6 3038.1,314.4 3042.2,317.2 3046.3,320.0 3050.4,322.8 3054.5,325.5 3058.6,328.3 3062.7,331.1 3066.9,333.9 3071.0,336.7 3075.1,339.5 3079.2,342.3 3083.3,345.1 3087.4,347.9 3091.5,350.7 3095.6,353.6 3099.7,356.4 3103.8,359.2 3107.9,362.0 3112.0,364.8 3116.1,367.7 3120.2,370.5 3124.3,373.3 3128.4,376.1 3132.5,379.0 3136.6,381.8 3140.7,384.6 3144.8,387.5 3148.9,390.3 3153.0,393.2 3157.1,396.0 3161.2,398.8 3165.3,401.7 3169.4,404.5 3173.5,407.4 3177.6,410.2 3181.7,413.1 3185.8,415.9 3189.9,418.8 3194.0,421.6 3198.1,424.5 3202.2,427.4 3206.3,430.2 3210.4,433.1 3214.6,435.9 3218.7,438.8 3222.8,441.7 3226.9,444.5 3231.0,447.4 3235.1,450.2 3239.2,453.1 3243.3,456.0 3247.4,458.8 3251.5,461.7 3255.6,464.6 3259.7,467.4 3263.8,470.3 3267.9,473.1 3272.0,476.0 3276.1,478.8 3280.2,481.7 3284.3,484.5 3288.4,487.4 3292.5,490.2 3296.6,493.1 3300.7,495.9 3304.8,498.8 3308.9,501.6 3313.0,504.4 3317.1,507.3 3321.2,510.1 3325.3,512.9 3329.4,515.7 3333.5,518.5 3337.6,521.3 3341.7,524.2 3345.8,527.0 3349.9,529.8 3354.0,532.6 3358.2,535.4 3362.3,538.1 3366.4,540.9 3370.5,543.7 3374.6,546.5 3378.7,549.2 3382.8,552.0 3386.9,554.8 3391.0,557.5 3395.1,560.2 3399.2,563.0 3403.3,565.7 3407.4,568.4 3411.5,571.2 3415.6,573.9 3419.7,576.6 3423.8,579.3 3427.9,582.0 3432.0,584.7 3436.1,587.3 3440.2,590.0 3444.3,592.7 3448.4,595.3 3452.5,598.0 3456.6,600.6 3460.7,603.2 3464.8,605.8 3468.9,608.5 3473.0,611.1 3477.1,613.7 3481.2,616.2 3485.3,618.8 3489.4,621.4 3493.5,623.9 3497.6,626.5 3501.7,629.0 3505.9,631.6 3510.0,634.1 3514.1,636.6 3518.2,639.1 3522.3,641.6 3526.4,644.0 3530.5,646.5 3534.6,649.0 3538.7,651.4 3542.8,653.8 3546.9,656.3 3551.0,658.7 3555.1,661.1 3559.2,663.4 3563.3,665.8 3567.4,668.2 3571.5,670.5 3575.6,672.9 3579.7,675.2 3583.8,677.5 3587.9,679.8 3592.0,682.1 3596.1,684.3 3600.2,686.6 3604.3,688.8 3608.4,691.1 3612.5,693.3 3616.6,695.5 3620.7,697.7 3624.8,699.9 3628.9,702.0 3633.0,704.2 3637.1,706.3 3641.2,708.4 3645.3,710.5 3649.5,712.6 3653.6,714.7 3657.7,716.7 3661.8,718.7 3665.9,720.8 3670.0,722.8 3674.1,724.8 3678.2,726.7 3682.3,728.7" fill="none" stroke="#00ffff" stroke-width="7.5" stroke-linecap="square" stroke-linejoin="round"/>
<path d="M2701.7,100.7 2705.8,103.4 2709.9,106.1 2714.0,108.8 2718.1,111.5 2722.2,114.3 2726.3,117.0 2730.4,119.8 2734.5,122.5 2738.6,125.3 2742.7,128.1 2746.8,130.9 2750.9,133.6 2755.0,136.4 2759.1,139.2 2763.2,142.0 2767.3,144.8 2771.4,147.6 2775.6,150.5 2779.7,153.3 2783.8,156.1 2787.9,158.9 2792.0,161.8 2796.1,164.6 2800.2,167.5 2804.3,170.3 2808.4,173.2 2812.5,176.1 2816.6,178.9 2820.7,181.8 2824.8,184.7 2828.9,187.6 2833.0,190.5 2837.1,193.4 2841.2,196.3 2845.3,199.2 2849.4,202.1 2853.5,205.0 2857.6,207.9 2861.7,210.9 2865.8,213.8 2869.9,216.7 2874.0,219.7 2878.1,222.6 2882.2,225.5 2886.3,228.5 2890.4,231.5 2894.5,234.4 2898.6,237.4 2902.7,240.3 2906.8,243.3 2910.9,246.3 2915.0,249.3 2919.1,252.3 2923.3,255.2 2927.4,258.2 2931.5,261.2 2935.6,264.2 2939.7,267.2 2943.8,270.2 2947.9,273.2 2952.0,276.2 2956.1,279.3 2960.2,282.3 2964.3,285.3 2968.4,288.3 2972.5,291.4 2976.6,294.4 2980.7,297.4 2984.8,300.5 2988.9,303.5 2993.0,306.5 2997.1,309.6 3001.2,312.6 3005.3,315.7 3009.4,318.7 3013.5,321.8 3017.6,324.8 3021.7,327.9 3025.8,331.0 3029.9,334.0 3034.0,337.1 3038.1,340.2 3042.2,343.2 3046.3,346.3 3050.4,349.4 3054.5,352.5 3058.6,355.5 3062.7,358.6 3066.9,361.7 3071.0,364.8 3075.1,367.9 3079.2,371.0 3083.3,374.1 3087.4,377.1 3091.5,380.2 3095.6,383.3 3099.7,386.4 3103.8,389.5 3107.9,392.6 3112.0,395.7 3116.1,398.8 3120.2,401.9 3124.3,405.0 3128.4,408.1 3132.5,411.2 3136.6,414.3 3140.7,417.4 3144.8,420.6 3148.9,423.7 3153.0,426.8 3157.1,429.9 3161.2,433.0 3165.3,436.1 3169.4,439.2 3173.5,442.3 3177.6,445.4 3181.7,448.5 3185.8,451.7 3189.9,454.8 3194.0,457.9 3198.1,461.0 3202.2,464.1 3206.3,467.2 3210.4,470.3 3214.6,473.4 3218.7,476.5 3222.8,479.7 3226.9,482.8 3231.0,485.9 3235.1,489.0 3239.2,492.1 3243.3,495.2 3247.4,498.3 3251.5,501.4 3255.6,504.5 3259.7,507.6 3263.8,510.6 3267.9,513.7 3272.0,516.8 3276.1,519.9 3280.2,523.0 3284.3,526.0 3288.4,529.1 3292.5,532.2 3296.6,535.2 3300.7,538.3 3304.8,541.3 3308.9,544.4 3313.0,547.4 3317.1,550.4 3321.2,553.5 3325.3,556.5 3329.4,559.5 3333.5,562.5 3337.6,565.5 3341.7,568.5 3345.8,571.5 3349.9,574.5 3354.0,577.4 3358.2,580.4 3362.3,583.4 3366.4,586.3 3370.5,589.3 3374.6,592.2 3378.7,595.1 3382.8,598.0 3386.9,600.9 3391.0,603.8 3395.1,606.7 3399.2,609.6 3403.3,612.5 3407.4,615.3 3411.5,618.2 3415.6,621.0 3419.7,623.8 3423.8,626.6 3427.9,629.4 3432.0,632.2 3436.1,635.0 3440.2,637.8 3444.3,640.6 3448.4,643.3 3452.5,646.0 3456.6,648.8 3460.7,651.5 3464.8,654.2 3468.9,656.9 3473.0,659.5 3477.1,662.2 3481.2,664.8 3485.3,667.5 3489.4,670.1 3493.5,672.7 3497.6,675.3 3501.7,677.8 3505.9,680.4 3510.0,682.9 3514.1,685.5 3518.2,688.0 3522.3,690.5 3526.4,692.9 3530.5,695.4 3534.6,697.9 3538.7,700.3 3542.8,702.7 3546.9,705.1 3551.0,707.5 3555.1,709.8 3559.2,712.2 3563.3,714.5 3567.4,716.8 3571.5,719.1 3575.6,721.4 3579.7,723.7 3583.8,725.9 3587.9,728.1 3592.0,730.3 3596.1,732.5 3600.2,734.6 3604.3,736.8 3608.4,738.9 3612.5,741.0 3616.6,743.1 3620.7,745.2 3624.8,747.2 3628.9,749.2 3633.0,751.2 3637.1,753.2 3641.2,755.1 3645.3,757.1 3649.5,759.0 3653.6,760.9 3657.7,762.7 3661.8,764.6 3665.9,766.4 3670.0,768.2 3674.1,770.0 3678.2,771.7 3682.3,773.5" fill="none" stroke="#800080" stroke-width="7.5" stroke-linecap="square" stroke-linejoin="round"/>
<path d="M2701.7,100.6 2705.8,103.7 2709.9,106.8 2714.0,109.9 2718.1,113.0 2722.2,116.1 2726.3,119.2 2730.4,122.3 2734.5,125.5 2738.6,128.6 2742.7,131.8 2746.8,134.9 2750.9,138.1 2755.0,141.3 2759.1,144.4 2763.2,147.6 2767.3,150.8 2771.4,154.0 2775.6,157.2 2779.7,160.5 2783.8,163.7 2787.9,166.9 2792.0,170.1 2796.1,173.4 2800.2,176.6 2804.3,179.9 2808.4,183.2 2812.5,186.4 2816.6,189.7 2820.7,193.0 2824.8,196.3 2828.9,199.5 2833.0,202.8 2837.1,206.1 2841.2,209.4 2845.3,212.8 2849.4,216.1 2853.5,219.4 2857.6,222.7 2861.7,226.1 2865.8,229.4 2869.9,232.7 2874.0,236.1 2878.1,239.4 2882.2,242.8 2886.3,246.1 2890.4,249.5 2894.5,252.9 2898.6,256.2 2902.7,259.6 2906.8,263.0 2910.9,266.4 2915.0,269.8 2919.1,273.1 2923.3,276.5 2927.4,279.9 2931.5,283.3 2935.6,286.7 2939.7,290.1 2943.8,293.5 2947.9,297.0 2952.0,300.4 2956.1,303.8 2960.2,307.2 2964.3,310.6 2968.4,314.0 2972.5,317.5 2976.6,320.9 2980.7,324.3 2984.8,327.8 2988.9,331.2 2993.0,334.6 2997.1,338.1 3001.2,341.5 3005.3,344.9 3009.4,348.4 3013.5,351.8 3017.6,355.3 3021.7,358.7 3025.8,362.2 3029.9,365.6 3034.0,369.0 3038.1,372.5 3042.2,375.9 3046.3,379.4 3050.4,382.8 3054.5,386.3 3058.6,389.7 3062.7,393.2 3066.9,396.6 3071.0,400.1 3075.1,403.5 3079.2,407.0 3083.3,410.4 3087.4,413.9 3091.5,417.3 3095.6,420.8 3099.7,424.2 3103.8,427.7 3107.9,431.1 3112.0,434.5 3116.1,438.0 3120.2,441.4 3124.3,444.9 3128.4,448.3 3132.5,451.7 3136.6,455.2 3140.7,458.6 3144.8,462.0 3148.9,465.5 3153.0,468.9 3157.1,472.3 3161.2,475.7 3165.3,479.2 3169.4,482.6 3173.5,486.0 3177.6,489.4 3181.7,492.8 3185.8,496.2 3189.9,499.6 3194.0,503.0 3198.1,506.4 3202.2,509.8 3206.3,513.2 3210.4,516.6 3214.6,520.0 3218.7,523.3 3222.8,526.7 3226.9,530.1 3231.0,533.5 3235.1,536.8 3239.2,540.2 3243.3,543.5 3247.4,546.9 3251.5,550.2 3255.6,553.5 3259.7,556.9 3263.8,560.2 3267.9,563.5 3272.0,566.8 3276.1,570.1 3280.2,573.4 3284.3,576.7 3288.4,579.9 3292.5,583.2 3296.6,586.5 3300.7,589.7 3304.8,592.9 3308.9,596.2 3313.0,599.4 3317.1,602.6 3321.2,605.8 3325.3,609.0 3329.4,612.2 3333.5,615.3 3337.6,618.5 3341.7,621.6 3345.8,624.8 3349.9,627.9 3354.0,631.0 3358.2,634.1 3362.3,637.2 3366.4,640.3 3370.5,643.3 3374.6,646.4 3378.7,649.4 3382.8,652.4 3386.9,655.4 3391.0,658.4 3395.1,661.4 3399.2,664.4 3403.3,667.3 3407.4,670.2 3411.5,673.2 3415.6,676.1 3419.7,679.0 3423.8,681.8 3427.9,684.7 3432.0,687.5 3436.1,690.3 3440.2,693.2 3444.3,695.9 3448.4,698.7 3452.5,701.5 3456.6,704.2 3460.7,706.9 3464.8,709.6 3468.9,712.3 3473.0,715.0 3477.1,717.6 3481.2,720.2 3485.3,722.8 3489.4,725.4 3493.5,728.0 3497.6,730.5 3501.7,733.1 3505.9,735.6 3510.0,738.0 3514.1,740.5 3518.2,742.9 3522.3,745.4 3526.4,747.8 3530.5,750.1 3534.6,752.5 3538.7,754.8 3542.8,757.1 3546.9,759.4 3551.0,761.7 3555.1,763.9 3559.2,766.1 3563.3,768.3 3567.4,770.5 3571.5,772.6 3575.6,774.7 3579.7,776.8 3583.8,778.9 3587.9,780.9 3592.0,782.9 3596.1,784.9 3600.2,786.9 3604.3,788.8 3608.4,790.7 3612.5,792.6 3616.6,794.5 3620.7,796.3 3624.8,798.1 3628.9,799.9 3633.0,801.6 3637.1,803.3 3641.2,805.0 3645.3,806.7 3649.5,808.3 3653.6,809.9 3657.7,811.5 3661.8,813.0 3665.9,814.5 3670.0,816.0 3674.1,817.5 3678.2,818.9 3682.3,820.3" fill="none" stroke="#ff8000" stroke-width="7.5" stroke-linecap="square" stroke-linejoin="round"/>
<path d="M2701.7,100.8 2705.8,104.8 2709.9,108.9 2714.0,112.9 2718.1,117.0 2722.2,121.1 2726.3,125.2 2730.4,129.3 2734.5,133.5 2738.6,137.6 2742.7,141.8 2746.8,146.0 2750.9,150.2 2755.0,154.4 2759.1,158.6 2763.2,162.8 2767.3,167.0 2771.4,171.3 2775.6,175.6 2779.7,179.8 2783.8,184.1 2787.9,188.4 2792.0,192.7 2796.1,197.0 2800.2,201.4 2804.3,205.7 2808.4,210.1 2812.5,214.4 2816.6,218.8 2820.7,223.1 2824.8,227.5 2828.9,231.9 2833.0,236.3 2837.1,240.7 2841.2,245.1 2845.3,249.6 2849.4,254.0 2853.5,258.4 2857.6,262.9 2861.7,267.3 2865.8,271.8 2869.9,276.2 2874.0,280.7 2878.1,285.2 2882.2,289.6 2886.3,294.1 2890.4,298.6 2894.5,303.1 2898.6,307.6 2902.7,312.1 2906.8,316.6 2910.9,321.1 2915.0,325.6 2919.1,330.1 2923.3,334.6 2927.4,339.1 2931.5,343.6 2935.6,348.2 2939.7,352.7 2943.8,357.2 2947.9,361.7 2952.0,366.3 2956.1,370.8 2960.2,375.3 2964.3,379.8 2968.4,384.4 2972.5,388.9 2976.6,393.4 2980.7,397.9 2984.8,402.4 2988.9,407.0 2993.0,411.5 2997.1,416.0 3001.2,420.5 3005.3,425.0 3009.4,429.5 3013.5,434.0 3017.6,438.5 3021.7,443.0 3025.8,447.5 3029.9,452.0 3034.0,456.5 3038.1,461.0 3042.2,465.5 3046.3,470.0 3050.4,474.4 3054.5,478.9 3058.6,483.3 3062.7,487.8 3066.9,492.2 3071.0,496.7 3075.1,501.1 3079.2,505.5 3083.3,510.0 3087.4,514.4 3091.5,518.8 3095.6,523.2 3099.7,527.6 3103.8,531.9 3107.9,536.3 3112.0,540.7 3116.1,545.0 3120.2,549.4 3124.3,553.7 3128.4,558.0 3132.5,562.3 3136.6,566.6 3140.7,570.9 3144.8,575.2 3148.9,579.5 3153.0,583.8 3157.1,588.0 3161.2,592.2 3165.3,596.5 3169.4,600.7 3173.5,604.9 3177.6,609.1 3181.7,613.2 3185.8,617.4 3189.9,621.5 3194.0,625.7 3198.1,629.8 3202.2,633.9 3206.3,638.0 3210.4,642.1 3214.6,646.1 3218.7,650.1 3222.8,654.2 3226.9,658.2 3231.0,662.2 3235.1,666.1 3239.2,670.1 3243.3,674.0 3247.4,678.0 3251.5,681.9 3255.6,685.8 3259.7,689.6 3263.8,693.5 3267.9,697.3 3272.0,701.1 3276.1,704.9 3280.2,708.7 3284.3,712.4 3288.4,716.1 3292.5,719.8 3296.6,723.5 3300.7,727.2 3304.8,730.8 3308.9,734.4 3313.0,738.0 3317.1,741.6 3321.2,745.1 3325.3,748.6 3329.4,752.1 3333.5,755.6 3337.6,759.1 3341.7,762.5 3345.8,765.9 3349.9,769.3 3354.0,772.6 3358.2,775.9 3362.3,779.2 3366.4,782.5 3370.5,785.7 3374.6,788.9 3378.7,792.1 3382.8,795.3 3386.9,798.4 3391.0,801.5 3395.1,804.6 3399.2,807.6 3403.3,810.6 3407.4,813.6 3411.5,816.6 3415.6,819.5 3419.7,822.4 3423.8,825.2 3427.9,828.1 3432.0,830.9 3436.1,833.6 3440.2,836.4 3444.3,839.1 3448.4,841.7 3452.5,844.4 3456.6,847.0 3460.7,849.5 3464.8,852.1 3468.9,854.6 3473.0,857.0 3477.1,859.4 3481.2,861.8 3485.3,864.2 3489.4,866.5 3493.5,868.8 3497.6,871.1 3501.7,873.3 3505.9,875.4 3510.0,877.6 3514.1,879.7 3518.2,881.7 3522.3,883.8 3526.4,885.8 3530.5,887.7 3534.6,889.6 3538.7,891.5 3542.8,893.3 3546.9,895.1 3551.0,896.8 3555.1,898.6 3559.2,900.2 3563.3,901.8 3567.4,903.4 3571.5,905.0 3575.6,906.5 3579.7,907.9 3583.8,909.3 3587.9,910.7 3592.0,912.0 3596.1,913.3 3600.2,914.6 3604.3,915.8 3608.4,916.9 3612.5,918.0 3616.6,919.1 3620.7,920.1 3624.8,921.0 3628.9,922.0 3633.0,922.8 3637.1,923.7 3641.2,924.5 3645.3,925.2 3649.5,925.9 3653.6,926.5 3657.7,927.1 3661.8,927.7 3665.9,928.1 3670.0,928.6 3674.1,929.0 3678.2,929.3 3682.3,929.6" fill="none" stroke="#0000ff" stroke-width="7.5" stroke-linecap="square" stroke-linejoin="round"/>
<path d="M2701.7,99.0 2705.8,100.3 2709.9,101.7 2714.0,103.0 2718.1,104.3 2722.2,105.6 2726.3,107.0 2730.4,108.3 2734.5,109.6 2738.6,110.9 2742.7,112.2 2746.8,113.6 2750.9,114.9 2755.0,116.2 2759.1,117.5 2763.2,118.8 2767.3,120.1 2771.4,121.4 2775.6,122.7 2779.7,124.0 2783.8,125.3 2787.9,126.6 2792.0,127.9 2796.1,129.2 2800.2,130.5 2804.3,131.8 2808.4,133.1 2812.5,134.4 2816.6,135.7 2820.7,137.0 2824.8,138.2 2828.9,139.5 2833.0,140.8 2837.1,142.1 2841.2,143.3 2845.3,144.6 2849.4,145.9 2853.5,147.1 2857.6,148.4 2861.7,149.6 2865.8,150.9 2869.9,152.2 2874.0,153.4 2878.1,154.7 2882.2,155.9 2886.3,157.1 2890.4,158.4 2894.5,159.6 2898.6,160.8 2902.7,162.1 2906.8,163.3 2910.9,164.5 2915.0,165.7 2919.1,167.0 2923.3,168.2 2927.4,169.4 2931.5,170.6 2935.6,171.8 2939.7,173.0 2943.8,174.2 2947.9,175.4 2952.0,176.6 2956.1,177.7 2960.2,178.9 2964.3,180.1 2968.4,181.3 2972.5,182.5 2976.6,183.6 2980.7,184.8 2984.8,185.9 2988.9,187.1 2993.0,188.2 2997.1,189.4 3001.2,190.5 3005.3,191.7 3009.4,192.8 3013.5,193.9 3017.6,195.1 3021.7,196.2 3025.8,197.3 3029.9,198.4 3034.0,199.5 3038.1,200.6 3042.2,201.7 3046.3,202.8 3050.4,203.9 3054.5,205.0 3058.6,206.1 3062.7,207.1 3066.9,208.2 3071.0,209.3 3075.1,210.3 3079.2,211.4 3083.3,212.4 3087.4,213.5 3091.5,214.5 3095.6,215.5 3099.7,216.6 3103.8,217.6 3107.9,218.6 3112.0,219.6 3116.1,220.6 3120.2,221.6 3124.3,222.6 3128.4,223.6 3132.5,224.6 3136.6,225.6 3140.7,226.6 3144.8,227.5 3148.9,228.5 3153.0,229.5 3157.1,230.4 3161.2,231.3 3165.3,232.3 3169.4,233.2 3173.5,234.1 3177.6,235.1 3181.7,236.0 3185.8,236.9 3189.9,237.8 3194.0,238.7 3198.1,239.6 3202.2,240.5 3206.3,241.4 3210.4,242.2 3214.6,243.1 3218.7,243.9 3222.8,244.8 3226.9,245.6 3231.0,246.5 3235.1,247.3 3239.2,248.1 3243.3,249.0 3247.4,249.8 3251.5,250.6 3255.6,251.4 3259.7,252.2 3263.8,253.0 3267.9,253.7 3272.0,254.5 3276.1,255.3 3280.2,256.0 3284.3,256.8 3288.4,257.5 3292.5,258.3 3296.6,259.0 3300.7,259.7 3304.8,260.4 3308.9,261.1 3313.0,261.8 3317.1,262.5 3321.2,263.2 3325.3,263.9 3329.4,264.5 3333.5,265.2 3337.6,265.8 3341.7,266.5 3345.8,267.1 3349.9,267.8 3354.0,268.4 3358.2,269.0 3362.3,269.6 3366.4,270.2 3370.5,270.8 3374.6,271.4 3378.7,271.9 3382.8,272.5 3386.9,273.1 3391.0,273.6 3395.1,274.1 3399.2,274.7 3403.3,275.2 3407.4,275.7 3411.5,276.2 3415.6,276.7 3419.7,277.2 3423.8,277.7 3427.9,278.2 3432.0,278.6 3436.1,279.1 3440.2,279.5 3444.3,279.9 3448.4,280.4 3452.5,280.8 3456.6,281.2 3460.7,281.6 3464.8,282.0 3468.9,282.4 3473.0,282.7 3477.1,283.1 3481.2,283.5 3485.3,283.8 3489.4,284.1 3493.5,284.5 3497.6,284.8 3501.7,285.1 3505.9,285.4 3510.0,285.7 3514.1,286.0 3518.2,286.2 3522.3,286.5 3526.4,286.7 3530.5,287.0 3534.6,287.2 3538.7,287.4 3542.8,287.6 3546.9,287.8 3551.0,288.0 3555.1,288.2 3559.2,288.4 3563.3,288.5 3567.4,288.7 3571.5,288.8 3575.6,288.9 3579.7,289.1 3583.8,289.2 3587.9,289.3 3592.0,289.3 3596.1,289.4 3600.2,289.5 3604.3,289.5 3608.4,289.6 3612.5,289.6 3616.6,289.6 3620.7,289.7 3624.8,289.7 3628.9,289.6 3633.0,289.6 3637.1,289.6 3641.2,289.6 3645.3,289.5 3649.5,289.4 3653.6,289.4 3657.7,289.3 3661.8,289.2 3665.9,289.1 3670.0,288.9 3674.1,288.8 3678.2,288.7 3682.3,288.5" fill="none" stroke="#000000" stroke-width="7.5" stroke-linecap="butt" stroke-linejoin="round" stroke-dasharray="16.8 15.8" stroke-dashoffset="0"/>
<path d="M2701.7,99.0 2705.8,100.3 2709.9,101.5 2714.0,102.8 2718.1,104.1 2722.2,105.4 2726.3,106.7 2730.4,107.9 2734.5,109.2 2738.6,110.5 2742.7,111.8 2746.8,113.0 2750.9,114.3 2755.0,115.6 2759.1,116.8 2763.2,118.1 2767.3,119.4 2771.4,120.6 2775.6,121.9 2779.7,123.2 2783.8,124.4 2787.9,125.7 2792.0,126.9 2796.1,128.2 2800.2,129.4 2804.3,130.7 2808.4,131.9 2812.5,133.2 2816.6,134.4 2820.7,135.7 2824.8,136.9 2828.9,138.2 2833.0,139.4 2837.1,140.6 2841.2,141.9 2845.3,143.1 2849.4,144.3 2853.5,145.5 2857.6,146.8 2861.7,148.0 2865.8,149.2 2869.9,150.4 2874.0,151.6 2878.1,152.9 2882.2,154.1 2886.3,155.3 2890.4,156.5 2894.5,157.7 2898.6,158.9 2902.7,160.1 2906.8,161.2 2910.9,162.4 2915.0,163.6 2919.1,164.8 2923.3,166.0 2927.4,167.1 2931.5,168.3 2935.6,169.5 2939.7,170.6 2943.8,171.8 2947.9,173.0 2952.0,174.1 2956.1,175.3 2960.2,176.4 2964.3,177.6 2968.4,178.7 2972.5,179.8 2976.6,181.0 2980.7,182.1 2984.8,183.2 2988.9,184.3 2993.0,185.4 2997.1,186.5 3001.2,187.6 3005.3,188.7 3009.4,189.8 3013.5,190.9 3017.6,192.0 3021.7,193.1 3025.8,194.2 3029.9,195.3 3034.0,196.3 3038.1,197.4 3042.2,198.5 3046.3,199.5 3050.4,200.6 3054.5,201.6 3058.6,202.6 3062.7,203.7 3066.9,204.7 3071.0,205.7 3075.1,206.8 3079.2,207.8 3083.3,208.8 3087.4,209.8 3091.5,210.8 3095.6,211.8 3099.7,212.8 3103.8,213.7 3107.9,214.7 3112.0,215.7 3116.1,216.7 3120.2,217.6 3124.3,218.6 3128.4,219.5 3132.5,220.5 3136.6,221.4 3140.7,222.3 3144.8,223.3 3148.9,224.2 3153.0,225.1 3157.1,226.0 3161.2,226.9 3165.3,227.8 3169.4,228.7 3173.5,229.6 3177.6,230.4 3181.7,231.3 3185.8,232.2 3189.9,233.0 3194.0,233.9 3198.1,234.7 3202.2,235.5 3206.3,236.4 3210.4,237.2 3214.6,238.0 3218.7,238.8 3222.8,239.6 3226.9,240.4 3231.0,241.2 3235.1,242.0 3239.2,242.7 3243.3,243.5 3247.4,244.3 3251.5,245.0 3255.6,245.8 3259.7,246.5 3263.8,247.2 3267.9,247.9 3272.0,248.7 3276.1,249.4 3280.2,250.1 3284.3,250.8 3288.4,251.4 3292.5,252.1 3296.6,252.8 3300.7,253.4 3304.8,254.1 3308.9,254.7 3313.0,255.4 3317.1,256.0 3321.2,256.6 3325.3,257.2 3329.4,257.8 3333.5,258.4 3337.6,259.0 3341.7,259.6 3345.8,260.1 3349.9,260.7 3354.0,261.2 3358.2,261.8 3362.3,262.3 3366.4,262.8 3370.5,263.4 3374.6,263.9 3378.7,264.4 3382.8,264.8 3386.9,265.3 3391.0,265.8 3395.1,266.3 3399.2,266.7 3403.3,267.1 3407.4,267.6 3411.5,268.0 3415.6,268.4 3419.7,268.8 3423.8,269.2 3427.9,269.6 3432.0,270.0 3436.1,270.3 3440.2,270.7 3444.3,271.1 3448.4,271.4 3452.5,271.7 3456.6,272.0 3460.7,272.3 3464.8,272.6 3468.9,272.9 3473.0,273.2 3477.1,273.5 3481.2,273.7 3485.3,274.0 3489.4,274.2 3493.5,274.4 3497.6,274.7 3501.7,274.9 3505.9,275.1 3510.0,275.2 3514.1,275.4 3518.2,275.6 3522.3,275.7 3526.4,275.9 3530.5,276.0 3534.6,276.1 3538.7,276.2 3542.8,276.3 3546.9,276.4 3551.0,276.5 3555.1,276.6 3559.2,276.6 3563.3,276.7 3567.4,276.7 3571.5,276.7 3575.6,276.7 3579.7,276.7 3583.8,276.7 3587.9,276.7 3592.0,276.6 3596.1,276.6 3600.2,276.5 3604.3,276.5 3608.4,276.4 3612.5,276.3 3616.6,276.2 3620.7,276.1 3624.8,275.9 3628.9,275.8 3633.0,275.6 3637.1,275.5 3641.2,275.3 3645.3,275.1 3649.5,274.9 3653.6,274.7 3657.7,274.4 3661.8,274.2 3665.9,273.9 3670.0,273.7 3674.1,273.4 3678.2,273.1 3682.3,272.8" fill="none" stroke="#00ffff" stroke-width="7.5" stroke-linecap="butt" stroke-linejoin="round" stroke-dasharray="16.8 15.8" stroke-dashoffset="0"/>
<path d="M2701.7,98.7 2705.8,100.0 2709.9,101.3 2714.0,102.6 2718.1,103.9 2722.2,105.2 2726.3,106.4 2730.4,107.7 2734.5,109.0 2738.6,110.3 2742.7,111.6 2746.8,112.8 2750.9,114.1 2755.0,115.4 2759.1,116.6 2763.2,117.9 2767.3,119.1 2771.4,120.4 2775.6,121.7 2779.7,122.9 2783.8,124.1 2787.9,125.4 2792.0,126.6 2796.1,127.9 2800.2,129.1 2804.3,130.3 2808.4,131.6 2812.5,132.8 2816.6,134.0 2820.7,135.2 2824.8,136.4 2828.9,137.6 2833.0,138.8 2837.1,140.0 2841.2,141.2 2845.3,142.4 2849.4,143.6 2853.5,144.8 2857.6,146.0 2861.7,147.2 2865.8,148.4 2869.9,149.5 2874.0,150.7 2878.1,151.9 2882.2,153.0 2886.3,154.2 2890.4,155.3 2894.5,156.5 2898.6,157.6 2902.7,158.8 2906.8,159.9 2910.9,161.0 2915.0,162.2 2919.1,163.3 2923.3,164.4 2927.4,165.5 2931.5,166.6 2935.6,167.7 2939.7,168.8 2943.8,169.9 2947.9,171.0 2952.0,172.1 2956.1,173.2 2960.2,174.3 2964.3,175.4 2968.4,176.4 2972.5,177.5 2976.6,178.6 2980.7,179.6 2984.8,180.7 2988.9,181.7 2993.0,182.8 2997.1,183.8 3001.2,184.8 3005.3,185.8 3009.4,186.9 3013.5,187.9 3017.6,188.9 3021.7,189.9 3025.8,190.9 3029.9,191.9 3034.0,192.9 3038.1,193.9 3042.2,194.8 3046.3,195.8 3050.4,196.8 3054.5,197.7 3058.6,198.7 3062.7,199.6 3066.9,200.6 3071.0,201.5 3075.1,202.5 3079.2,203.4 3083.3,204.3 3087.4,205.2 3091.5,206.1 3095.6,207.0 3099.7,207.9 3103.8,208.8 3107.9,209.7 3112.0,210.6 3116.1,211.5 3120.2,212.3 3124.3,213.2 3128.4,214.1 3132.5,214.9 3136.6,215.7 3140.7,216.6 3144.8,217.4 3148.9,218.2 3153.0,219.1 3157.1,219.9 3161.2,220.7 3165.3,221.5 3169.4,222.3 3173.5,223.0 3177.6,223.8 3181.7,224.6 3185.8,225.4 3189.9,226.1 3194.0,226.9 3198.1,227.6 3202.2,228.3 3206.3,229.1 3210.4,229.8 3214.6,230.5 3218.7,231.2 3222.8,231.9 3226.9,232.6 3231.0,233.3 3235.1,234.0 3239.2,234.7 3243.3,235.3 3247.4,236.0 3251.5,236.6 3255.6,237.3 3259.7,237.9 3263.8,238.5 3267.9,239.2 3272.0,239.8 3276.1,240.4 3280.2,241.0 3284.3,241.6 3288.4,242.2 3292.5,242.7 3296.6,243.3 3300.7,243.9 3304.8,244.4 3308.9,245.0 3313.0,245.5 3317.1,246.0 3321.2,246.5 3325.3,247.0 3329.4,247.5 3333.5,248.0 3337.6,248.5 3341.7,249.0 3345.8,249.5 3349.9,249.9 3354.0,250.4 3358.2,250.8 3362.3,251.3 3366.4,251.7 3370.5,252.1 3374.6,252.5 3378.7,253.0 3382.8,253.3 3386.9,253.7 3391.0,254.1 3395.1,254.5 3399.2,254.8 3403.3,255.2 3407.4,255.5 3411.5,255.9 3415.6,256.2 3419.7,256.5 3423.8,256.8 3427.9,257.1 3432.0,257.4 3436.1,257.7 3440.2,258.0 3444.3,258.2 3448.4,258.5 3452.5,258.7 3456.6,259.0 3460.7,259.2 3464.8,259.4 3468.9,259.6 3473.0,259.8 3477.1,260.0 3481.2,260.2 3485.3,260.3 3489.4,260.5 3493.5,260.6 3497.6,260.8 3501.7,260.9 3505.9,261.0 3510.0,261.1 3514.1,261.2 3518.2,261.3 3522.3,261.4 3526.4,261.5 3530.5,261.5 3534.6,261.6 3538.7,261.6 3542.8,261.7 3546.9,261.7 3551.0,261.7 3555.1,261.7 3559.2,261.7 3563.3,261.7 3567.4,261.6 3571.5,261.6 3575.6,261.5 3579.7,261.5 3583.8,261.4 3587.9,261.3 3592.0,261.2 3596.1,261.1 3600.2,261.0 3604.3,260.9 3608.4,260.8 3612.5,260.6 3616.6,260.5 3620.7,260.3 3624.8,260.1 3628.9,259.9 3633.0,259.7 3637.1,259.5 3641.2,259.3 3645.3,259.1 3649.5,258.8 3653.6,258.6 3657.7,258.3 3661.8,258.0 3665.9,257.7 3670.0,257.4 3674.1,257.1 3678.2,256.8 3682.3,256.5" fill="none" stroke="#800080" stroke-width="7.5" stroke-linecap="butt" stroke-linejoin="round" stroke-dasharray="16.8 15.8" stroke-dashoffset="0"/>
<path d="M2701.7,98.6 2705.8,99.9 2709.9,101.2 2714.0,102.5 2718.1,103.8 2722.2,105.1 2726.3,106.3 2730.4,107.6 2734.5,108.9 2738.6,110.1 2742.7,111.4 2746.8,112.6 2750.9,113.9 2755.0,115.1 2759.1,116.4 2763.2,117.6 2767.3,118.9 2771.4,120.1 2775.6,121.3 2779.7,122.5 2783.8,123.7 2787.9,125.0 2792.0,126.2 2796.1,127.4 2800.2,128.6 2804.3,129.8 2808.4,131.0 2812.5,132.1 2816.6,133.3 2820.7,134.5 2824.8,135.7 2828.9,136.8 2833.0,138.0 2837.1,139.2 2841.2,140.3 2845.3,141.5 2849.4,142.6 2853.5,143.8 2857.6,144.9 2861.7,146.0 2865.8,147.2 2869.9,148.3 2874.0,149.4 2878.1,150.5 2882.2,151.6 2886.3,152.7 2890.4,153.8 2894.5,154.9 2898.6,156.0 2902.7,157.1 2906.8,158.2 2910.9,159.2 2915.0,160.3 2919.1,161.4 2923.3,162.4 2927.4,163.5 2931.5,164.5 2935.6,165.6 2939.7,166.6 2943.8,167.6 2947.9,168.7 2952.0,169.7 2956.1,170.7 2960.2,171.7 2964.3,172.7 2968.4,173.7 2972.5,174.7 2976.6,175.7 2980.7,176.7 2984.8,177.7 2988.9,178.6 2993.0,179.6 2997.1,180.5 3001.2,181.5 3005.3,182.5 3009.4,183.4 3013.5,184.3 3017.6,185.3 3021.7,186.2 3025.8,187.1 3029.9,188.0 3034.0,188.9 3038.1,189.8 3042.2,190.7 3046.3,191.6 3050.4,192.5 3054.5,193.4 3058.6,194.2 3062.7,195.1 3066.9,196.0 3071.0,196.8 3075.1,197.7 3079.2,198.5 3083.3,199.3 3087.4,200.1 3091.5,201.0 3095.6,201.8 3099.7,202.6 3103.8,203.4 3107.9,204.2 3112.0,205.0 3116.1,205.8 3120.2,206.5 3124.3,207.3 3128.4,208.1 3132.5,208.8 3136.6,209.6 3140.7,210.3 3144.8,211.0 3148.9,211.8 3153.0,212.5 3157.1,213.2 3161.2,213.9 3165.3,214.6 3169.4,215.3 3173.5,216.0 3177.6,216.7 3181.7,217.3 3185.8,218.0 3189.9,218.6 3194.0,219.3 3198.1,219.9 3202.2,220.6 3206.3,221.2 3210.4,221.8 3214.6,222.4 3218.7,223.0 3222.8,223.6 3226.9,224.2 3231.0,224.8 3235.1,225.4 3239.2,226.0 3243.3,226.5 3247.4,227.1 3251.5,227.6 3255.6,228.2 3259.7,228.7 3263.8,229.2 3267.9,229.8 3272.0,230.3 3276.1,230.8 3280.2,231.3 3284.3,231.7 3288.4,232.2 3292.5,232.7 3296.6,233.2 3300.7,233.6 3304.8,234.1 3308.9,234.5 3313.0,234.9 3317.1,235.3 3321.2,235.8 3325.3,236.2 3329.4,236.6 3333.5,237.0 3337.6,237.3 3341.7,237.7 3345.8,238.1 3349.9,238.4 3354.0,238.8 3358.2,239.1 3362.3,239.5 3366.4,239.8 3370.5,240.1 3374.6,240.4 3378.7,240.7 3382.8,241.0 3386.9,241.3 3391.0,241.5 3395.1,241.8 3399.2,242.1 3403.3,242.3 3407.4,242.5 3411.5,242.8 3415.6,243.0 3419.7,243.2 3423.8,243.4 3427.9,243.6 3432.0,243.8 3436.1,244.0 3440.2,244.1 3444.3,244.3 3448.4,244.4 3452.5,244.6 3456.6,244.7 3460.7,244.8 3464.8,245.0 3468.9,245.1 3473.0,245.2 3477.1,245.2 3481.2,245.3 3485.3,245.4 3489.4,245.4 3493.5,245.5 3497.6,245.5 3501.7,245.6 3505.9,245.6 3510.0,245.6 3514.1,245.6 3518.2,245.6 3522.3,245.6 3526.4,245.6 3530.5,245.5 3534.6,245.5 3538.7,245.4 3542.8,245.4 3546.9,245.3 3551.0,245.2 3555.1,245.1 3559.2,245.0 3563.3,244.9 3567.4,244.8 3571.5,244.6 3575.6,244.5 3579.7,244.3 3583.8,244.2 3587.9,244.0 3592.0,243.8 3596.1,243.6 3600.2,243.4 3604.3,243.2 3608.4,243.0 3612.5,242.8 3616.6,242.5 3620.7,242.3 3624.8,242.0 3628.9,241.7 3633.0,241.4 3637.1,241.1 3641.2,240.8 3645.3,240.5 3649.5,240.2 3653.6,239.9 3657.7,239.5 3661.8,239.2 3665.9,238.8 3670.0,238.4 3674.1,238.0 3678.2,237.6 3682.3,237.2" fill="none" stroke="#ff8000" stroke-width="7.5" stroke-linecap="butt" stroke-linejoin="round" stroke-dasharray="16.8 15.8" stroke-dashoffset="0"/>
<path d="M2701.7,98.4 2705.8,99.5 2709.9,100.7 2714.0,101.9 2718.1,103.0 2722.2,104.2 2726.3,105.3 2730.4,106.5 2734.5,107.6 2738.6,108.8 2742.7,109.9 2746.8,111.0 2750.9,112.2 2755.0,113.3 2759.1,114.4 2763.2,115.5 2767.3,116.6 2771.4,117.7 2775.6,118.8 2779.7,119.9 2783.8,120.9 2787.9,122.0 2792.0,123.1 2796.1,124.1 2800.2,125.2 2804.3,126.3 2808.4,127.3 2812.5,128.3 2816.6,129.4 2820.7,130.4 2824.8,131.4 2828.9,132.5 2833.0,133.5 2837.1,134.5 2841.2,135.5 2845.3,136.5 2849.4,137.5 2853.5,138.4 2857.6,139.4 2861.7,140.4 2865.8,141.4 2869.9,142.3 2874.0,143.3 2878.1,144.2 2882.2,145.2 2886.3,146.1 2890.4,147.1 2894.5,148.0 2898.6,148.9 2902.7,149.8 2906.8,150.7 2910.9,151.6 2915.0,152.5 2919.1,153.4 2923.3,154.3 2927.4,155.2 2931.5,156.0 2935.6,156.9 2939.7,157.8 2943.8,158.6 2947.9,159.5 2952.0,160.3 2956.1,161.1 2960.2,162.0 2964.3,162.8 2968.4,163.6 2972.5,164.4 2976.6,165.2 2980.7,166.0 2984.8,166.8 2988.9,167.6 2993.0,168.4 2997.1,169.1 3001.2,169.9 3005.3,170.7 3009.4,171.4 3013.5,172.1 3017.6,172.9 3021.7,173.6 3025.8,174.3 3029.9,175.0 3034.0,175.8 3038.1,176.5 3042.2,177.2 3046.3,177.8 3050.4,178.5 3054.5,179.2 3058.6,179.9 3062.7,180.5 3066.9,181.2 3071.0,181.8 3075.1,182.5 3079.2,183.1 3083.3,183.7 3087.4,184.4 3091.5,185.0 3095.6,185.6 3099.7,186.2 3103.8,186.8 3107.9,187.3 3112.0,187.9 3116.1,188.5 3120.2,189.0 3124.3,189.6 3128.4,190.1 3132.5,190.7 3136.6,191.2 3140.7,191.7 3144.8,192.3 3148.9,192.8 3153.0,193.3 3157.1,193.8 3161.2,194.3 3165.3,194.7 3169.4,195.2 3173.5,195.7 3177.6,196.1 3181.7,196.6 3185.8,197.0 3189.9,197.5 3194.0,197.9 3198.1,198.3 3202.2,198.7 3206.3,199.1 3210.4,199.5 3214.6,199.9 3218.7,200.3 3222.8,200.7 3226.9,201.0 3231.0,201.4 3235.1,201.7 3239.2,202.1 3243.3,202.4 3247.4,202.7 3251.5,203.0 3255.6,203.4 3259.7,203.7 3263.8,203.9 3267.9,204.2 3272.0,204.5 3276.1,204.8 3280.2,205.0 3284.3,205.3 3288.4,205.5 3292.5,205.8 3296.6,206.0 3300.7,206.2 3304.8,206.4 3308.9,206.6 3313.0,206.8 3317.1,207.0 3321.2,207.2 3325.3,207.4 3329.4,207.5 3333.5,207.7 3337.6,207.8 3341.7,207.9 3345.8,208.1 3349.9,208.2 3354.0,208.3 3358.2,208.4 3362.3,208.5 3366.4,208.6 3370.5,208.6 3374.6,208.7 3378.7,208.8 3382.8,208.8 3386.9,208.8 3391.0,208.9 3395.1,208.9 3399.2,208.9 3403.3,208.9 3407.4,208.9 3411.5,208.9 3415.6,208.9 3419.7,208.8 3423.8,208.8 3427.9,208.8 3432.0,208.7 3436.1,208.6 3440.2,208.5 3444.3,208.5 3448.4,208.4 3452.5,208.3 3456.6,208.1 3460.7,208.0 3464.8,207.9 3468.9,207.8 3473.0,207.6 3477.1,207.4 3481.2,207.3 3485.3,207.1 3489.4,206.9 3493.5,206.7 3497.6,206.5 3501.7,206.3 3505.9,206.1 3510.0,205.8 3514.1,205.6 3518.2,205.3 3522.3,205.1 3526.4,204.8 3530.5,204.5 3534.6,204.2 3538.7,203.9 3542.8,203.6 3546.9,203.3 3551.0,202.9 3555.1,202.6 3559.2,202.2 3563.3,201.9 3567.4,201.5 3571.5,201.1 3575.6,200.7 3579.7,200.3 3583.8,199.9 3587.9,199.5 3592.0,199.1 3596.1,198.6 3600.2,198.2 3604.3,197.7 3608.4,197.3 3612.5,196.8 3616.6,196.3 3620.7,195.8 3624.8,195.3 3628.9,194.8 3633.0,194.2 3637.1,193.7 3641.2,193.1 3645.3,192.6 3649.5,192.0 3653.6,191.4 3657.7,190.8 3661.8,190.2 3665.9,189.6 3670.0,189.0 3674.1,188.4 3678.2,187.7 3682.3,187.1" fill="none" stroke="#0000ff" stroke-width="7.5" stroke-linecap="butt" stroke-linejoin="round" stroke-dasharray="16.8 15.8" stroke-dashoffset="0"/>
<path d="M2701.7,98.4 2705.8,99.6 2709.9,100.9 2714.0,102.1 2718.1,103.3 2722.2,104.6 2726.3,105.8 2730.4,107.0 2734.5,108.2 2738.6,109.5 2742.7,110.7 2746.8,111.9 2750.9,113.1 2755.0,114.3 2759.1,115.5 2763.2,116.6 2767.3,117.8 2771.4,119.0 2775.6,120.2 2779.7,121.4 2783.8,122.5 2787.9,123.7 2792.0,124.8 2796.1,126.0 2800.2,127.2 2804.3,128.3 2808.4,129.4 2812.5,130.6 2816.6,131.7 2820.7,132.8 2824.8,133.9 2828.9,135.1 2833.0,136.2 2837.1,137.3 2841.2,138.4 2845.3,139.5 2849.4,140.6 2853.5,141.7 2857.6,142.7 2861.7,143.8 2865.8,144.9 2869.9,146.0 2874.0,147.0 2878.1,148.1 2882.2,149.1 2886.3,150.2 2890.4,151.2 2894.5,152.2 2898.6,153.3 2902.7,154.3 2906.8,155.3 2910.9,156.3 2915.0,157.3 2919.1,158.3 2923.3,159.3 2927.4,160.3 2931.5,161.3 2935.6,162.3 2939.7,163.3 2943.8,164.2 2947.9,165.2 2952.0,166.2 2956.1,167.1 2960.2,168.0 2964.3,169.0 2968.4,169.9 2972.5,170.9 2976.6,171.8 2980.7,172.7 2984.8,173.6 2988.9,174.5 2993.0,175.4 2997.1,176.3 3001.2,177.2 3005.3,178.1 3009.4,178.9 3013.5,179.8 3017.6,180.7 3021.7,181.5 3025.8,182.4 3029.9,183.2 3034.0,184.0 3038.1,184.9 3042.2,185.7 3046.3,186.5 3050.4,187.3 3054.5,188.1 3058.6,188.9 3062.7,189.7 3066.9,190.5 3071.0,191.3 3075.1,192.1 3079.2,192.8 3083.3,193.6 3087.4,194.3 3091.5,195.1 3095.6,195.8 3099.7,196.5 3103.8,197.3 3107.9,198.0 3112.0,198.7 3116.1,199.4 3120.2,200.1 3124.3,200.8 3128.4,201.5 3132.5,202.1 3136.6,202.8 3140.7,203.5 3144.8,204.1 3148.9,204.8 3153.0,205.4 3157.1,206.0 3161.2,206.7 3165.3,207.3 3169.4,207.9 3173.5,208.5 3177.6,209.1 3181.7,209.7 3185.8,210.3 3189.9,210.8 3194.0,211.4 3198.1,212.0 3202.2,212.5 3206.3,213.1 3210.4,213.6 3214.6,214.1 3218.7,214.6 3222.8,215.2 3226.9,215.7 3231.0,216.2 3235.1,216.6 3239.2,217.1 3243.3,217.6 3247.4,218.1 3251.5,218.5 3255.6,219.0 3259.7,219.4 3263.8,219.8 3267.9,220.3 3272.0,220.7 3276.1,221.1 3280.2,221.5 3284.3,221.9 3288.4,222.3 3292.5,222.7 3296.6,223.0 3300.7,223.4 3304.8,223.7 3308.9,224.1 3313.0,224.4 3317.1,224.7 3321.2,225.1 3325.3,225.4 3329.4,225.7 3333.5,226.0 3337.6,226.2 3341.7,226.5 3345.8,226.8 3349.9,227.0 3354.0,227.3 3358.2,227.5 3362.3,227.8 3366.4,228.0 3370.5,228.2 3374.6,228.4 3378.7,228.6 3382.8,228.8 3386.9,229.0 3391.0,229.1 3395.1,229.3 3399.2,229.4 3403.3,229.6 3407.4,229.7 3411.5,229.8 3415.6,229.9 3419.7,230.1 3423.8,230.1 3427.9,230.2 3432.0,230.3 3436.1,230.4 3440.2,230.4 3444.3,230.5 3448.4,230.5 3452.5,230.6 3456.6,230.6 3460.7,230.6 3464.8,230.6 3468.9,230.6 3473.0,230.6 3477.1,230.5 3481.2,230.5 3485.3,230.5 3489.4,230.4 3493.5,230.3 3497.6,230.3 3501.7,230.2 3505.9,230.1 3510.0,230.0 3514.1,229.9 3518.2,229.7 3522.3,229.6 3526.4,229.5 3530.5,229.3 3534.6,229.1 3538.7,229.0 3542.8,228.8 3546.9,228.6 3551.0,228.4 3555.1,228.2 3559.2,227.9 3563.3,227.7 3567.4,227.5 3571.5,227.2 3575.6,226.9 3579.7,226.7 3583.8,226.4 3587.9,226.1 3592.0,225.8 3596.1,225.4 3600.2,225.1 3604.3,224.8 3608.4,224.4 3612.5,224.1 3616.6,223.7 3620.7,223.3 3624.8,222.9 3628.9,222.5 3633.0,222.1 3637.1,221.7 3641.2,221.2 3645.3,220.8 3649.5,220.3 3653.6,219.9 3657.7,219.4 3661.8,218.9 3665.9,218.4 3670.0,217.9 3674.1,217.3 3678.2,216.8 3682.3,216.3" fill="none" stroke="#000000" stroke-width="7.5" stroke-linecap="butt" stroke-linejoin="round" stroke-dasharray="4 15.6 16.8 16.4" stroke-dashoffset="0"/>
<path d="M2701.7,98.4 2705.8,99.6 2709.9,100.7 2714.0,101.9 2718.1,103.1 2722.2,104.2 2726.3,105.4 2730.4,106.5 2734.5,107.6 2738.6,108.8 2742.7,109.9 2746.8,111.0 2750.9,112.1 2755.0,113.3 2759.1,114.4 2763.2,115.5 2767.3,116.6 2771.4,117.7 2775.6,118.8 2779.7,119.8 2783.8,120.9 2787.9,122.0 2792.0,123.1 2796.1,124.1 2800.2,125.2 2804.3,126.3 2808.4,127.3 2812.5,128.4 2816.6,129.4 2820.7,130.4 2824.8,131.5 2828.9,132.5 2833.0,133.5 2837.1,134.5 2841.2,135.5 2845.3,136.5 2849.4,137.5 2853.5,138.5 2857.6,139.5 2861.7,140.5 2865.8,141.5 2869.9,142.5 2874.0,143.4 2878.1,144.4 2882.2,145.4 2886.3,146.3 2890.4,147.2 2894.5,148.2 2898.6,149.1 2902.7,150.1 2906.8,151.0 2910.9,151.9 2915.0,152.8 2919.1,153.7 2923.3,154.6 2927.4,155.5 2931.5,156.4 2935.6,157.3 2939.7,158.1 2943.8,159.0 2947.9,159.9 2952.0,160.7 2956.1,161.6 2960.2,162.4 2964.3,163.3 2968.4,164.1 2972.5,164.9 2976.6,165.7 2980.7,166.6 2984.8,167.4 2988.9,168.2 2993.0,169.0 2997.1,169.8 3001.2,170.5 3005.3,171.3 3009.4,172.1 3013.5,172.8 3017.6,173.6 3021.7,174.4 3025.8,175.1 3029.9,175.8 3034.0,176.6 3038.1,177.3 3042.2,178.0 3046.3,178.7 3050.4,179.4 3054.5,180.1 3058.6,180.8 3062.7,181.5 3066.9,182.2 3071.0,182.8 3075.1,183.5 3079.2,184.1 3083.3,184.8 3087.4,185.4 3091.5,186.1 3095.6,186.7 3099.7,187.3 3103.8,187.9 3107.9,188.5 3112.0,189.1 3116.1,189.7 3120.2,190.3 3124.3,190.9 3128.4,191.5 3132.5,192.0 3136.6,192.6 3140.7,193.1 3144.8,193.7 3148.9,194.2 3153.0,194.7 3157.1,195.2 3161.2,195.7 3165.3,196.2 3169.4,196.7 3173.5,197.2 3177.6,197.7 3181.7,198.2 3185.8,198.6 3189.9,199.1 3194.0,199.5 3198.1,200.0 3202.2,200.4 3206.3,200.8 3210.4,201.3 3214.6,201.7 3218.7,202.1 3222.8,202.5 3226.9,202.8 3231.0,203.2 3235.1,203.6 3239.2,204.0 3243.3,204.3 3247.4,204.6 3251.5,205.0 3255.6,205.3 3259.7,205.6 3263.8,205.9 3267.9,206.2 3272.0,206.5 3276.1,206.8 3280.2,207.1 3284.3,207.4 3288.4,207.6 3292.5,207.9 3296.6,208.1 3300.7,208.4 3304.8,208.6 3308.9,208.8 3313.0,209.0 3317.1,209.2 3321.2,209.4 3325.3,209.6 3329.4,209.8 3333.5,209.9 3337.6,210.1 3341.7,210.2 3345.8,210.4 3349.9,210.5 3354.0,210.6 3358.2,210.7 3362.3,210.9 3366.4,210.9 3370.5,211.0 3374.6,211.1 3378.7,211.2 3382.8,211.2 3386.9,211.3 3391.0,211.3 3395.1,211.4 3399.2,211.4 3403.3,211.4 3407.4,211.4 3411.5,211.4 3415.6,211.4 3419.7,211.3 3423.8,211.3 3427.9,211.3 3432.0,211.2 3436.1,211.1 3440.2,211.1 3444.3,211.0 3448.4,210.9 3452.5,210.8 3456.6,210.7 3460.7,210.6 3464.8,210.4 3468.9,210.3 3473.0,210.1 3477.1,210.0 3481.2,209.8 3485.3,209.6 3489.4,209.4 3493.5,209.2 3497.6,209.0 3501.7,208.8 3505.9,208.6 3510.0,208.3 3514.1,208.1 3518.2,207.8 3522.3,207.6 3526.4,207.3 3530.5,207.0 3534.6,206.7 3538.7,206.4 3542.8,206.1 3546.9,205.7 3551.0,205.4 3555.1,205.0 3559.2,204.7 3563.3,204.3 3567.4,203.9 3571.5,203.5 3575.6,203.1 3579.7,202.7 3583.8,202.3 3587.9,201.8 3592.0,201.4 3596.1,200.9 3600.2,200.5 3604.3,200.0 3608.4,199.5 3612.5,199.0 3616.6,198.5 3620.7,198.0 3624.8,197.4 3628.9,196.9 3633.0,196.3 3637.1,195.8 3641.2,195.2 3645.3,194.6 3649.5,194.0 3653.6,193.4 3657.7,192.8 3661.8,192.1 3665.9,191.5 3670.0,190.8 3674.1,190.2 3678.2,189.5 3682.3,188.8" fill="none" stroke="#00ffff" stroke-width="7.5" stroke-linecap="butt" stroke-linejoin="round" stroke-dasharray="4 15.6 16.8 16.4" stroke-dashoffset="0"/>
<path d="M2701.7,98.0 2705.8,99.2 2709.9,100.3 2714.0,101.4 2718.1,102.5 2722.2,103.7 2726.3,104.8 2730.4,105.9 2734.5,106.9 2738.6,108.0 2742.7,109.1 2746.8,110.2 2750.9,111.3 2755.0,112.3 2759.1,113.4 2763.2,114.4 2767.3,115.5 2771.4,116.5 2775.6,117.5 2779.7,118.5 2783.8,119.6 2787.9,120.6 2792.0,121.6 2796.1,122.6 2800.2,123.6 2804.3,124.5 2808.4,125.5 2812.5,126.5 2816.6,127.5 2820.7,128.4 2824.8,129.4 2828.9,130.3 2833.0,131.3 2837.1,132.2 2841.2,133.1 2845.3,134.0 2849.4,135.0 2853.5,135.9 2857.6,136.8 2861.7,137.7 2865.8,138.5 2869.9,139.4 2874.0,140.3 2878.1,141.2 2882.2,142.0 2886.3,142.9 2890.4,143.7 2894.5,144.6 2898.6,145.4 2902.7,146.2 2906.8,147.0 2910.9,147.8 2915.0,148.6 2919.1,149.4 2923.3,150.2 2927.4,151.0 2931.5,151.8 2935.6,152.6 2939.7,153.3 2943.8,154.1 2947.9,154.8 2952.0,155.6 2956.1,156.3 2960.2,157.0 2964.3,157.8 2968.4,158.5 2972.5,159.2 2976.6,159.9 2980.7,160.6 2984.8,161.3 2988.9,161.9 2993.0,162.6 2997.1,163.3 3001.2,163.9 3005.3,164.6 3009.4,165.2 3013.5,165.8 3017.6,166.5 3021.7,167.1 3025.8,167.7 3029.9,168.3 3034.0,168.9 3038.1,169.5 3042.2,170.1 3046.3,170.7 3050.4,171.2 3054.5,171.8 3058.6,172.3 3062.7,172.9 3066.9,173.4 3071.0,173.9 3075.1,174.5 3079.2,175.0 3083.3,175.5 3087.4,176.0 3091.5,176.5 3095.6,177.0 3099.7,177.4 3103.8,177.9 3107.9,178.4 3112.0,178.8 3116.1,179.3 3120.2,179.7 3124.3,180.1 3128.4,180.6 3132.5,181.0 3136.6,181.4 3140.7,181.8 3144.8,182.2 3148.9,182.6 3153.0,182.9 3157.1,183.3 3161.2,183.7 3165.3,184.0 3169.4,184.4 3173.5,184.7 3177.6,185.0 3181.7,185.4 3185.8,185.7 3189.9,186.0 3194.0,186.3 3198.1,186.6 3202.2,186.8 3206.3,187.1 3210.4,187.4 3214.6,187.6 3218.7,187.9 3222.8,188.1 3226.9,188.3 3231.0,188.6 3235.1,188.8 3239.2,189.0 3243.3,189.2 3247.4,189.4 3251.5,189.6 3255.6,189.7 3259.7,189.9 3263.8,190.1 3267.9,190.2 3272.0,190.3 3276.1,190.5 3280.2,190.6 3284.3,190.7 3288.4,190.8 3292.5,190.9 3296.6,191.0 3300.7,191.1 3304.8,191.2 3308.9,191.2 3313.0,191.3 3317.1,191.3 3321.2,191.4 3325.3,191.4 3329.4,191.4 3333.5,191.4 3337.6,191.4 3341.7,191.4 3345.8,191.4 3349.9,191.4 3354.0,191.4 3358.2,191.3 3362.3,191.3 3366.4,191.2 3370.5,191.2 3374.6,191.1 3378.7,191.0 3382.8,190.9 3386.9,190.8 3391.0,190.7 3395.1,190.6 3399.2,190.5 3403.3,190.3 3407.4,190.2 3411.5,190.0 3415.6,189.9 3419.7,189.7 3423.8,189.5 3427.9,189.3 3432.0,189.1 3436.1,188.9 3440.2,188.7 3444.3,188.5 3448.4,188.2 3452.5,188.0 3456.6,187.7 3460.7,187.5 3464.8,187.2 3468.9,186.9 3473.0,186.6 3477.1,186.3 3481.2,186.0 3485.3,185.7 3489.4,185.4 3493.5,185.0 3497.6,184.7 3501.7,184.3 3505.9,184.0 3510.0,183.6 3514.1,183.2 3518.2,182.8 3522.3,182.4 3526.4,182.0 3530.5,181.6 3534.6,181.2 3538.7,180.7 3542.8,180.3 3546.9,179.8 3551.0,179.4 3555.1,178.9 3559.2,178.4 3563.3,177.9 3567.4,177.4 3571.5,176.9 3575.6,176.3 3579.7,175.8 3583.8,175.3 3587.9,174.7 3592.0,174.1 3596.1,173.6 3600.2,173.0 3604.3,172.4 3608.4,171.8 3612.5,171.2 3616.6,170.6 3620.7,169.9 3624.8,169.3 3628.9,168.6 3633.0,168.0 3637.1,167.3 3641.2,166.6 3645.3,165.9 3649.5,165.2 3653.6,164.5 3657.7,163.8 3661.8,163.1 3665.9,162.3 3670.0,161.6 3674.1,160.8 3678.2,160.0 3682.3,159.3" fill="none" stroke="#800080" stroke-width="7.5" stroke-linecap="butt" stroke-linejoin="round" stroke-dasharray="4 15.6 16.8 16.4" stroke-dashoffset="0"/>
<path d="M2701.7,97.8 2705.8,98.8 2709.9,99.9 2714.0,100.9 2718.1,102.0 2722.2,103.0 2726.3,104.0 2730.4,105.0 2734.5,106.0 2738.6,107.0 2742.7,108.0 2746.8,109.0 2750.9,110.0 2755.0,110.9 2759.1,111.9 2763.2,112.8 2767.3,113.8 2771.4,114.7 2775.6,115.7 2779.7,116.6 2783.8,117.5 2787.9,118.4 2792.0,119.3 2796.1,120.2 2800.2,121.1 2804.3,122.0 2808.4,122.8 2812.5,123.7 2816.6,124.5 2820.7,125.4 2824.8,126.2 2828.9,127.1 2833.0,127.9 2837.1,128.7 2841.2,129.5 2845.3,130.3 2849.4,131.1 2853.5,131.9 2857.6,132.7 2861.7,133.4 2865.8,134.2 2869.9,135.0 2874.0,135.7 2878.1,136.5 2882.2,137.2 2886.3,137.9 2890.4,138.6 2894.5,139.3 2898.6,140.0 2902.7,140.7 2906.8,141.4 2910.9,142.1 2915.0,142.8 2919.1,143.4 2923.3,144.1 2927.4,144.7 2931.5,145.4 2935.6,146.0 2939.7,146.6 2943.8,147.3 2947.9,147.9 2952.0,148.5 2956.1,149.1 2960.2,149.7 2964.3,150.2 2968.4,150.8 2972.5,151.4 2976.6,151.9 2980.7,152.5 2984.8,153.0 2988.9,153.6 2993.0,154.1 2997.1,154.6 3001.2,155.1 3005.3,155.6 3009.4,156.1 3013.5,156.6 3017.6,157.1 3021.7,157.5 3025.8,158.0 3029.9,158.5 3034.0,158.9 3038.1,159.3 3042.2,159.8 3046.3,160.2 3050.4,160.6 3054.5,161.0 3058.6,161.4 3062.7,161.8 3066.9,162.2 3071.0,162.6 3075.1,162.9 3079.2,163.3 3083.3,163.6 3087.4,164.0 3091.5,164.3 3095.6,164.7 3099.7,165.0 3103.8,165.3 3107.9,165.6 3112.0,165.9 3116.1,166.2 3120.2,166.5 3124.3,166.7 3128.4,167.0 3132.5,167.3 3136.6,167.5 3140.7,167.7 3144.8,168.0 3148.9,168.2 3153.0,168.4 3157.1,168.6 3161.2,168.8 3165.3,169.0 3169.4,169.2 3173.5,169.4 3177.6,169.5 3181.7,169.7 3185.8,169.9 3189.9,170.0 3194.0,170.1 3198.1,170.3 3202.2,170.4 3206.3,170.5 3210.4,170.6 3214.6,170.7 3218.7,170.8 3222.8,170.9 3226.9,170.9 3231.0,171.0 3235.1,171.1 3239.2,171.1 3243.3,171.1 3247.4,171.2 3251.5,171.2 3255.6,171.2 3259.7,171.2 3263.8,171.2 3267.9,171.2 3272.0,171.2 3276.1,171.2 3280.2,171.1 3284.3,171.1 3288.4,171.0 3292.5,171.0 3296.6,170.9 3300.7,170.8 3304.8,170.8 3308.9,170.7 3313.0,170.6 3317.1,170.5 3321.2,170.3 3325.3,170.2 3329.4,170.1 3333.5,169.9 3337.6,169.8 3341.7,169.6 3345.8,169.5 3349.9,169.3 3354.0,169.1 3358.2,168.9 3362.3,168.7 3366.4,168.5 3370.5,168.3 3374.6,168.1 3378.7,167.8 3382.8,167.6 3386.9,167.3 3391.0,167.1 3395.1,166.8 3399.2,166.5 3403.3,166.3 3407.4,166.0 3411.5,165.7 3415.6,165.4 3419.7,165.0 3423.8,164.7 3427.9,164.4 3432.0,164.0 3436.1,163.7 3440.2,163.3 3444.3,163.0 3448.4,162.6 3452.5,162.2 3456.6,161.8 3460.7,161.4 3464.8,161.0 3468.9,160.6 3473.0,160.2 3477.1,159.7 3481.2,159.3 3485.3,158.8 3489.4,158.4 3493.5,157.9 3497.6,157.4 3501.7,156.9 3505.9,156.5 3510.0,156.0 3514.1,155.4 3518.2,154.9 3522.3,154.4 3526.4,153.9 3530.5,153.3 3534.6,152.8 3538.7,152.2 3542.8,151.6 3546.9,151.0 3551.0,150.5 3555.1,149.9 3559.2,149.3 3563.3,148.6 3567.4,148.0 3571.5,147.4 3575.6,146.7 3579.7,146.1 3583.8,145.4 3587.9,144.8 3592.0,144.1 3596.1,143.4 3600.2,142.7 3604.3,142.0 3608.4,141.3 3612.5,140.6 3616.6,139.9 3620.7,139.1 3624.8,138.4 3628.9,137.7 3633.0,136.9 3637.1,136.1 3641.2,135.3 3645.3,134.6 3649.5,133.8 3653.6,133.0 3657.7,132.1 3661.8,131.3 3665.9,130.5 3670.0,129.7 3674.1,128.8 3678.2,128.0 3682.3,127.1" fill="none" stroke="#ff8000" stroke-width="7.5" stroke-linecap="butt" stroke-linejoin="round" stroke-dasharray="4 15.6 16.8 16.4" stroke-dashoffset="0"/>
<path d="M2701.7,97.0 2705.8,97.8 2709.9,98.6 2714.0,99.4 2718.1,100.2 2722.2,101.0 2726.3,101.7 2730.4,102.5 2734.5,103.2 2738.6,104.0 2742.7,104.7 2746.8,105.4 2750.9,106.1 2755.0,106.8 2759.1,107.5 2763.2,108.1 2767.3,108.8 2771.4,109.4 2775.6,110.1 2779.7,110.7 2783.8,111.3 2787.9,111.9 2792.0,112.5 2796.1,113.1 2800.2,113.7 2804.3,114.2 2808.4,114.8 2812.5,115.3 2816.6,115.8 2820.7,116.4 2824.8,116.9 2828.9,117.4 2833.0,117.9 2837.1,118.4 2841.2,118.8 2845.3,119.3 2849.4,119.7 2853.5,120.2 2857.6,120.6 2861.7,121.0 2865.8,121.4 2869.9,121.8 2874.0,122.2 2878.1,122.6 2882.2,123.0 2886.3,123.4 2890.4,123.7 2894.5,124.0 2898.6,124.4 2902.7,124.7 2906.8,125.0 2910.9,125.3 2915.0,125.6 2919.1,125.9 2923.3,126.2 2927.4,126.5 2931.5,126.7 2935.6,127.0 2939.7,127.2 2943.8,127.4 2947.9,127.6 2952.0,127.9 2956.1,128.1 2960.2,128.3 2964.3,128.4 2968.4,128.6 2972.5,128.8 2976.6,128.9 2980.7,129.1 2984.8,129.2 2988.9,129.3 2993.0,129.5 2997.1,129.6 3001.2,129.7 3005.3,129.8 3009.4,129.9 3013.5,129.9 3017.6,130.0 3021.7,130.1 3025.8,130.1 3029.9,130.2 3034.0,130.2 3038.1,130.2 3042.2,130.2 3046.3,130.2 3050.4,130.2 3054.5,130.2 3058.6,130.2 3062.7,130.2 3066.9,130.1 3071.0,130.1 3075.1,130.1 3079.2,130.0 3083.3,129.9 3087.4,129.8 3091.5,129.8 3095.6,129.7 3099.7,129.6 3103.8,129.5 3107.9,129.3 3112.0,129.2 3116.1,129.1 3120.2,128.9 3124.3,128.8 3128.4,128.6 3132.5,128.5 3136.6,128.3 3140.7,128.1 3144.8,127.9 3148.9,127.7 3153.0,127.5 3157.1,127.3 3161.2,127.1 3165.3,126.9 3169.4,126.6 3173.5,126.4 3177.6,126.1 3181.7,125.9 3185.8,125.6 3189.9,125.3 3194.0,125.1 3198.1,124.8 3202.2,124.5 3206.3,124.2 3210.4,123.9 3214.6,123.6 3218.7,123.2 3222.8,122.9 3226.9,122.6 3231.0,122.2 3235.1,121.9 3239.2,121.5 3243.3,121.2 3247.4,120.8 3251.5,120.4 3255.6,120.0 3259.7,119.6 3263.8,119.2 3267.9,118.8 3272.0,118.4 3276.1,118.0 3280.2,117.6 3284.3,117.1 3288.4,116.7 3292.5,116.3 3296.6,115.8 3300.7,115.4 3304.8,114.9 3308.9,114.4 3313.0,114.0 3317.1,113.5 3321.2,113.0 3325.3,112.5 3329.4,112.0 3333.5,111.5 3337.6,111.0 3341.7,110.5 3345.8,110.0 3349.9,109.5 3354.0,108.9 3358.2,108.4 3362.3,107.9 3366.4,107.3 3370.5,106.8 3374.6,106.2 3378.7,105.6 3382.8,105.1 3386.9,104.5 3391.0,103.9 3395.1,103.3 3399.2,102.8 3403.3,102.2 3407.4,101.6 3411.5,101.0 3415.6,100.4 3419.7,99.7 3423.8,99.1 3427.9,98.5 3432.0,97.9 3436.1,97.2 3440.2,96.6 3444.3,96.0 3448.4,95.3 3452.5,94.7 3456.6,94.0 3460.7,93.4 3464.8,92.7 3468.9,92.0 3473.0,91.4 3477.1,90.7 3481.2,90.0 3485.3,89.3 3489.4,88.6 3493.5,88.0 3497.6,87.3 3501.7,86.6 3505.9,85.9 3510.0,85.1 3514.1,84.4 3518.2,83.7 3522.3,83.0 3526.4,82.3 3530.5,81.6 3534.6,80.8 3538.7,80.1 3542.8,79.4 3546.9,78.6 3551.0,77.9 3555.1,77.1 3559.2,76.4 3563.3,75.6 3567.4,74.9 3571.5,74.1 3575.6,73.4 3579.7,72.6 3583.8,71.8 3587.9,71.1 3592.0,70.3 3596.1,69.5 3600.2,68.7 3604.3,67.9 3608.4,67.2 3612.5,66.4 3616.6,65.6 3620.7,64.8 3624.8,64.0 3628.9,63.2 3633.0,62.4 3637.1,61.6 3641.2,60.8 3645.3,60.0 3649.5,59.2 3653.6,58.4 3657.7,57.5 3661.8,56.7 3665.9,55.9 3670.0,55.1 3674.1,54.3 3678.2,53.4 3682.3,52.6" fill="none" stroke="#0000ff" stroke-width="7.5" stroke-linecap="butt" stroke-linejoin="round" stroke-dasharray="4 15.6 16.8 16.4" stroke-dashoffset="0"/>
<text transform="translate(2690.77,1049.30) scale(0.6250,1)" font-family='"Liberation Sans", sans-serif' font-weight="bold" font-style="normal" font-size="63" fill="#000">0</text>
<text transform="translate(2904.17,1049.30) scale(0.6250,1)" font-family='"Liberation Sans", sans-serif' font-weight="bold" font-style="normal" font-size="63" fill="#000">2</text>
<text transform="translate(3117.57,1049.30) scale(0.6250,1)" font-family='"Liberation Sans", sans-serif' font-weight="bold" font-style="normal" font-size="63" fill="#000">4</text>
<text transform="translate(3330.97,1049.30) scale(0.6250,1)" font-family='"Liberation Sans", sans-serif' font-weight="bold" font-style="normal" font-size="63" fill="#000">6</text>
<text transform="translate(3544.37,1049.30) scale(0.6250,1)" font-family='"Liberation Sans", sans-serif' font-weight="bold" font-style="normal" font-size="63" fill="#000">8</text>
<text transform="translate(2649.15,120.60) scale(0.6250,1)" font-family='"Liberation Sans", sans-serif' font-weight="bold" font-style="normal" font-size="63" fill="#000">0</text>
<text transform="translate(2649.15,273.35) scale(0.6250,1)" font-family='"Liberation Sans", sans-serif' font-weight="bold" font-style="normal" font-size="63" fill="#000">5</text>
<rect x="2628.4" y="254.5" width="18.2" height="7" fill="#000"/>
<text transform="translate(2627.29,426.10) scale(0.6250,1)" font-family='"Liberation Sans", sans-serif' font-weight="bold" font-style="normal" font-size="63" fill="#000">10</text>
<rect x="2606.5" y="407.3" width="18.2" height="7" fill="#000"/>
<text transform="translate(2627.29,578.85) scale(0.6250,1)" font-family='"Liberation Sans", sans-serif' font-weight="bold" font-style="normal" font-size="63" fill="#000">15</text>
<rect x="2606.5" y="560.1" width="18.2" height="7" fill="#000"/>
<text transform="translate(2627.29,731.60) scale(0.6250,1)" font-family='"Liberation Sans", sans-serif' font-weight="bold" font-style="normal" font-size="63" fill="#000">20</text>
<rect x="2606.5" y="712.8" width="18.2" height="7" fill="#000"/>
<text transform="translate(2627.29,884.35) scale(0.6250,1)" font-family='"Liberation Sans", sans-serif' font-weight="bold" font-style="normal" font-size="63" fill="#000">25</text>
<rect x="2606.5" y="865.6" width="18.2" height="7" fill="#000"/>
<text transform="translate(3186.00,1144.20) scale(0.5983,1)" font-family='"Liberation Sans", sans-serif' font-weight="bold" font-style="normal" font-size="60" fill="#000" stroke="#000" stroke-width="1.3" stroke-linejoin="round">r</text>
<text transform="translate(2578.90,761.70) rotate(-90) scale(1.4810,1)" font-family='"Liberation Sans", sans-serif' font-weight="bold" font-style="normal" font-size="40.6" fill="#000">Gradients MeV/fm</text>
<text transform="translate(2559.80,249.60) rotate(-90) scale(1.4124,1)" font-family='"Liberation Sans", sans-serif' font-weight="bold" font-style="normal" font-size="31" fill="#000">3</text>
<text transform="translate(2083.20,294.50) scale(0.6247,1)" font-family='"Liberation Sans", sans-serif' font-weight="bold" font-style="normal" font-size="55" fill="#000" stroke="#000" stroke-width="0.9" stroke-linejoin="round">Solid</text>
<rect x="2181.0" y="272.4" width="16.2" height="6.2" fill="#000"/>
<rect x="2181.0" y="283.7" width="16.2" height="6.2" fill="#000"/>
<rect x="2211.3" y="275.8" width="35.6" height="5.8" fill="#000"/>
<text transform="translate(2214.86,262.00) scale(0.5447,1)" font-family='"Liberation Sans", sans-serif' font-weight="bold" font-style="normal" font-size="45" fill="#000" stroke="#000" stroke-width="0.9" stroke-linejoin="round">d</text>
<text transform="translate(2231.83,262.00) scale(0.5274,1)" font-family='"Liberation Sans", sans-serif' font-weight="bold" font-style="italic" font-size="45" fill="#000" stroke="#000" stroke-width="0.9" stroke-linejoin="round">ρ</text>
<text transform="translate(2214.80,340.60) scale(0.6356,1)" font-family='"Liberation Sans", sans-serif' font-weight="bold" font-style="normal" font-size="45" fill="#000" stroke="#000" stroke-width="0.9" stroke-linejoin="round">dr</text>
<text transform="translate(2052.60,457.20) scale(0.6326,1)" font-family='"Liberation Sans", sans-serif' font-weight="bold" font-style="normal" font-size="55" fill="#000" stroke="#000" stroke-width="0.9" stroke-linejoin="round">Dashed</text>
<rect x="2191.6" y="434.3" width="16.3" height="6.5" fill="#000"/>
<rect x="2191.6" y="446.2" width="16.3" height="6.5" fill="#000"/>
<rect x="2222.2" y="438.0" width="51.9" height="5.8" fill="#000"/>
<text transform="translate(2225.20,421.60) scale(0.5693,1)" font-family='"Liberation Sans", sans-serif' font-weight="bold" font-style="normal" font-size="45" fill="#000" stroke="#000" stroke-width="0.9" stroke-linejoin="round">dp</text>
<text transform="translate(2259.57,433.60) scale(0.7777,1)" font-family='"Liberation Sans", sans-serif' font-weight="bold" font-style="italic" font-size="40.0" fill="#000" stroke="#000" stroke-width="0.9" stroke-linejoin="round">r</text>
<text transform="translate(2233.85,501.70) scale(0.6356,1)" font-family='"Liberation Sans", sans-serif' font-weight="bold" font-style="normal" font-size="45" fill="#000" stroke="#000" stroke-width="0.9" stroke-linejoin="round">dr</text>
<text transform="translate(1985.20,596.70) scale(0.6366,1)" font-family='"Liberation Sans", sans-serif' font-weight="bold" font-style="normal" font-size="55" fill="#000" stroke="#000" stroke-width="0.9" stroke-linejoin="round">Dot Dashed</text>
<rect x="2193.0" y="574.5" width="16.4" height="6.6" fill="#000"/>
<rect x="2193.0" y="586.4" width="16.4" height="6.6" fill="#000"/>
<rect x="2223.7" y="578.4" width="50.4" height="5.8" fill="#000"/>
<text transform="translate(2226.70,561.00) scale(0.5513,1)" font-family='"Liberation Sans", sans-serif' font-weight="bold" font-style="normal" font-size="45" fill="#000" stroke="#000" stroke-width="0.9" stroke-linejoin="round">dp</text>
<text transform="translate(2259.99,573.00) scale(0.8859,1)" font-family='"Liberation Sans", sans-serif' font-weight="bold" font-style="italic" font-size="40.0" fill="#000" stroke="#000" stroke-width="0.9" stroke-linejoin="round">t</text>
<text transform="translate(2234.60,642.80) scale(0.6356,1)" font-family='"Liberation Sans", sans-serif' font-weight="bold" font-style="normal" font-size="45" fill="#000" stroke="#000" stroke-width="0.9" stroke-linejoin="round">dr</text>
<text transform="translate(2824.10,559.60) scale(0.6269,1)" font-family='"Liberation Sans", sans-serif' font-weight="bold" font-style="normal" font-size="55" fill="#000" stroke="#000" stroke-width="0.9" stroke-linejoin="round">Solid</text>
<rect x="2921.7" y="537.7" width="17.0" height="6.2" fill="#000"/>
<rect x="2921.7" y="549.1" width="17.0" height="6.2" fill="#000"/>
<rect x="2953.6" y="537.6" width="40.3" height="5.8" fill="#000"/>
<text transform="translate(2957.63,521.70) scale(0.5550,1)" font-family='"Liberation Sans", sans-serif' font-weight="bold" font-style="normal" font-size="50" fill="#000" stroke="#000" stroke-width="0.9" stroke-linejoin="round">d</text>
<text transform="translate(2976.84,521.70) scale(0.5373,1)" font-family='"Liberation Sans", sans-serif' font-weight="bold" font-style="italic" font-size="50" fill="#000" stroke="#000" stroke-width="0.9" stroke-linejoin="round">ρ</text>
<text transform="translate(2957.86,605.10) scale(0.6356,1)" font-family='"Liberation Sans", sans-serif' font-weight="bold" font-style="normal" font-size="50" fill="#000" stroke="#000" stroke-width="0.9" stroke-linejoin="round">dr</text>
<text transform="translate(2778.00,702.70) scale(0.6326,1)" font-family='"Liberation Sans", sans-serif' font-weight="bold" font-style="normal" font-size="55" fill="#000" stroke="#000" stroke-width="0.9" stroke-linejoin="round">Dashed</text>
<rect x="2918.0" y="680.5" width="17.4" height="6.2" fill="#000"/>
<rect x="2918.0" y="691.8" width="17.4" height="6.2" fill="#000"/>
<rect x="2949.3" y="681.4" width="53.4" height="5.8" fill="#000"/>
<text transform="translate(2952.63,661.00) scale(0.5231,1)" font-family='"Liberation Sans", sans-serif' font-weight="bold" font-style="normal" font-size="50" fill="#000" stroke="#000" stroke-width="0.9" stroke-linejoin="round">dp</text>
<text transform="translate(2987.75,674.33) scale(0.7217,1)" font-family='"Liberation Sans", sans-serif' font-weight="bold" font-style="italic" font-size="44.44444444444444" fill="#000" stroke="#000" stroke-width="0.9" stroke-linejoin="round">r</text>
<text transform="translate(2960.11,747.30) scale(0.6356,1)" font-family='"Liberation Sans", sans-serif' font-weight="bold" font-style="normal" font-size="50" fill="#000" stroke="#000" stroke-width="0.9" stroke-linejoin="round">dr</text>
<text transform="translate(2709.50,845.90) scale(0.6353,1)" font-family='"Liberation Sans", sans-serif' font-weight="bold" font-style="normal" font-size="55" fill="#000" stroke="#000" stroke-width="0.9" stroke-linejoin="round">Dot Dashed</text>
<rect x="2918.0" y="822.0" width="17.4" height="6.7" fill="#000"/>
<rect x="2918.0" y="834.3" width="17.4" height="6.7" fill="#000"/>
<rect x="2950.2" y="824.4" width="50.9" height="5.8" fill="#000"/>
<text transform="translate(2953.53,806.00) scale(0.4961,1)" font-family='"Liberation Sans", sans-serif' font-weight="bold" font-style="normal" font-size="50" fill="#000" stroke="#000" stroke-width="0.9" stroke-linejoin="round">dp</text>
<text transform="translate(2986.85,819.33) scale(0.8059,1)" font-family='"Liberation Sans", sans-serif' font-weight="bold" font-style="italic" font-size="44.44444444444444" fill="#000" stroke="#000" stroke-width="0.9" stroke-linejoin="round">t</text>
<text transform="translate(2959.76,889.40) scale(0.6356,1)" font-family='"Liberation Sans", sans-serif' font-weight="bold" font-style="normal" font-size="50" fill="#000" stroke="#000" stroke-width="0.9" stroke-linejoin="round">dr</text>
<text transform="translate(11.00,1265.50) scale(1.0803,1)" font-family='"Liberation Serif", serif' font-weight="normal" font-style="normal" font-size="68.5" fill="#000">(a)For</text>
<text transform="translate(281.00,1265.50) scale(1.1095,1)" font-family='"Liberation Serif", serif' font-weight="normal" font-style="italic" font-size="68.5" fill="#000">n</text>
<text transform="translate(403.50,1265.50) scale(1.0935,1)" font-family='"Liberation Serif", serif' font-weight="normal" font-style="normal" font-size="68.5" fill="#000">variations</text>
<text transform="translate(783.40,1265.50) scale(1.0924,1)" font-family='"Liberation Serif", serif' font-weight="normal" font-style="normal" font-size="68.5" fill="#000">with</text>
<g transform="translate(2.69,3.41) scale(0.9973)" fill="none" stroke="#000" stroke-linecap="round"><path d="M1000.6,1248.2 C1003.7,1240.5 1008.2,1237.3 1012.6,1237.5 C1019.0,1237.9 1024.2,1245.6 1024.4,1255.9" stroke-width="3.6"/><path d="M1024.6,1256 L1019.9,1278.6" stroke-width="3.9"/><path d="M1035.3,1237.4 L1024.6,1256" stroke-width="2.6"/></g>
<path d="M1157.3,1241.8H1201.4M1157.3,1255.9H1201.4" stroke="#000" stroke-width="3.2" stroke-linecap="round" fill="none"/>
<text transform="translate(8.90,1344.30) scale(1.0393,1)" font-family='"Liberation Serif", serif' font-weight="normal" font-style="normal" font-size="67" fill="#000">0.0009,</text>
<text transform="translate(258.60,1344.30) scale(0.9731,1)" font-family='"Liberation Serif", serif' font-weight="normal" font-style="italic" font-size="67" fill="#000">a</text>
<path d="M318.4,1320.1H361.8M318.4,1334.2H361.8" stroke="#000" stroke-width="3.2" stroke-linecap="round" fill="none"/>
<text transform="translate(389.00,1344.30) scale(1.0366,1)" font-family='"Liberation Serif", serif' font-weight="normal" font-style="normal" font-size="67" fill="#000">0.0003</text>
<text transform="translate(1262.50,1265.50) scale(1.0570,1)" font-family='"Liberation Serif", serif' font-weight="normal" font-style="normal" font-size="68.5" fill="#000">(b)For</text>
<text transform="translate(1532.50,1265.50) scale(1.1095,1)" font-family='"Liberation Serif", serif' font-weight="normal" font-style="italic" font-size="68.5" fill="#000">n</text>
<text transform="translate(1655.00,1265.50) scale(1.0935,1)" font-family='"Liberation Serif", serif' font-weight="normal" font-style="normal" font-size="68.5" fill="#000">variations</text>
<text transform="translate(2034.90,1265.50) scale(1.0924,1)" font-family='"Liberation Serif", serif' font-weight="normal" font-style="normal" font-size="68.5" fill="#000">with</text>
<g transform="translate(1254.19,3.41) scale(0.9973)" fill="none" stroke="#000" stroke-linecap="round"><path d="M1000.6,1248.2 C1003.7,1240.5 1008.2,1237.3 1012.6,1237.5 C1019.0,1237.9 1024.2,1245.6 1024.4,1255.9" stroke-width="3.6"/><path d="M1024.6,1256 L1019.9,1278.6" stroke-width="3.9"/><path d="M1035.3,1237.4 L1024.6,1256" stroke-width="2.6"/></g>
<path d="M2408.8,1241.8H2452.9M2408.8,1255.9H2452.9" stroke="#000" stroke-width="3.2" stroke-linecap="round" fill="none"/>
<text transform="translate(1260.40,1344.30) scale(1.0393,1)" font-family='"Liberation Serif", serif' font-weight="normal" font-style="normal" font-size="67" fill="#000">0.0009,</text>
<text transform="translate(1510.10,1344.30) scale(0.9731,1)" font-family='"Liberation Serif", serif' font-weight="normal" font-style="italic" font-size="67" fill="#000">a</text>
<path d="M1569.9,1320.1H1613.3M1569.9,1334.2H1613.3" stroke="#000" stroke-width="3.2" stroke-linecap="round" fill="none"/>
<text transform="translate(1640.50,1344.30) scale(1.0366,1)" font-family='"Liberation Serif", serif' font-weight="normal" font-style="normal" font-size="67" fill="#000">0.0003</text>
<text transform="translate(2510.40,1265.50) scale(1.0546,1)" font-family='"Liberation Serif", serif' font-weight="normal" font-style="normal" font-size="68.5" fill="#000">(c)For</text>
<text transform="translate(2716.90,1265.50) scale(1.0247,1)" font-family='"Liberation Serif", serif' font-weight="normal" font-style="italic" font-size="68.5" fill="#000">β</text>
<text transform="translate(2784.80,1265.50) scale(1.0739,1)" font-family='"Liberation Serif", serif' font-weight="normal" font-style="normal" font-size="68.5" fill="#000">variations</text>
<text transform="translate(3101.60,1265.50) scale(1.0473,1)" font-family='"Liberation Serif", serif' font-weight="normal" font-style="normal" font-size="68.5" fill="#000">with</text>
<g transform="translate(2301.87,61.40) scale(0.9515)" fill="none" stroke="#000" stroke-linecap="round"><path d="M1000.6,1248.2 C1003.7,1240.5 1008.2,1237.3 1012.6,1237.5 C1019.0,1237.9 1024.2,1245.6 1024.4,1255.9" stroke-width="3.6"/><path d="M1024.6,1256 L1019.9,1278.6" stroke-width="3.9"/><path d="M1035.3,1237.4 L1024.6,1256" stroke-width="2.6"/></g>
<path d="M3315.2,1241.8H3359.4M3315.2,1255.9H3359.4" stroke="#000" stroke-width="3.2" stroke-linecap="round" fill="none"/>
<text transform="translate(3387.00,1265.50) scale(1.0073,1)" font-family='"Liberation Serif", serif' font-weight="normal" font-style="normal" font-size="68.5" fill="#000">0.009,</text>
<text transform="translate(3597.50,1265.50) scale(0.9489,1)" font-family='"Liberation Serif", serif' font-weight="normal" font-style="italic" font-size="68.5" fill="#000">a</text>
<path d="M3657.6,1241.8H3700.4M3657.6,1255.9H3700.4" stroke="#000" stroke-width="3.2" stroke-linecap="round" fill="none"/>
<text transform="translate(2508.50,1344.30) scale(1.0243,1)" font-family='"Liberation Serif", serif' font-weight="normal" font-style="normal" font-size="67" fill="#000">0.03</text>
</svg>
</body></html>
